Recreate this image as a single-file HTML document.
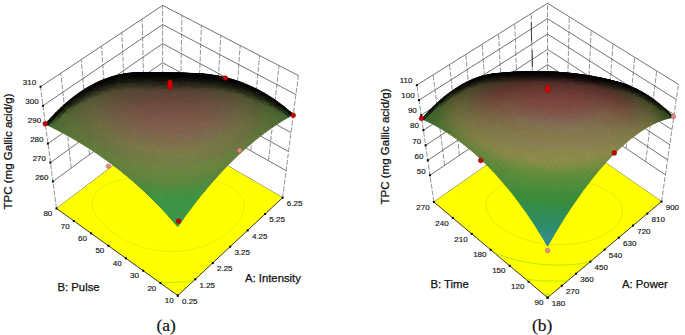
<!DOCTYPE html><html><head><meta charset="utf-8"><style>html,body{margin:0;padding:0;background:#fff;width:685px;height:335px;overflow:hidden}</style></head><body><svg width="685" height="335" viewBox="0 0 685 335" style="position:absolute;left:0;top:0">
<rect width="685" height="335" fill="#fff"/>
<line x1="52.9" y1="181.5" x2="162.6" y2="100.9" stroke="#444" stroke-width="0.75"/>
<line x1="162.6" y1="100.9" x2="286.1" y2="170.7" stroke="#444" stroke-width="0.75"/>
<line x1="50.4" y1="162.6" x2="162.6" y2="81.8" stroke="#444" stroke-width="0.75"/>
<line x1="162.6" y1="81.8" x2="288.6" y2="151.6" stroke="#444" stroke-width="0.75"/>
<line x1="47.9" y1="143.6" x2="162.6" y2="62.7" stroke="#444" stroke-width="0.75"/>
<line x1="162.6" y1="62.7" x2="291" y2="132.6" stroke="#444" stroke-width="0.75"/>
<line x1="45.5" y1="124.6" x2="162.6" y2="43.6" stroke="#444" stroke-width="0.75"/>
<line x1="162.6" y1="43.6" x2="293.5" y2="113.6" stroke="#444" stroke-width="0.75"/>
<line x1="43" y1="105.7" x2="162.6" y2="24.5" stroke="#444" stroke-width="0.75"/>
<line x1="162.6" y1="24.5" x2="295.9" y2="94.6" stroke="#444" stroke-width="0.75"/>
<line x1="40.5" y1="86.7" x2="162.6" y2="5.4" stroke="#444" stroke-width="0.75"/>
<line x1="162.6" y1="5.4" x2="298.4" y2="75.6" stroke="#444" stroke-width="0.75"/>
<line x1="56.5" y1="208.5" x2="162.6" y2="128.1" stroke="#333" stroke-width="0.8"/>
<line x1="162.6" y1="128.1" x2="282.6" y2="197.7" stroke="#333" stroke-width="0.8"/>
<line x1="56.5" y1="208.5" x2="40.5" y2="86.7" stroke="#666" stroke-width="0.7" stroke-dasharray="5,1.6"/>
<line x1="71.2" y1="168.1" x2="60.8" y2="73.2" stroke="#666" stroke-width="0.7" stroke-dasharray="5,1.6"/>
<line x1="89.5" y1="154.7" x2="81.2" y2="59.6" stroke="#666" stroke-width="0.7" stroke-dasharray="5,1.6"/>
<line x1="107.8" y1="141.2" x2="101.5" y2="46.1" stroke="#666" stroke-width="0.7" stroke-dasharray="5,1.6"/>
<line x1="126" y1="127.8" x2="121.9" y2="32.5" stroke="#666" stroke-width="0.7" stroke-dasharray="5,1.6"/>
<line x1="144.3" y1="114.3" x2="142.2" y2="19" stroke="#666" stroke-width="0.7" stroke-dasharray="5,1.6"/>
<line x1="162.6" y1="128.1" x2="162.6" y2="5.4" stroke="#666" stroke-width="0.7" stroke-dasharray="5,1.6"/>
<line x1="282.6" y1="197.7" x2="298.4" y2="75.6" stroke="#666" stroke-width="0.7" stroke-dasharray="5,1.6"/>
<line x1="268.5" y1="160.7" x2="279" y2="65.6" stroke="#666" stroke-width="0.7" stroke-dasharray="5,1.6"/>
<line x1="250.8" y1="150.7" x2="259.6" y2="55.5" stroke="#666" stroke-width="0.7" stroke-dasharray="5,1.6"/>
<line x1="233.2" y1="140.8" x2="240.2" y2="45.5" stroke="#666" stroke-width="0.7" stroke-dasharray="5,1.6"/>
<line x1="215.5" y1="130.8" x2="220.8" y2="35.5" stroke="#666" stroke-width="0.7" stroke-dasharray="5,1.6"/>
<line x1="197.9" y1="120.8" x2="201.4" y2="25.5" stroke="#666" stroke-width="0.7" stroke-dasharray="5,1.6"/>
<line x1="180.2" y1="110.9" x2="182" y2="15.4" stroke="#666" stroke-width="0.7" stroke-dasharray="5,1.6"/>
<polygon points="177.8,295.6 282.6,197.7 162.6,128.1 56.5,208.5" fill="#ffff00"/>
<line x1="177.8" y1="295.6" x2="282.6" y2="197.7" stroke="#222" stroke-width="0.9"/>
<line x1="177.8" y1="295.6" x2="56.5" y2="208.5" stroke="#222" stroke-width="0.9"/>
<path d="M231.3 187.4L232.1 187.9L233.2 188.6L234.4 189.4L235.4 190.2L236.2 190.9L237.1 191.7L237.9 192.4L238.7 193.3L239.3 193.9L239.9 194.6L240.6 195.6L241.2 196.4L241.6 197.2L242.1 198L242.4 198.8L242.7 199.5L243 200.2L243.3 201.2L243.6 202.1L243.7 202.7L243.9 203.7L243.9 204.4L244 205.4L244 206.1L244 207.1L244 207.8L243.9 208.6L243.7 209.6L243.6 210.6L243.4 211.4L243.1 212.3L242.9 213.1L242.6 214L242.2 215L241.8 215.9L241.4 216.7L241 217.5L240.5 218.3L239.9 219.5L239.4 220.3L238.9 221.1L238.1 222.2L237.5 222.9L236.7 224L235.8 225.1L235.2 225.8L234.3 226.8L233.3 227.8L232.3 228.8L231.3 229.8L230.2 230.8L229.1 231.7L228 232.6L226.9 233.5L225.7 234.4L224.9 235L223.7 235.9L222.6 236.6L221.6 237.3L220.4 238.1L219.5 238.6L218.3 239.3L217.3 239.9L216.4 240.4L215 241.1L214 241.6L213.1 242.1L211.9 242.7L210.6 243.2L209.6 243.7L208.6 244.1L207.6 244.5L206.6 245L205.4 245.4L204.2 245.8L203.1 246.2L202 246.6L200.9 247L199.8 247.3L198.8 247.6L197.8 247.9L196.6 248.2L195.4 248.6L194.2 248.9L193 249.1L192 249.4L191 249.6L189.9 249.8L188.6 250L187.5 250.2L186.6 250.4L185.3 250.6L184.1 250.7L183.2 250.8L181.8 251L180.9 251.1L179.7 251.2L178.5 251.3L177.5 251.4L176.2 251.4L175.3 251.5L174 251.5L172.9 251.5L171.8 251.5L170.5 251.5L169.7 251.5L168.3 251.5L167.2 251.4L166.3 251.4L164.9 251.3L163.6 251.2L162.7 251.1L161.6 251L160.4 250.9L159.1 250.7L158 250.6L157 250.5L155.9 250.3L154.8 250.1L153.5 249.9L152.4 249.7L151.2 249.4L150 249.2L148.9 248.9L147.7 248.6L146.6 248.4L145.5 248.1L144.4 247.8L143.1 247.4L141.7 247L140.6 246.6L139.5 246.3L138.5 245.9L137.2 245.4L135.9 245L134.9 244.6L133.7 244.1L132.4 243.6L131.4 243.1L129.9 242.5L129 242.1L127.6 241.4L126.6 240.9L125.2 240.2L124.3 239.7L123 239L121.6 238.3L120.7 237.8L119.4 237L118.2 236.2L116.9 235.4L115.7 234.5L114.4 233.7L113.2 232.8L112 232L110.9 231.1L109.7 230.2L108.6 229.2L107.9 228.6L106.8 227.7L105.7 226.7L105 226L104 225L103.3 224.3L102.4 223.3L101.7 222.6L100.9 221.6L100.2 220.8L99.6 220.1L98.9 219.2L98.2 218.2L97.6 217.4L97.1 216.6L96.6 215.8L96.1 215L95.6 214.1L95.2 213.3L94.8 212.4L94.4 211.5L94 210.6L93.7 209.7L93.4 209.1L93.2 208.3L92.9 207.3L92.8 206.5L92.6 205.7L92.5 204.8L92.5 204.1L92.4 203.1L92.4 202.3L92.5 201.6L92.6 200.6L92.7 199.7L92.9 199L93.1 198.3L93.3 197.5L93.6 196.7L94.1 195.8L94.6 194.8L95 194.1L95.5 193.4L96.3 192.4L96.8 191.7L97.7 190.8L98.7 189.9L99.3 189.3L100.4 188.5L101.5 187.7L102.2 187.2L103.4 186.4L104.6 185.7L105.5 185.3L106.8 184.6L107.7 184.2L109 183.6L110 183.2L111 182.8L112 182.4L113.4 181.9L114.5 181.6L115.5 181.3L116.5 180.9L117.6 180.6L118.7 180.3L119.8 180L120.9 179.8L122 179.5L123.2 179.2L124.3 179L125.5 178.7L126.7 178.5L127.7 178.3L128.7 178.1L129.7 177.9L131 177.7L132.2 177.5L133.3 177.3L134.2 177.2L135.4 177L136.7 176.9L137.7 176.7L138.7 176.6L140.1 176.5L141.1 176.3L142.1 176.2L143.5 176.1L144.5 176L145.6 175.9L146.9 175.8L147.7 175.8L149.1 175.7L150 175.6L151.3 175.5L152.4 175.5L153.5 175.4L154.7 175.3L155.7 175.3L156.9 175.3L158 175.2L159.2 175.2L160.3 175.2L161.4 175.1L162.7 175.1L163.5 175.1L165 175.1L165.9 175.1L167.1 175.1L168.4 175.1L169.2 175.1L170.6 175.2L171.7 175.2L172.6 175.2L174 175.2L175.2 175.3L176 175.3L177.3 175.4L178.7 175.4L179.6 175.5L180.6 175.5L181.9 175.6L183.2 175.7L184.2 175.8L185.2 175.9L186.4 176L187.7 176.1L188.9 176.2L190 176.3L191 176.4L192 176.5L193.2 176.7L194.5 176.8L195.7 177L196.8 177.1L198 177.3L199.2 177.5L200.4 177.7L201.5 177.8L202.7 178L203.8 178.2L204.9 178.5L206 178.7L207.1 178.9L208.2 179.1L209.3 179.4L210.7 179.7L212 180L213.1 180.3L214.1 180.5L215.2 180.8L216.7 181.3L217.7 181.6L218.7 181.9L220.1 182.4L221.1 182.7L222.5 183.2L223.5 183.6L224.8 184.2L225.7 184.6L227.1 185.2L228.4 185.8L229.6 186.5L230.9 187.2" fill="none" stroke="#dcd600" stroke-width="0.5"/>
<path d="M194.1 280.4L193 280.6L191.7 280.8L190.7 280.9L189.7 281.1L188.3 281.3L187.4 281.4L186.3 281.5L184.9 281.7L184.2 281.7L182.7 281.9L181.8 281.9L180.6 282L179.5 282.1L178.3 282.2L177.2 282.2L176.1 282.3L175 282.3L173.7 282.3L172.8 282.4L171.4 282.4L170.6 282.4L169.2 282.4L168.1 282.3L167.1 282.3L165.7 282.2L164.7 282.2L163.7 282.1L162.3 282.1L161.3 282L160.3 281.9L159 281.8" fill="none" stroke="#90e010" stroke-width="0.7"/>
<rect x="176.8" y="294.6" width="2" height="2" fill="#000"/>
<rect x="194.3" y="278.3" width="2" height="2" fill="#000"/>
<rect x="211.8" y="262" width="2" height="2" fill="#000"/>
<rect x="229.2" y="245.7" width="2" height="2" fill="#000"/>
<rect x="246.7" y="229.4" width="2" height="2" fill="#000"/>
<rect x="264.1" y="213" width="2" height="2" fill="#000"/>
<rect x="281.6" y="196.7" width="2" height="2" fill="#000"/>
<rect x="176.8" y="294.6" width="2" height="2" fill="#000"/>
<rect x="159.5" y="282.1" width="2" height="2" fill="#000"/>
<rect x="142.2" y="269.7" width="2" height="2" fill="#000"/>
<rect x="124.8" y="257.3" width="2" height="2" fill="#000"/>
<rect x="107.5" y="244.8" width="2" height="2" fill="#000"/>
<rect x="90.1" y="232.4" width="2" height="2" fill="#000"/>
<rect x="72.8" y="220" width="2" height="2" fill="#000"/>
<rect x="55.5" y="207.5" width="2" height="2" fill="#000"/>
<rect x="51.9" y="180.5" width="2" height="2" fill="#000"/>
<rect x="49.4" y="161.6" width="2" height="2" fill="#000"/>
<rect x="46.9" y="142.6" width="2" height="2" fill="#000"/>
<rect x="44.5" y="123.6" width="2" height="2" fill="#000"/>
<rect x="42" y="104.7" width="2" height="2" fill="#000"/>
<rect x="39.5" y="85.7" width="2" height="2" fill="#000"/>
<path fill="#3c9448" stroke="#3c9448" stroke-width="0.9" d="M177.7 226.8L180.3 223.1L177.4 219.6L174.8 223.3ZM174.8 223.3L177.4 219.6L174.4 216.2L171.8 219.9ZM171.8 219.9L174.4 216.2L171.4 212.8L168.8 216.5ZM168.8 216.5L171.4 212.8L168.4 209.5L165.8 213.2ZM165.8 213.2L168.4 209.5L165.4 206.3L162.8 210ZM162.8 210L165.4 206.3L162.4 203.1L159.8 206.8ZM180.3 223.1L182.9 219.4L180 215.9L177.4 219.6ZM177.4 219.6L180 215.9L177 212.5L174.4 216.2ZM174.4 216.2L177 212.5L174 209.2L171.4 212.8ZM171.4 212.8L174 209.2L171 205.9L168.4 209.5ZM168.4 209.5L171 205.9L168 202.7L165.4 206.3ZM182.9 219.4L185.5 215.7L182.6 212.3L180 215.9ZM180 215.9L182.6 212.3L179.6 208.9L177 212.5ZM177 212.5L179.6 208.9L176.6 205.6L174 209.2ZM174 209.2L176.6 205.6L173.6 202.3L171 205.9ZM185.5 215.7L188.1 212.2L185.2 208.7L182.6 212.3ZM182.6 212.3L185.2 208.7L182.2 205.3L179.6 208.9ZM179.6 208.9L182.2 205.3L179.2 202L176.6 205.6ZM176.6 205.6L179.2 202L176.2 198.8L173.6 202.3ZM188.1 212.2L190.8 208.7L187.8 205.2L185.2 208.7ZM185.2 208.7L187.8 205.2L184.8 201.8L182.2 205.3ZM182.2 205.3L184.8 201.8L181.8 198.5L179.2 202ZM190.8 208.7L193.4 205.2L190.4 201.8L187.8 205.2Z"/>
<path fill="#3c9444" stroke="#3c9444" stroke-width="0.9" d="M159.8 206.8L162.4 203.1L159.4 200L156.8 203.7ZM156.8 203.7L159.4 200L156.4 197L153.8 200.7ZM153.8 200.7L156.4 197L153.3 194L150.8 197.7ZM165.4 206.3L168 202.7L165 199.5L162.4 203.1ZM162.4 203.1L165 199.5L162 196.4L159.4 200ZM171 205.9L173.6 202.3L170.6 199.1L168 202.7ZM168 202.7L170.6 199.1L167.6 195.9L165 199.5ZM173.6 202.3L176.2 198.8L173.2 195.6L170.6 199.1ZM179.2 202L181.8 198.5L178.9 195.3L176.2 198.8ZM187.8 205.2L190.4 201.8L187.5 198.4L184.8 201.8ZM184.8 201.8L187.5 198.4L184.5 195.1L181.8 198.5ZM193.4 205.2L196 201.8L193.1 198.4L190.4 201.8ZM190.4 201.8L193.1 198.4L190.1 195L187.5 198.4ZM196 201.8L198.7 198.4L195.7 195L193.1 198.4Z"/>
<path fill="#409044" stroke="#409044" stroke-width="0.9" d="M150.8 197.7L153.3 194L150.3 191.1L147.7 194.7ZM165 199.5L167.6 195.9L164.6 192.9L162 196.4ZM170.6 199.1L173.2 195.6L170.2 192.4L167.6 195.9ZM176.2 198.8L178.9 195.3L175.9 192.1L173.2 195.6ZM181.8 198.5L184.5 195.1L181.5 191.9L178.9 195.3ZM187.5 198.4L190.1 195L187.1 191.7L184.5 195.1ZM193.1 198.4L195.7 195L192.7 191.7L190.1 195Z"/>
<path fill="#448c40" stroke="#448c40" stroke-width="0.9" d="M147.7 194.7L150.3 191.1L147.3 188.2L144.7 191.9ZM167.6 195.9L170.2 192.4L167.2 189.4L164.6 192.9ZM190.1 195L192.7 191.7L189.8 188.4L187.1 191.7ZM204 191.9L206.6 188.7L203.7 185.3L201 188.5Z"/>
<path fill="#488c40" stroke="#488c40" stroke-width="0.9" d="M144.7 191.9L147.3 188.2L144.3 185.4L141.7 189ZM153.3 194L155.9 190.4L152.9 187.5L150.3 191.1ZM159 193.4L161.6 189.9L158.6 186.9L155.9 190.4ZM173.2 195.6L175.9 192.1L172.9 189L170.2 192.4ZM178.9 195.3L181.5 191.9L178.5 188.7L175.9 192.1ZM184.5 195.1L187.1 191.7L184.1 188.5L181.5 191.9ZM198.4 191.7L201 188.5L198 185.2L195.4 188.4Z"/>
<path fill="#4c8840" stroke="#4c8840" stroke-width="0.9" d="M141.7 189L144.3 185.4L141.2 182.7L138.6 186.3Z"/>
<path fill="#508840" stroke="#508840" stroke-width="0.9" d="M138.6 186.3L141.2 182.7L138.2 180L135.6 183.6ZM147.3 188.2L149.9 184.7L146.9 181.9L144.3 185.4ZM155.9 190.4L158.6 186.9L155.5 184L152.9 187.5ZM195.4 188.4L198 185.2L195.1 182L192.4 185.2ZM201 188.5L203.7 185.3L200.7 182L198 185.2ZM209.3 185.6L211.9 182.5L209 179.2L206.3 182.2Z"/>
<path fill="#548440" stroke="#548440" stroke-width="0.9" d="M135.6 183.6L138.2 180L135.1 177.3L132.6 180.9Z"/>
<path fill="#588440" stroke="#588440" stroke-width="0.9" d="M132.6 180.9L135.1 177.3L132.1 174.8L129.5 178.3ZM141.2 182.7L143.8 179.1L140.8 176.5L138.2 180ZM149.9 184.7L152.5 181.2L149.5 178.4L146.9 181.9ZM214.6 179.5L217.3 176.5L214.3 173.2L211.7 176.2Z"/>
<path fill="#5c843c" stroke="#5c843c" stroke-width="0.9" d="M129.5 178.3L132.1 174.8L129.1 172.2L126.5 175.8Z"/>
<path fill="#60803c" stroke="#60803c" stroke-width="0.9" d="M126.5 175.8L129.1 172.2L126 169.7L123.4 173.3ZM123.4 173.3L126 169.7L123 167.3L120.4 170.8ZM120.4 170.8L123 167.3L119.9 164.9L117.4 168.4ZM117.4 168.4L119.9 164.9L116.9 162.6L114.3 166.1ZM114.3 166.1L116.9 162.6L113.9 160.3L111.3 163.8ZM135.1 177.3L137.7 173.8L134.7 171.3L132.1 174.8ZM132.1 174.8L134.7 171.3L131.7 168.7L129.1 172.2ZM219.9 173.6L222.6 170.7L219.7 167.5L217 170.3ZM222.6 170.7L225.3 167.9L222.3 164.7L219.7 167.5Z"/>
<path fill="#607c3c" stroke="#607c3c" stroke-width="0.9" d="M111.3 163.8L113.9 160.3L110.8 158.1L108.2 161.5ZM108.2 161.5L110.8 158.1L107.8 155.9L105.2 159.3ZM105.2 159.3L107.8 155.9L104.7 153.8L102.2 157.2ZM102.2 157.2L104.7 153.8L101.7 151.7L99.1 155.1ZM99.1 155.1L101.7 151.7L98.7 149.7L96.1 153ZM96.1 153L98.7 149.7L95.6 147.7L93.1 151Z"/>
<path fill="#60783c" stroke="#60783c" stroke-width="0.9" d="M93.1 151L95.6 147.7L92.6 145.7L90.1 149ZM90.1 149L92.6 145.7L89.6 143.8L87.1 147.1ZM92.6 145.7L95.2 142.5L92.2 140.6L89.6 143.8ZM251.9 143L254.6 140.8L251.7 137.8L249 139.9ZM254.6 140.8L257.2 138.6L254.3 135.6L251.7 137.8Z"/>
<path fill="#5c7838" stroke="#5c7838" stroke-width="0.9" d="M87.1 147.1L89.6 143.8L86.6 141.9L84 145.2ZM84 145.2L86.6 141.9L83.6 140.1L81 143.3Z"/>
<path fill="#5c7438" stroke="#5c7438" stroke-width="0.9" d="M81 143.3L83.6 140.1L80.6 138.3L78 141.5ZM78 141.5L80.6 138.3L77.6 136.6L75 139.8ZM80.6 138.3L83.1 135.2L80.1 133.4L77.6 136.6ZM77.6 136.6L80.1 133.4L77.1 131.8L74.6 134.9ZM259.8 136.5L262.5 134.5L259.6 131.6L256.9 133.6ZM262.5 134.5L265.1 132.5L262.2 129.6L259.6 131.6Z"/>
<path fill="#587438" stroke="#587438" stroke-width="0.9" d="M75 139.8L77.6 136.6L74.6 134.9L72 138ZM72 138L74.6 134.9L71.6 133.2L69.1 136.3ZM74.6 134.9L77.1 131.8L74.1 130.1L71.6 133.2Z"/>
<path fill="#587038" stroke="#587038" stroke-width="0.9" d="M69.1 136.3L71.6 133.2L68.6 131.5L66.1 134.7ZM71.6 133.2L74.1 130.1L71.2 128.5L68.6 131.5ZM265.1 132.5L267.7 130.6L264.8 127.7L262.2 129.6ZM267.7 130.6L270.3 128.7L267.4 125.9L264.8 127.7ZM264.8 127.7L267.4 125.9L264.5 123.2L261.9 125Z"/>
<path fill="#547034" stroke="#547034" stroke-width="0.9" d="M66.1 134.7L68.6 131.5L65.6 129.9L63.1 133ZM63.1 133L65.6 129.9L62.7 128.4L60.1 131.5ZM65.6 129.9L68.2 126.9L65.2 125.4L62.7 128.4ZM270.3 128.7L272.9 126.9L270 124.1L267.4 125.9Z"/>
<path fill="#506c34" stroke="#506c34" stroke-width="0.9" d="M60.1 131.5L62.7 128.4L59.7 126.9L57.2 129.9ZM59.7 126.9L62.2 123.9L59.3 122.4L56.7 125.4ZM56.7 125.4L59.3 122.4L56.3 121L53.8 123.9ZM275.5 125.2L278.1 123.5L275.2 120.7L272.6 122.4Z"/>
<path fill="#4c6c34" stroke="#4c6c34" stroke-width="0.9" d="M57.2 129.9L59.7 126.9L56.7 125.4L54.2 128.4ZM54.2 128.4L56.7 125.4L53.8 123.9L51.3 126.9Z"/>
<path fill="#486c34" stroke="#486c34" stroke-width="0.9" d="M51.3 126.9L53.8 123.9L50.8 122.5L48.3 125.4Z"/>
<path fill="#141c10" stroke="#141c10" stroke-width="0.9" d="M48.3 125.4L50.8 122.5L47.9 121.1L45.4 124Z"/>
<path fill="#409444" stroke="#409444" stroke-width="0.9" d="M159.4 200L162 196.4L159 193.4L156.4 197ZM198.7 198.4L201.3 195.1L198.4 191.7L195.7 195Z"/>
<path fill="#449044" stroke="#449044" stroke-width="0.9" d="M156.4 197L159 193.4L155.9 190.4L153.3 194ZM162 196.4L164.6 192.9L161.6 189.9L159 193.4ZM195.7 195L198.4 191.7L195.4 188.4L192.7 191.7ZM201.3 195.1L204 191.9L201 188.5L198.4 191.7Z"/>
<path fill="#4c8c40" stroke="#4c8c40" stroke-width="0.9" d="M150.3 191.1L152.9 187.5L149.9 184.7L147.3 188.2ZM164.6 192.9L167.2 189.4L164.2 186.4L161.6 189.9ZM170.2 192.4L172.9 189L169.8 185.9L167.2 189.4ZM175.9 192.1L178.5 188.7L175.5 185.6L172.9 189ZM181.5 191.9L184.1 188.5L181.1 185.4L178.5 188.7ZM187.1 191.7L189.8 188.4L186.8 185.2L184.1 188.5ZM192.7 191.7L195.4 188.4L192.4 185.2L189.8 188.4ZM206.6 188.7L209.3 185.6L206.3 182.2L203.7 185.3Z"/>
<path fill="#548840" stroke="#548840" stroke-width="0.9" d="M144.3 185.4L146.9 181.9L143.8 179.1L141.2 182.7ZM152.9 187.5L155.5 184L152.5 181.2L149.9 184.7ZM161.6 189.9L164.2 186.4L161.2 183.4L158.6 186.9ZM167.2 189.4L169.8 185.9L166.8 182.9L164.2 186.4ZM172.9 189L175.5 185.6L172.5 182.6L169.8 185.9ZM178.5 188.7L181.1 185.4L178.1 182.3L175.5 185.6ZM184.1 188.5L186.8 185.2L183.8 182.1L181.1 185.4ZM189.8 188.4L192.4 185.2L189.4 182L186.8 185.2ZM203.7 185.3L206.3 182.2L203.4 178.9L200.7 182ZM211.9 182.5L214.6 179.5L211.7 176.2L209 179.2Z"/>
<path fill="#5c8440" stroke="#5c8440" stroke-width="0.9" d="M138.2 180L140.8 176.5L137.7 173.8L135.1 177.3ZM155.5 184L158.1 180.5L155.1 177.7L152.5 181.2ZM200.7 182L203.4 178.9L200.4 175.7L197.7 178.8ZM209 179.2L211.7 176.2L208.7 172.9L206 175.9ZM217.3 176.5L219.9 173.6L217 170.3L214.3 173.2Z"/>
<path fill="#648040" stroke="#648040" stroke-width="0.9" d="M129.1 172.2L131.7 168.7L128.6 166.3L126 169.7ZM126 169.7L128.6 166.3L125.6 163.9L123 167.3Z"/>
<path fill="#64803c" stroke="#64803c" stroke-width="0.9" d="M123 167.3L125.6 163.9L122.5 161.5L119.9 164.9ZM119.9 164.9L122.5 161.5L119.5 159.2L116.9 162.6ZM116.9 162.6L119.5 159.2L116.4 156.9L113.9 160.3ZM225.3 167.9L227.9 165.2L225 162L222.3 164.7ZM227.9 165.2L230.6 162.5L227.7 159.3L225 162ZM230.6 162.5L233.3 159.9L230.4 156.7L227.7 159.3ZM233.3 159.9L236 157.3L233 154.1L230.4 156.7ZM236 157.3L238.6 154.8L235.7 151.6L233 154.1ZM238.6 154.8L241.3 152.3L238.4 149.2L235.7 151.6Z"/>
<path fill="#647c3c" stroke="#647c3c" stroke-width="0.9" d="M113.9 160.3L116.4 156.9L113.4 154.7L110.8 158.1ZM110.8 158.1L113.4 154.7L110.4 152.6L107.8 155.9ZM107.8 155.9L110.4 152.6L107.3 150.5L104.7 153.8ZM241.3 152.3L243.9 149.9L241 146.8L238.4 149.2ZM243.9 149.9L246.6 147.5L243.7 144.4L241 146.8Z"/>
<path fill="#64783c" stroke="#64783c" stroke-width="0.9" d="M104.7 153.8L107.3 150.5L104.3 148.4L101.7 151.7ZM101.7 151.7L104.3 148.4L101.3 146.4L98.7 149.7ZM98.7 149.7L101.3 146.4L98.2 144.4L95.6 147.7ZM95.6 147.7L98.2 144.4L95.2 142.5L92.6 145.7ZM246.6 147.5L249.3 145.2L246.4 142.1L243.7 144.4ZM249.3 145.2L251.9 143L249 139.9L246.4 142.1Z"/>
<path fill="#60743c" stroke="#60743c" stroke-width="0.9" d="M89.6 143.8L92.2 140.6L89.2 138.7L86.6 141.9ZM86.6 141.9L89.2 138.7L86.1 136.9L83.6 140.1Z"/>
<path fill="#607438" stroke="#607438" stroke-width="0.9" d="M83.6 140.1L86.1 136.9L83.1 135.2L80.6 138.3ZM257.2 138.6L259.8 136.5L256.9 133.6L254.3 135.6Z"/>
<path fill="#587034" stroke="#587034" stroke-width="0.9" d="M68.6 131.5L71.2 128.5L68.2 126.9L65.6 129.9ZM71.2 128.5L73.7 125.5L70.7 124L68.2 126.9Z"/>
<path fill="#546c34" stroke="#546c34" stroke-width="0.9" d="M62.7 128.4L65.2 125.4L62.2 123.9L59.7 126.9ZM65.2 125.4L67.8 122.5L64.8 121L62.2 123.9ZM62.2 123.9L64.8 121L61.8 119.6L59.3 122.4ZM67.8 122.5L70.4 119.7L67.4 118.2L64.8 121ZM64.8 121L67.4 118.2L64.4 116.8L61.8 119.6ZM272.9 126.9L275.5 125.2L272.6 122.4L270 124.1ZM270 124.1L272.6 122.4L269.7 119.7L267.1 121.4ZM267.1 121.4L269.7 119.7L266.8 117.1L264.2 118.8Z"/>
<path fill="#3c5428" stroke="#3c5428" stroke-width="0.9" d="M53.8 123.9L56.3 121L53.4 119.6L50.8 122.5Z"/>
<path fill="#0c1008" stroke="#0c1008" stroke-width="0.9" d="M50.8 122.5L53.4 119.6L50.4 118.2L47.9 121.1ZM87.9 92.8L90.6 91L87.7 90L85 91.8ZM115.5 82.2L118.2 80.9L115.3 80.3L112.5 81.4ZM123.9 80.5L126.6 79.4L123.7 78.8L120.9 79.8ZM129.6 80.1L132.3 79L129.3 78.4L126.6 79.4ZM135.3 79.7L138 78.7L135 78.1L132.3 79ZM149.7 79.9L152.4 78.9L149.4 78.2L146.7 79.2ZM169.8 80.2L172.5 79.3L169.5 78.5L166.8 79.4ZM206.9 81.5L209.6 80.7L206.5 79.8L203.9 80.5ZM221.3 83.2L223.9 82.4L220.8 81.3L218.2 82.1ZM229.9 84.8L232.5 84L229.5 82.8L226.9 83.6ZM244.6 89.5L247.1 88.5L244.1 87.1L241.6 88ZM241.6 88L244.1 87.1L241.1 85.7L238.5 86.6ZM262.1 96.9L264.6 95.9L261.7 94.1L259.1 95.1ZM259.1 95.1L261.7 94.1L258.7 92.4L256.1 93.4Z"/>
<path fill="#608440" stroke="#608440" stroke-width="0.9" d="M146.9 181.9L149.5 178.4L146.4 175.7L143.8 179.1ZM143.8 179.1L146.4 175.7L143.4 173L140.8 176.5ZM152.5 181.2L155.1 177.7L152.1 175L149.5 178.4ZM161.2 183.4L163.8 180L160.8 177.1L158.1 180.5ZM166.8 182.9L169.5 179.6L166.4 176.7L163.8 180ZM183.8 182.1L186.4 178.8L183.4 175.8L180.8 179ZM189.4 182L192.1 178.8L189.1 175.7L186.4 178.8ZM195.1 182L197.7 178.8L194.7 175.6L192.1 178.8ZM203.4 178.9L206 175.9L203.1 172.7L200.4 175.7ZM211.7 176.2L214.3 173.2L211.4 170L208.7 172.9Z"/>
<path fill="#648440" stroke="#648440" stroke-width="0.9" d="M140.8 176.5L143.4 173L140.3 170.4L137.7 173.8ZM137.7 173.8L140.3 170.4L137.3 167.8L134.7 171.3ZM134.7 171.3L137.3 167.8L134.3 165.3L131.7 168.7ZM149.5 178.4L152.1 175L149 172.3L146.4 175.7ZM146.4 175.7L149 172.3L146 169.6L143.4 173ZM158.1 180.5L160.8 177.1L157.7 174.3L155.1 177.7ZM155.1 177.7L157.7 174.3L154.7 171.6L152.1 175ZM163.8 180L166.4 176.7L163.4 173.8L160.8 177.1ZM172.5 182.6L175.1 179.2L172.1 176.3L169.5 179.6ZM169.5 179.6L172.1 176.3L169.1 173.4L166.4 176.7ZM178.1 182.3L180.8 179L177.8 176L175.1 179.2ZM175.1 179.2L177.8 176L174.8 173L172.1 176.3ZM180.8 179L183.4 175.8L180.4 172.8L177.8 176ZM186.4 178.8L189.1 175.7L186.1 172.6L183.4 175.8ZM192.1 178.8L194.7 175.6L191.8 172.6L189.1 175.7ZM197.7 178.8L200.4 175.7L197.4 172.6L194.7 175.6ZM200.4 175.7L203.1 172.7L200.1 169.6L197.4 172.6ZM206 175.9L208.7 172.9L205.7 169.7L203.1 172.7ZM208.7 172.9L211.4 170L208.4 166.8L205.7 169.7ZM214.3 173.2L217 170.3L214 167.1L211.4 170ZM217 170.3L219.7 167.5L216.7 164.3L214 167.1ZM219.7 167.5L222.3 164.7L219.4 161.5L216.7 164.3Z"/>
<path fill="#688040" stroke="#688040" stroke-width="0.9" d="M131.7 168.7L134.3 165.3L131.2 162.9L128.6 166.3ZM128.6 166.3L131.2 162.9L128.2 160.5L125.6 163.9ZM125.6 163.9L128.2 160.5L125.1 158.2L122.5 161.5ZM137.3 167.8L139.9 164.5L136.9 162L134.3 165.3ZM216.7 164.3L219.4 161.5L216.4 158.4L213.8 161.1ZM222.3 164.7L225 162L222.1 158.8L219.4 161.5ZM225 162L227.7 159.3L224.7 156.1L222.1 158.8ZM227.7 159.3L230.4 156.7L227.4 153.6L224.7 156.1Z"/>
<path fill="#687c40" stroke="#687c40" stroke-width="0.9" d="M122.5 161.5L125.1 158.2L122.1 155.9L119.5 159.2ZM119.5 159.2L122.1 155.9L119 153.6L116.4 156.9ZM230.4 156.7L233 154.1L230.1 151L227.4 153.6ZM233 154.1L235.7 151.6L232.8 148.5L230.1 151Z"/>
<path fill="#687840" stroke="#687840" stroke-width="0.9" d="M116.4 156.9L119 153.6L116 151.4L113.4 154.7ZM113.4 154.7L116 151.4L112.9 149.3L110.4 152.6ZM110.4 152.6L112.9 149.3L109.9 147.2L107.3 150.5ZM235.7 151.6L238.4 149.2L235.4 146.1L232.8 148.5ZM238.4 149.2L241 146.8L238.1 143.7L235.4 146.1ZM241 146.8L243.7 144.4L240.8 141.4L238.1 143.7Z"/>
<path fill="#687440" stroke="#687440" stroke-width="0.9" d="M107.3 150.5L109.9 147.2L106.9 145.2L104.3 148.4ZM104.3 148.4L106.9 145.2L103.8 143.2L101.3 146.4ZM101.3 146.4L103.8 143.2L100.8 141.2L98.2 144.4ZM98.2 144.4L100.8 141.2L97.8 139.3L95.2 142.5ZM243.7 144.4L246.4 142.1L243.4 139.2L240.8 141.4Z"/>
<path fill="#64743c" stroke="#64743c" stroke-width="0.9" d="M95.2 142.5L97.8 139.3L94.8 137.4L92.2 140.6ZM249 139.9L251.7 137.8L248.7 134.8L246.1 137ZM251.7 137.8L254.3 135.6L251.4 132.7L248.7 134.8Z"/>
<path fill="#64703c" stroke="#64703c" stroke-width="0.9" d="M92.2 140.6L94.8 137.4L91.7 135.6L89.2 138.7ZM89.2 138.7L91.7 135.6L88.7 133.8L86.1 136.9Z"/>
<path fill="#60703c" stroke="#60703c" stroke-width="0.9" d="M86.1 136.9L88.7 133.8L85.7 132.1L83.1 135.2ZM83.1 135.2L85.7 132.1L82.7 130.4L80.1 133.4ZM254.3 135.6L256.9 133.6L254 130.7L251.4 132.7ZM256.9 133.6L259.6 131.6L256.7 128.7L254 130.7Z"/>
<path fill="#5c7038" stroke="#5c7038" stroke-width="0.9" d="M80.1 133.4L82.7 130.4L79.7 128.7L77.1 131.8ZM77.1 131.8L79.7 128.7L76.7 127.1L74.1 130.1ZM74.1 130.1L76.7 127.1L73.7 125.5L71.2 128.5ZM259.6 131.6L262.2 129.6L259.3 126.8L256.7 128.7ZM262.2 129.6L264.8 127.7L261.9 125L259.3 126.8Z"/>
<path fill="#586c34" stroke="#586c34" stroke-width="0.9" d="M68.2 126.9L70.7 124L67.8 122.5L65.2 125.4ZM70.7 124L73.3 121.1L70.4 119.7L67.8 122.5ZM267.4 125.9L270 124.1L267.1 121.4L264.5 123.2Z"/>
<path fill="#506834" stroke="#506834" stroke-width="0.9" d="M59.3 122.4L61.8 119.6L58.9 118.2L56.3 121ZM61.8 119.6L64.4 116.8L61.5 115.5L58.9 118.2ZM278.1 123.5L280.7 121.8L277.8 119.1L275.2 120.7Z"/>
<path fill="#3c5028" stroke="#3c5028" stroke-width="0.9" d="M56.3 121L58.9 118.2L55.9 116.8L53.4 119.6Z"/>
<path fill="#0c1408" stroke="#0c1408" stroke-width="0.9" d="M53.4 119.6L55.9 116.8L53 115.5L50.4 118.2Z"/>
<path fill="#588840" stroke="#588840" stroke-width="0.9" d="M158.6 186.9L161.2 183.4L158.1 180.5L155.5 184ZM164.2 186.4L166.8 182.9L163.8 180L161.2 183.4ZM192.4 185.2L195.1 182L192.1 178.8L189.4 182ZM198 185.2L200.7 182L197.7 178.8L195.1 182ZM206.3 182.2L209 179.2L206 175.9L203.4 178.9Z"/>
<path fill="#688440" stroke="#688440" stroke-width="0.9" d="M143.4 173L146 169.6L143 167L140.3 170.4ZM140.3 170.4L143 167L139.9 164.5L137.3 167.8ZM152.1 175L154.7 171.6L151.7 168.9L149 172.3ZM149 172.3L151.7 168.9L148.6 166.3L146 169.6ZM160.8 177.1L163.4 173.8L160.4 171L157.7 174.3ZM157.7 174.3L160.4 171L157.3 168.3L154.7 171.6ZM166.4 176.7L169.1 173.4L166.1 170.5L163.4 173.8ZM163.4 173.8L166.1 170.5L163 167.8L160.4 171ZM172.1 176.3L174.8 173L171.7 170.2L169.1 173.4ZM177.8 176L180.4 172.8L177.4 169.9L174.8 173ZM183.4 175.8L186.1 172.6L183.1 169.6L180.4 172.8ZM189.1 175.7L191.8 172.6L188.8 169.5L186.1 172.6ZM194.7 175.6L197.4 172.6L194.4 169.5L191.8 172.6ZM191.8 172.6L194.4 169.5L191.4 166.5L188.8 169.5ZM197.4 172.6L200.1 169.6L197.1 166.5L194.4 169.5ZM203.1 172.7L205.7 169.7L202.8 166.6L200.1 169.6ZM205.7 169.7L208.4 166.8L205.4 163.7L202.8 166.6ZM211.4 170L214 167.1L211.1 163.9L208.4 166.8ZM214 167.1L216.7 164.3L213.8 161.1L211.1 163.9Z"/>
<path fill="#6c8040" stroke="#6c8040" stroke-width="0.9" d="M134.3 165.3L136.9 162L133.8 159.6L131.2 162.9ZM146 169.6L148.6 166.3L145.6 163.7L143 167ZM143 167L145.6 163.7L142.5 161.2L139.9 164.5ZM211.1 163.9L213.8 161.1L210.8 158.1L208.1 160.9ZM219.4 161.5L222.1 158.8L219.1 155.7L216.4 158.4Z"/>
<path fill="#6c7c40" stroke="#6c7c40" stroke-width="0.9" d="M131.2 162.9L133.8 159.6L130.8 157.2L128.2 160.5ZM128.2 160.5L130.8 157.2L127.7 154.9L125.1 158.2ZM222.1 158.8L224.7 156.1L221.8 153.1L219.1 155.7ZM224.7 156.1L227.4 153.6L224.5 150.5L221.8 153.1Z"/>
<path fill="#6c7844" stroke="#6c7844" stroke-width="0.9" d="M125.1 158.2L127.7 154.9L124.7 152.6L122.1 155.9ZM122.1 155.9L124.7 152.6L121.6 150.4L119 153.6Z"/>
<path fill="#6c7444" stroke="#6c7444" stroke-width="0.9" d="M119 153.6L121.6 150.4L118.6 148.2L116 151.4ZM116 151.4L118.6 148.2L115.5 146.1L112.9 149.3Z"/>
<path fill="#6c7440" stroke="#6c7440" stroke-width="0.9" d="M112.9 149.3L115.5 146.1L112.5 144L109.9 147.2ZM109.9 147.2L112.5 144L109.5 142L106.9 145.2ZM232.8 148.5L235.4 146.1L232.5 143.1L229.8 145.5ZM235.4 146.1L238.1 143.7L235.2 140.8L232.5 143.1ZM238.1 143.7L240.8 141.4L237.8 138.5L235.2 140.8Z"/>
<path fill="#6c7040" stroke="#6c7040" stroke-width="0.9" d="M106.9 145.2L109.5 142L106.4 140L103.8 143.2ZM103.8 143.2L106.4 140L103.4 138.1L100.8 141.2ZM106.4 140L109 137L106 135L103.4 138.1ZM103.4 138.1L106 135L103 133.2L100.4 136.2ZM100.4 136.2L103 133.2L100 131.4L97.3 134.4ZM240.8 141.4L243.4 139.2L240.5 136.3L237.8 138.5ZM237.8 138.5L240.5 136.3L237.6 133.5L234.9 135.7ZM240.5 136.3L243.2 134.1L240.2 131.3L237.6 133.5ZM243.2 134.1L245.8 132L242.9 129.2L240.2 131.3Z"/>
<path fill="#687040" stroke="#687040" stroke-width="0.9" d="M100.8 141.2L103.4 138.1L100.4 136.2L97.8 139.3ZM97.8 139.3L100.4 136.2L97.3 134.4L94.8 137.4ZM94.8 137.4L97.3 134.4L94.3 132.6L91.7 135.6ZM243.4 139.2L246.1 137L243.2 134.1L240.5 136.3ZM246.1 137L248.7 134.8L245.8 132L243.2 134.1ZM248.7 134.8L251.4 132.7L248.5 129.9L245.8 132Z"/>
<path fill="#646c3c" stroke="#646c3c" stroke-width="0.9" d="M91.7 135.6L94.3 132.6L91.3 130.8L88.7 133.8ZM88.7 133.8L91.3 130.8L88.3 129.1L85.7 132.1ZM85.7 132.1L88.3 129.1L85.3 127.4L82.7 130.4ZM91.3 130.8L93.9 127.9L90.9 126.2L88.3 129.1ZM88.3 129.1L90.9 126.2L87.9 124.5L85.3 127.4ZM251.4 132.7L254 130.7L251.1 127.9L248.5 129.9ZM254 130.7L256.7 128.7L253.8 126L251.1 127.9ZM251.1 127.9L253.8 126L250.8 123.3L248.2 125.2Z"/>
<path fill="#606c3c" stroke="#606c3c" stroke-width="0.9" d="M82.7 130.4L85.3 127.4L82.3 125.8L79.7 128.7ZM256.7 128.7L259.3 126.8L256.4 124.1L253.8 126Z"/>
<path fill="#606c38" stroke="#606c38" stroke-width="0.9" d="M79.7 128.7L82.3 125.8L79.3 124.2L76.7 127.1ZM259.3 126.8L261.9 125L259 122.3L256.4 124.1Z"/>
<path fill="#5c6c38" stroke="#5c6c38" stroke-width="0.9" d="M76.7 127.1L79.3 124.2L76.3 122.7L73.7 125.5ZM73.7 125.5L76.3 122.7L73.3 121.1L70.7 124ZM261.9 125L264.5 123.2L261.6 120.5L259 122.3Z"/>
<path fill="#303c1c" stroke="#303c1c" stroke-width="0.9" d="M58.9 118.2L61.5 115.5L58.5 114.1L55.9 116.8Z"/>
<path fill="#080804" stroke="#080804" stroke-width="0.9" d="M55.9 116.8L58.5 114.1L55.6 112.8L53 115.5ZM63.7 109L66.3 106.5L63.4 105.3L60.8 107.8ZM66.3 106.5L69 104.2L66 103L63.4 105.3ZM96 87.6L98.7 86.1L95.8 85.3L93.1 86.8ZM98.7 86.1L101.4 84.6L98.5 83.8L95.8 85.3ZM101.4 84.6L104.2 83.2L101.2 82.5L98.5 83.8ZM104.2 83.2L106.9 81.9L103.9 81.3L101.2 82.5ZM115.3 80.3L118 79.2L115 78.6L112.3 79.6ZM123.7 78.8L126.4 77.8L123.4 77.2L120.7 78.2ZM129.3 78.4L132.1 77.5L129.1 76.9L126.4 77.8ZM135 78.1L137.7 77.2L134.8 76.6L132.1 77.5ZM143.7 78.4L146.4 77.5L143.4 76.9L140.7 77.8ZM140.7 77.8L143.4 76.9L140.4 76.4L137.7 77.2ZM149.4 78.2L152.1 77.3L149.1 76.7L146.4 77.5ZM155.1 78L157.8 77.2L154.8 76.6L152.1 77.3ZM163.8 78.6L166.4 77.8L163.4 77.1L160.8 77.9ZM160.8 77.9L163.4 77.1L160.4 76.4L157.8 77.2ZM169.5 78.5L172.1 77.7L169.1 77L166.4 77.8ZM166.4 77.8L169.1 77L166.1 76.3L163.4 77.1ZM175.1 78.4L177.8 77.7L174.8 76.9L172.1 77.7ZM180.8 78.4L183.5 77.7L180.5 77L177.8 77.7ZM189.5 79.3L192.2 78.6L189.2 77.8L186.5 78.5ZM186.5 78.5L189.2 77.8L186.1 77L183.5 77.7ZM195.2 79.4L197.8 78.7L194.8 77.9L192.2 78.6ZM192.2 78.6L194.8 77.9L191.8 77.1L189.2 77.8ZM200.9 79.6L203.5 78.9L200.5 78L197.8 78.7ZM197.8 78.7L200.5 78L197.4 77.2L194.8 77.9ZM206.5 79.8L209.1 79.1L206.1 78.2L203.5 78.9ZM212.2 80L214.8 79.3L211.7 78.5L209.1 79.1ZM220.8 81.3L223.4 80.6L220.4 79.6L217.8 80.3ZM232.5 84L235.1 83.2L232 82.1L229.5 82.8ZM229.5 82.8L232 82.1L229 81L226.4 81.7ZM247.1 88.5L249.7 87.7L246.7 86.3L244.1 87.1ZM244.1 87.1L246.7 86.3L243.7 85L241.1 85.7ZM285.1 110.8L287.6 109.5L284.8 107.1L282.2 108.4Z"/>
<path fill="#6c7c44" stroke="#6c7c44" stroke-width="0.9" d="M139.9 164.5L142.5 161.2L139.5 158.7L136.9 162ZM213.8 161.1L216.4 158.4L213.5 155.4L210.8 158.1Z"/>
<path fill="#707c44" stroke="#707c44" stroke-width="0.9" d="M136.9 162L139.5 158.7L136.4 156.3L133.8 159.6ZM145.6 163.7L148.2 160.4L145.2 157.9L142.5 161.2ZM154.3 165.6L156.9 162.4L153.9 159.8L151.3 163ZM151.3 163L153.9 159.8L150.9 157.3L148.2 160.4ZM160 165.1L162.6 161.9L159.6 159.2L156.9 162.4ZM194.1 163.5L196.8 160.6L193.8 157.7L191.1 160.6ZM199.8 163.6L202.4 160.7L199.5 157.7L196.8 160.6ZM202.4 160.7L205.1 157.9L202.1 154.9L199.5 157.7ZM208.1 160.9L210.8 158.1L207.8 155.1L205.1 157.9ZM216.4 158.4L219.1 155.7L216.1 152.7L213.5 155.4Z"/>
<path fill="#707844" stroke="#707844" stroke-width="0.9" d="M133.8 159.6L136.4 156.3L133.4 153.9L130.8 157.2ZM130.8 157.2L133.4 153.9L130.3 151.6L127.7 154.9ZM127.7 154.9L130.3 151.6L127.3 149.4L124.7 152.6ZM142.5 161.2L145.2 157.9L142.1 155.5L139.5 158.7ZM139.5 158.7L142.1 155.5L139.1 153.1L136.4 156.3ZM210.8 158.1L213.5 155.4L210.5 152.4L207.8 155.1ZM213.5 155.4L216.1 152.7L213.2 149.8L210.5 152.4ZM219.1 155.7L221.8 153.1L218.8 150.1L216.1 152.7ZM221.8 153.1L224.5 150.5L221.5 147.5L218.8 150.1ZM224.5 150.5L227.1 148L224.2 145L221.5 147.5Z"/>
<path fill="#707444" stroke="#707444" stroke-width="0.9" d="M124.7 152.6L127.3 149.4L124.3 147.2L121.6 150.4ZM121.6 150.4L124.3 147.2L121.2 145.1L118.6 148.2ZM118.6 148.2L121.2 145.1L118.2 143L115.5 146.1ZM115.5 146.1L118.2 143L115.1 140.9L112.5 144ZM112.5 144L115.1 140.9L112.1 138.9L109.5 142ZM227.1 148L229.8 145.5L226.9 142.6L224.2 145ZM229.8 145.5L232.5 143.1L229.5 140.2L226.9 142.6ZM232.5 143.1L235.2 140.8L232.2 137.9L229.5 140.2ZM229.5 140.2L232.2 137.9L229.3 135.1L226.6 137.4ZM235.2 140.8L237.8 138.5L234.9 135.7L232.2 137.9Z"/>
<path fill="#707044" stroke="#707044" stroke-width="0.9" d="M109.5 142L112.1 138.9L109 137L106.4 140ZM115.1 140.9L117.7 137.9L114.7 135.9L112.1 138.9ZM112.1 138.9L114.7 135.9L111.7 134L109 137ZM109 137L111.7 134L108.6 132.1L106 135ZM232.2 137.9L234.9 135.7L231.9 132.9L229.3 135.1ZM234.9 135.7L237.6 133.5L234.6 130.7L231.9 132.9ZM231.9 132.9L234.6 130.7L231.6 128L229 130.2Z"/>
<path fill="#686c40" stroke="#686c40" stroke-width="0.9" d="M97.3 134.4L100 131.4L96.9 129.6L94.3 132.6ZM94.3 132.6L96.9 129.6L93.9 127.9L91.3 130.8ZM96.9 129.6L99.6 126.7L96.5 125L93.9 127.9ZM93.9 127.9L96.5 125L93.5 123.4L90.9 126.2ZM245.8 132L248.5 129.9L245.5 127.2L242.9 129.2ZM248.5 129.9L251.1 127.9L248.2 125.2L245.5 127.2ZM245.5 127.2L248.2 125.2L245.2 122.6L242.6 124.5Z"/>
<path fill="#64683c" stroke="#64683c" stroke-width="0.9" d="M85.3 127.4L87.9 124.5L84.9 122.9L82.3 125.8ZM90.9 126.2L93.5 123.4L90.5 121.7L87.9 124.5ZM87.9 124.5L90.5 121.7L87.5 120.2L84.9 122.9ZM90.5 121.7L93.1 119L90.1 117.5L87.5 120.2ZM253.8 126L256.4 124.1L253.5 121.5L250.8 123.3ZM250.8 123.3L253.5 121.5L250.5 118.9L247.9 120.7ZM247.9 120.7L250.5 118.9L247.6 116.4L244.9 118.2Z"/>
<path fill="#60683c" stroke="#60683c" stroke-width="0.9" d="M82.3 125.8L84.9 122.9L81.9 121.4L79.3 124.2ZM84.9 122.9L87.5 120.2L84.5 118.6L81.9 121.4ZM256.4 124.1L259 122.3L256.1 119.7L253.5 121.5ZM253.5 121.5L256.1 119.7L253.2 117.1L250.5 118.9Z"/>
<path fill="#5c6838" stroke="#5c6838" stroke-width="0.9" d="M79.3 124.2L81.9 121.4L78.9 119.9L76.3 122.7ZM76.3 122.7L78.9 119.9L75.9 118.4L73.3 121.1ZM259 122.3L261.6 120.5L258.7 117.9L256.1 119.7ZM261.6 120.5L264.2 118.8L261.3 116.2L258.7 117.9Z"/>
<path fill="#586838" stroke="#586838" stroke-width="0.9" d="M73.3 121.1L75.9 118.4L72.9 116.9L70.4 119.7Z"/>
<path fill="#586834" stroke="#586834" stroke-width="0.9" d="M70.4 119.7L72.9 116.9L70 115.5L67.4 118.2ZM264.2 118.8L266.8 117.1L263.9 114.6L261.3 116.2Z"/>
<path fill="#546834" stroke="#546834" stroke-width="0.9" d="M67.4 118.2L70 115.5L67 114.2L64.4 116.8ZM64.4 116.8L67 114.2L64.1 112.8L61.5 115.5ZM272.6 122.4L275.2 120.7L272.3 118.1L269.7 119.7ZM269.7 119.7L272.3 118.1L269.4 115.5L266.8 117.1ZM266.8 117.1L269.4 115.5L266.5 113.1L263.9 114.6Z"/>
<path fill="#2c3c1c" stroke="#2c3c1c" stroke-width="0.9" d="M61.5 115.5L64.1 112.8L61.1 111.5L58.5 114.1ZM274.2 108.7L276.8 107.4L273.9 105.1L271.3 106.4Z"/>
<path fill="#080c04" stroke="#080c04" stroke-width="0.9" d="M58.5 114.1L61.1 111.5L58.2 110.2L55.6 112.8ZM112.5 81.4L115.3 80.3L112.3 79.6L109.6 80.7ZM120.9 79.8L123.7 78.8L120.7 78.2L118 79.2ZM126.6 79.4L129.3 78.4L126.4 77.8L123.7 78.8ZM132.3 79L135 78.1L132.1 77.5L129.3 78.4ZM138 78.7L140.7 77.8L137.7 77.2L135 78.1ZM152.4 78.9L155.1 78L152.1 77.3L149.4 78.2ZM158.1 78.7L160.8 77.9L157.8 77.2L155.1 78ZM178.2 79.3L180.8 78.4L177.8 77.7L175.1 78.4ZM183.8 79.3L186.5 78.5L183.5 77.7L180.8 78.4ZM209.6 80.7L212.2 80L209.1 79.1L206.5 79.8ZM215.2 81L217.8 80.3L214.8 79.3L212.2 80ZM223.9 82.4L226.4 81.7L223.4 80.6L220.8 81.3ZM235.5 85.2L238.1 84.4L235.1 83.2L232.5 84ZM253.1 91.7L255.7 90.7L252.7 89.2L250.1 90.1ZM250.1 90.1L252.7 89.2L249.7 87.7L247.1 88.5ZM288 113.3L290.5 111.9L287.6 109.5L285.1 110.8Z"/>
<path fill="#5c8840" stroke="#5c8840" stroke-width="0.9" d="M169.8 185.9L172.5 182.6L169.5 179.6L166.8 182.9ZM175.5 185.6L178.1 182.3L175.1 179.2L172.5 182.6ZM181.1 185.4L183.8 182.1L180.8 179L178.1 182.3ZM186.8 185.2L189.4 182L186.4 178.8L183.8 182.1Z"/>
<path fill="#6c8440" stroke="#6c8440" stroke-width="0.9" d="M154.7 171.6L157.3 168.3L154.3 165.6L151.7 168.9ZM160.4 171L163 167.8L160 165.1L157.3 168.3ZM169.1 173.4L171.7 170.2L168.7 167.3L166.1 170.5ZM174.8 173L177.4 169.9L174.4 167L171.7 170.2ZM180.4 172.8L183.1 169.6L180.1 166.7L177.4 169.9ZM186.1 172.6L188.8 169.5L185.7 166.6L183.1 169.6ZM194.4 169.5L197.1 166.5L194.1 163.5L191.4 166.5ZM200.1 169.6L202.8 166.6L199.8 163.6L197.1 166.5ZM208.4 166.8L211.1 163.9L208.1 160.9L205.4 163.7Z"/>
<path fill="#6c8044" stroke="#6c8044" stroke-width="0.9" d="M151.7 168.9L154.3 165.6L151.3 163L148.6 166.3ZM166.1 170.5L168.7 167.3L165.7 164.6L163 167.8ZM171.7 170.2L174.4 167L171.4 164.2L168.7 167.3ZM177.4 169.9L180.1 166.7L177.1 163.9L174.4 167ZM183.1 169.6L185.7 166.6L182.7 163.7L180.1 166.7ZM197.1 166.5L199.8 163.6L196.8 160.6L194.1 163.5ZM202.8 166.6L205.4 163.7L202.4 160.7L199.8 163.6Z"/>
<path fill="#708044" stroke="#708044" stroke-width="0.9" d="M148.6 166.3L151.3 163L148.2 160.4L145.6 163.7ZM157.3 168.3L160 165.1L156.9 162.4L154.3 165.6ZM163 167.8L165.7 164.6L162.6 161.9L160 165.1ZM168.7 167.3L171.4 164.2L168.3 161.4L165.7 164.6ZM174.4 167L177.1 163.9L174 161.1L171.4 164.2ZM180.1 166.7L182.7 163.7L179.7 160.8L177.1 163.9ZM185.7 166.6L188.4 163.5L185.4 160.7L182.7 163.7ZM191.4 166.5L194.1 163.5L191.1 160.6L188.4 163.5ZM205.4 163.7L208.1 160.9L205.1 157.9L202.4 160.7Z"/>
<path fill="#747844" stroke="#747844" stroke-width="0.9" d="M136.4 156.3L139.1 153.1L136 150.8L133.4 153.9ZM133.4 153.9L136 150.8L133 148.5L130.3 151.6ZM130.3 151.6L133 148.5L129.9 146.3L127.3 149.4ZM148.2 160.4L150.9 157.3L147.8 154.8L145.2 157.9ZM205.1 157.9L207.8 155.1L204.8 152.2L202.1 154.9ZM216.1 152.7L218.8 150.1L215.9 147.2L213.2 149.8ZM218.8 150.1L221.5 147.5L218.5 144.6L215.9 147.2ZM221.5 147.5L224.2 145L221.2 142.2L218.5 144.6Z"/>
<path fill="#747444" stroke="#747444" stroke-width="0.9" d="M127.3 149.4L129.9 146.3L126.9 144.1L124.3 147.2ZM124.3 147.2L126.9 144.1L123.8 142L121.2 145.1ZM121.2 145.1L123.8 142L120.8 139.9L118.2 143ZM118.2 143L120.8 139.9L117.7 137.9L115.1 140.9ZM224.2 145L226.9 142.6L223.9 139.8L221.2 142.2ZM221.2 142.2L223.9 139.8L220.9 137L218.2 139.4ZM226.9 142.6L229.5 140.2L226.6 137.4L223.9 139.8ZM223.9 139.8L226.6 137.4L223.6 134.7L220.9 137Z"/>
<path fill="#707040" stroke="#707040" stroke-width="0.9" d="M106 135L108.6 132.1L105.6 130.2L103 133.2ZM237.6 133.5L240.2 131.3L237.3 128.6L234.6 130.7Z"/>
<path fill="#6c6c40" stroke="#6c6c40" stroke-width="0.9" d="M103 133.2L105.6 130.2L102.6 128.5L100 131.4ZM100 131.4L102.6 128.5L99.6 126.7L96.9 129.6ZM102.6 128.5L105.2 125.6L102.2 123.9L99.6 126.7ZM99.6 126.7L102.2 123.9L99.2 122.2L96.5 125ZM240.2 131.3L242.9 129.2L239.9 126.5L237.3 128.6ZM242.9 129.2L245.5 127.2L242.6 124.5L239.9 126.5ZM239.9 126.5L242.6 124.5L239.6 122L237 123.9Z"/>
<path fill="#606438" stroke="#606438" stroke-width="0.9" d="M81.9 121.4L84.5 118.6L81.5 117.1L78.9 119.9ZM87.1 116L89.8 113.4L86.8 111.9L84.1 114.5ZM256.1 119.7L258.7 117.9L255.8 115.4L253.2 117.1ZM253.2 117.1L255.8 115.4L252.8 113L250.2 114.7Z"/>
<path fill="#5c6438" stroke="#5c6438" stroke-width="0.9" d="M78.9 119.9L81.5 117.1L78.5 115.7L75.9 118.4ZM75.9 118.4L78.5 115.7L75.6 114.3L72.9 116.9ZM81.5 117.1L84.1 114.5L81.2 113.1L78.5 115.7ZM258.7 117.9L261.3 116.2L258.4 113.8L255.8 115.4Z"/>
<path fill="#586434" stroke="#586434" stroke-width="0.9" d="M72.9 116.9L75.6 114.3L72.6 112.9L70 115.5ZM261.3 116.2L263.9 114.6L261 112.2L258.4 113.8Z"/>
<path fill="#546434" stroke="#546434" stroke-width="0.9" d="M70 115.5L72.6 112.9L69.6 111.6L67 114.2ZM263.9 114.6L266.5 113.1L263.6 110.7L261 112.2Z"/>
<path fill="#4c5c2c" stroke="#4c5c2c" stroke-width="0.9" d="M67 114.2L69.6 111.6L66.7 110.3L64.1 112.8Z"/>
<path fill="#242c14" stroke="#242c14" stroke-width="0.9" d="M64.1 112.8L66.7 110.3L63.7 109L61.1 111.5ZM66.7 110.3L69.3 107.8L66.3 106.5L63.7 109ZM268.4 104.2L270.9 103L268 100.9L265.4 102.1Z"/>
<path fill="#040804" stroke="#040804" stroke-width="0.9" d="M61.1 111.5L63.7 109L60.8 107.8L58.2 110.2ZM74.3 99.7L76.9 97.6L74 96.6L71.3 98.6ZM106.9 81.9L109.6 80.7L106.7 80.1L103.9 81.3ZM109.6 80.7L112.3 79.6L109.4 79L106.7 80.1ZM118 79.2L120.7 78.2L117.8 77.6L115 78.6ZM126.4 77.8L129.1 76.9L126.1 76.4L123.4 77.2ZM132.1 77.5L134.8 76.6L131.8 76.1L129.1 76.9ZM137.7 77.2L140.4 76.4L137.5 75.9L134.8 76.6ZM146.4 77.5L149.1 76.7L146.1 76.2L143.4 76.9ZM143.4 76.9L146.1 76.2L143.1 75.6L140.4 76.4ZM152.1 77.3L154.8 76.6L151.8 76L149.1 76.7ZM157.8 77.2L160.4 76.4L157.5 75.8L154.8 76.6ZM163.4 77.1L166.1 76.3L163.1 75.8L160.4 76.4ZM172.1 77.7L174.8 76.9L171.8 76.3L169.1 77ZM177.8 77.7L180.5 77L177.5 76.3L174.8 76.9ZM183.5 77.7L186.1 77L183.1 76.3L180.5 77ZM189.2 77.8L191.8 77.1L188.8 76.4L186.1 77ZM194.8 77.9L197.4 77.2L194.4 76.5L191.8 77.1ZM203.5 78.9L206.1 78.2L203.1 77.4L200.5 78ZM209.1 79.1L211.7 78.5L208.7 77.6L206.1 78.2ZM217.8 80.3L220.4 79.6L217.4 78.7L214.8 79.3ZM214.8 79.3L217.4 78.7L214.3 77.9L211.7 78.5ZM226.4 81.7L229 81L226 80L223.4 80.6ZM241.1 85.7L243.7 85L240.6 83.7L238.1 84.4ZM238.1 84.4L240.6 83.7L237.6 82.5L235.1 83.2Z"/>
<path fill="#747848" stroke="#747848" stroke-width="0.9" d="M145.2 157.9L147.8 154.8L144.8 152.4L142.1 155.5ZM142.1 155.5L144.8 152.4L141.7 150L139.1 153.1ZM139.1 153.1L141.7 150L138.7 147.7L136 150.8ZM153.9 159.8L156.6 156.7L153.5 154.1L150.9 157.3ZM199.5 157.7L202.1 154.9L199.1 152.1L196.5 154.8ZM207.8 155.1L210.5 152.4L207.5 149.5L204.8 152.2ZM210.5 152.4L213.2 149.8L210.2 146.9L207.5 149.5ZM213.2 149.8L215.9 147.2L212.9 144.3L210.2 146.9ZM215.9 147.2L218.5 144.6L215.6 141.8L212.9 144.3Z"/>
<path fill="#787848" stroke="#787848" stroke-width="0.9" d="M136 150.8L138.7 147.7L135.6 145.4L133 148.5ZM150.9 157.3L153.5 154.1L150.5 151.7L147.8 154.8ZM147.8 154.8L150.5 151.7L147.4 149.3L144.8 152.4ZM144.8 152.4L147.4 149.3L144.4 146.9L141.7 150ZM141.7 150L144.4 146.9L141.3 144.6L138.7 147.7ZM156.6 156.7L159.2 153.6L156.2 151.1L153.5 154.1ZM153.5 154.1L156.2 151.1L153.1 148.6L150.5 151.7ZM150.5 151.7L153.1 148.6L150.1 146.3L147.4 149.3ZM162.3 156.1L164.9 153.1L161.9 150.6L159.2 153.6ZM168 155.7L170.6 152.7L167.6 150.2L164.9 153.1ZM185.1 154.9L187.7 152.1L184.7 149.4L182 152.2ZM190.8 154.8L193.4 152L190.4 149.3L187.7 152.1ZM196.5 154.8L199.1 152.1L196.1 149.3L193.4 152ZM202.1 154.9L204.8 152.2L201.8 149.3L199.1 152.1ZM199.1 152.1L201.8 149.3L198.8 146.6L196.1 149.3ZM204.8 152.2L207.5 149.5L204.5 146.7L201.8 149.3ZM201.8 149.3L204.5 146.7L201.5 143.9L198.8 146.6ZM207.5 149.5L210.2 146.9L207.2 144.1L204.5 146.7ZM210.2 146.9L212.9 144.3L209.9 141.5L207.2 144.1Z"/>
<path fill="#787448" stroke="#787448" stroke-width="0.9" d="M133 148.5L135.6 145.4L132.6 143.2L129.9 146.3ZM129.9 146.3L132.6 143.2L129.5 141.1L126.9 144.1ZM138.7 147.7L141.3 144.6L138.3 142.4L135.6 145.4ZM135.6 145.4L138.3 142.4L135.2 140.2L132.6 143.2ZM147.4 149.3L150.1 146.3L147 143.9L144.4 146.9ZM204.5 146.7L207.2 144.1L204.2 141.4L201.5 143.9ZM207.2 144.1L209.9 141.5L206.9 138.8L204.2 141.4ZM212.9 144.3L215.6 141.8L212.6 139.1L209.9 141.5Z"/>
<path fill="#747448" stroke="#747448" stroke-width="0.9" d="M126.9 144.1L129.5 141.1L126.5 138.9L123.8 142ZM218.5 144.6L221.2 142.2L218.2 139.4L215.6 141.8Z"/>
<path fill="#747044" stroke="#747044" stroke-width="0.9" d="M123.8 142L126.5 138.9L123.4 136.9L120.8 139.9ZM120.8 139.9L123.4 136.9L120.4 134.9L117.7 137.9ZM117.7 137.9L120.4 134.9L117.3 132.9L114.7 135.9ZM226.6 137.4L229.3 135.1L226.3 132.4L223.6 134.7ZM229.3 135.1L231.9 132.9L229 130.2L226.3 132.4Z"/>
<path fill="#746c44" stroke="#746c44" stroke-width="0.9" d="M114.7 135.9L117.3 132.9L114.3 131L111.7 134ZM226.3 132.4L229 130.2L226 127.6L223.3 129.7ZM229 130.2L231.6 128L228.7 125.4L226 127.6Z"/>
<path fill="#706c44" stroke="#706c44" stroke-width="0.9" d="M111.7 134L114.3 131L111.3 129.2L108.6 132.1ZM108.6 132.1L111.3 129.2L108.2 127.4L105.6 130.2ZM234.6 130.7L237.3 128.6L234.3 126L231.6 128Z"/>
<path fill="#706c40" stroke="#706c40" stroke-width="0.9" d="M105.6 130.2L108.2 127.4L105.2 125.6L102.6 128.5ZM237.3 128.6L239.9 126.5L237 123.9L234.3 126Z"/>
<path fill="#686840" stroke="#686840" stroke-width="0.9" d="M96.5 125L99.2 122.2L96.1 120.6L93.5 123.4ZM99.2 122.2L101.8 119.5L98.8 117.9L96.1 120.6Z"/>
<path fill="#68683c" stroke="#68683c" stroke-width="0.9" d="M93.5 123.4L96.1 120.6L93.1 119L90.5 121.7ZM248.2 125.2L250.8 123.3L247.9 120.7L245.2 122.6ZM245.2 122.6L247.9 120.7L244.9 118.2L242.3 120Z"/>
<path fill="#64643c" stroke="#64643c" stroke-width="0.9" d="M87.5 120.2L90.1 117.5L87.1 116L84.5 118.6ZM93.1 119L95.8 116.4L92.8 114.8L90.1 117.5ZM90.1 117.5L92.8 114.8L89.8 113.4L87.1 116ZM95.8 116.4L98.4 113.8L95.4 112.3L92.8 114.8ZM92.8 114.8L95.4 112.3L92.4 110.9L89.8 113.4ZM244.9 118.2L247.6 116.4L244.6 114L242 115.8ZM250.5 118.9L253.2 117.1L250.2 114.7L247.6 116.4ZM247.6 116.4L250.2 114.7L247.2 112.3L244.6 114Z"/>
<path fill="#60643c" stroke="#60643c" stroke-width="0.9" d="M84.5 118.6L87.1 116L84.1 114.5L81.5 117.1Z"/>
<path fill="#5c6038" stroke="#5c6038" stroke-width="0.9" d="M78.5 115.7L81.2 113.1L78.2 111.7L75.6 114.3ZM81.2 113.1L83.8 110.6L80.8 109.2L78.2 111.7ZM83.8 110.6L86.4 108.1L83.4 106.8L80.8 109.2ZM255.8 115.4L258.4 113.8L255.4 111.4L252.8 113ZM252.8 113L255.4 111.4L252.5 109.1L249.9 110.7ZM249.9 110.7L252.5 109.1L249.5 106.8L246.9 108.4Z"/>
<path fill="#586034" stroke="#586034" stroke-width="0.9" d="M75.6 114.3L78.2 111.7L75.2 110.4L72.6 112.9ZM78.2 111.7L80.8 109.2L77.8 107.9L75.2 110.4Z"/>
<path fill="#546034" stroke="#546034" stroke-width="0.9" d="M72.6 112.9L75.2 110.4L72.2 109L69.6 111.6ZM75.2 110.4L77.8 107.9L74.9 106.6L72.2 109ZM261 112.2L263.6 110.7L260.7 108.3L258.1 109.8Z"/>
<path fill="#48542c" stroke="#48542c" stroke-width="0.9" d="M69.6 111.6L72.2 109L69.3 107.8L66.7 110.3Z"/>
<path fill="#747c48" stroke="#747c48" stroke-width="0.9" d="M156.9 162.4L159.6 159.2L156.6 156.7L153.9 159.8ZM162.6 161.9L165.3 158.8L162.3 156.1L159.6 159.2ZM171.4 164.2L174 161.1L171 158.4L168.3 161.4ZM168.3 161.4L171 158.4L168 155.7L165.3 158.8ZM177.1 163.9L179.7 160.8L176.7 158.1L174 161.1ZM174 161.1L176.7 158.1L173.7 155.4L171 158.4ZM182.7 163.7L185.4 160.7L182.4 157.9L179.7 160.8ZM179.7 160.8L182.4 157.9L179.4 155.1L176.7 158.1ZM185.4 160.7L188.1 157.7L185.1 154.9L182.4 157.9ZM191.1 160.6L193.8 157.7L190.8 154.8L188.1 157.7ZM196.8 160.6L199.5 157.7L196.5 154.8L193.8 157.7Z"/>
<path fill="#787048" stroke="#787048" stroke-width="0.9" d="M132.6 143.2L135.2 140.2L132.2 138.1L129.5 141.1ZM129.5 141.1L132.2 138.1L129.1 136L126.5 138.9ZM141.3 144.6L144 141.7L140.9 139.5L138.3 142.4ZM138.3 142.4L140.9 139.5L137.9 137.3L135.2 140.2ZM209.9 141.5L212.6 139.1L209.6 136.4L206.9 138.8ZM215.6 141.8L218.2 139.4L215.3 136.6L212.6 139.1ZM218.2 139.4L220.9 137L217.9 134.3L215.3 136.6ZM220.9 137L223.6 134.7L220.6 132L217.9 134.3Z"/>
<path fill="#786c48" stroke="#786c48" stroke-width="0.9" d="M126.5 138.9L129.1 136L126.1 134L123.4 136.9ZM135.2 140.2L137.9 137.3L134.8 135.2L132.2 138.1ZM132.2 138.1L134.8 135.2L131.8 133.1L129.1 136ZM212.6 139.1L215.3 136.6L212.3 134L209.6 136.4ZM215.3 136.6L217.9 134.3L215 131.7L212.3 134ZM217.9 134.3L220.6 132L217.6 129.4L215 131.7Z"/>
<path fill="#746c48" stroke="#746c48" stroke-width="0.9" d="M123.4 136.9L126.1 134L123 132L120.4 134.9ZM120.4 134.9L123 132L120 130.1L117.3 132.9ZM223.6 134.7L226.3 132.4L223.3 129.7L220.6 132Z"/>
<path fill="#746844" stroke="#746844" stroke-width="0.9" d="M117.3 132.9L120 130.1L116.9 128.2L114.3 131ZM114.3 131L116.9 128.2L113.9 126.4L111.3 129.2ZM226 127.6L228.7 125.4L225.7 122.9L223 125Z"/>
<path fill="#706844" stroke="#706844" stroke-width="0.9" d="M111.3 129.2L113.9 126.4L110.9 124.6L108.2 127.4ZM108.2 127.4L110.9 124.6L107.8 122.8L105.2 125.6ZM231.6 128L234.3 126L231.3 123.4L228.7 125.4ZM234.3 126L237 123.9L234 121.4L231.3 123.4Z"/>
<path fill="#6c6840" stroke="#6c6840" stroke-width="0.9" d="M105.2 125.6L107.8 122.8L104.8 121.2L102.2 123.9ZM102.2 123.9L104.8 121.2L101.8 119.5L99.2 122.2ZM237 123.9L239.6 122L236.7 119.5L234 121.4ZM242.6 124.5L245.2 122.6L242.3 120L239.6 122ZM239.6 122L242.3 120L239.3 117.6L236.7 119.5Z"/>
<path fill="#68643c" stroke="#68643c" stroke-width="0.9" d="M96.1 120.6L98.8 117.9L95.8 116.4L93.1 119Z"/>
<path fill="#606038" stroke="#606038" stroke-width="0.9" d="M84.1 114.5L86.8 111.9L83.8 110.6L81.2 113.1ZM89.8 113.4L92.4 110.9L89.4 109.5L86.8 111.9ZM86.8 111.9L89.4 109.5L86.4 108.1L83.8 110.6ZM92.4 110.9L95.1 108.4L92.1 107.1L89.4 109.5ZM250.2 114.7L252.8 113L249.9 110.7L247.2 112.3ZM247.2 112.3L249.9 110.7L246.9 108.4L244.3 110Z"/>
<path fill="#444c28" stroke="#444c28" stroke-width="0.9" d="M72.2 109L74.9 106.6L71.9 105.4L69.3 107.8Z"/>
<path fill="#202814" stroke="#202814" stroke-width="0.9" d="M69.3 107.8L71.9 105.4L69 104.2L66.3 106.5ZM265.4 102.1L268 100.9L265 98.9L262.5 100Z"/>
<path fill="#747c44" stroke="#747c44" stroke-width="0.9" d="M165.7 164.6L168.3 161.4L165.3 158.8L162.6 161.9ZM188.4 163.5L191.1 160.6L188.1 157.7L185.4 160.7Z"/>
<path fill="#787c48" stroke="#787c48" stroke-width="0.9" d="M159.6 159.2L162.3 156.1L159.2 153.6L156.6 156.7ZM165.3 158.8L168 155.7L164.9 153.1L162.3 156.1ZM171 158.4L173.7 155.4L170.6 152.7L168 155.7ZM176.7 158.1L179.4 155.1L176.3 152.4L173.7 155.4ZM182.4 157.9L185.1 154.9L182 152.2L179.4 155.1ZM188.1 157.7L190.8 154.8L187.7 152.1L185.1 154.9ZM193.8 157.7L196.5 154.8L193.4 152L190.8 154.8Z"/>
<path fill="#7c7448" stroke="#7c7448" stroke-width="0.9" d="M144.4 146.9L147 143.9L144 141.7L141.3 144.6ZM156.2 151.1L158.8 148.1L155.8 145.7L153.1 148.6ZM196.1 149.3L198.8 146.6L195.8 143.9L193.1 146.5ZM198.8 146.6L201.5 143.9L198.5 141.3L195.8 143.9Z"/>
<path fill="#786848" stroke="#786848" stroke-width="0.9" d="M129.1 136L131.8 133.1L128.7 131.1L126.1 134ZM126.1 134L128.7 131.1L125.7 129.2L123 132ZM215 131.7L217.6 129.4L214.6 126.9L211.9 129.1ZM220.6 132L223.3 129.7L220.3 127.2L217.6 129.4Z"/>
<path fill="#746848" stroke="#746848" stroke-width="0.9" d="M123 132L125.7 129.2L122.6 127.3L120 130.1ZM223.3 129.7L226 127.6L223 125L220.3 127.2Z"/>
<path fill="#746448" stroke="#746448" stroke-width="0.9" d="M120 130.1L122.6 127.3L119.6 125.4L116.9 128.2ZM122.6 127.3L125.3 124.6L122.3 122.7L119.6 125.4ZM220.3 127.2L223 125L220 122.5L217.3 124.7ZM223 125L225.7 122.9L222.7 120.5L220 122.5Z"/>
<path fill="#746444" stroke="#746444" stroke-width="0.9" d="M116.9 128.2L119.6 125.4L116.6 123.6L113.9 126.4Z"/>
<path fill="#706444" stroke="#706444" stroke-width="0.9" d="M113.9 126.4L116.6 123.6L113.5 121.9L110.9 124.6ZM110.9 124.6L113.5 121.9L110.5 120.2L107.8 122.8ZM228.7 125.4L231.3 123.4L228.3 120.9L225.7 122.9ZM231.3 123.4L234 121.4L231 118.9L228.3 120.9Z"/>
<path fill="#6c6444" stroke="#6c6444" stroke-width="0.9" d="M107.8 122.8L110.5 120.2L107.5 118.5L104.8 121.2ZM234 121.4L236.7 119.5L233.7 117L231 118.9Z"/>
<path fill="#6c6440" stroke="#6c6440" stroke-width="0.9" d="M104.8 121.2L107.5 118.5L104.4 116.9L101.8 119.5ZM236.7 119.5L239.3 117.6L236.3 115.2L233.7 117Z"/>
<path fill="#686440" stroke="#686440" stroke-width="0.9" d="M101.8 119.5L104.4 116.9L101.4 115.3L98.8 117.9ZM98.8 117.9L101.4 115.3L98.4 113.8L95.8 116.4ZM242.3 120L244.9 118.2L242 115.8L239.3 117.6ZM239.3 117.6L242 115.8L239 113.4L236.3 115.2Z"/>
<path fill="#585c34" stroke="#585c34" stroke-width="0.9" d="M80.8 109.2L83.4 106.8L80.5 105.5L77.8 107.9ZM83.4 106.8L86.1 104.5L83.1 103.2L80.5 105.5ZM89.1 105.7L91.7 103.5L88.8 102.2L86.1 104.5ZM255.4 111.4L258.1 109.8L255.1 107.6L252.5 109.1ZM252.5 109.1L255.1 107.6L252.1 105.4L249.5 106.8ZM249.5 106.8L252.1 105.4L249.2 103.3L246.5 104.7Z"/>
<path fill="#545c34" stroke="#545c34" stroke-width="0.9" d="M77.8 107.9L80.5 105.5L77.5 104.3L74.9 106.6ZM258.1 109.8L260.7 108.3L257.7 106.1L255.1 107.6Z"/>
<path fill="#384024" stroke="#384024" stroke-width="0.9" d="M74.9 106.6L77.5 104.3L74.6 103.1L71.9 105.4Z"/>
<path fill="#1c2010" stroke="#1c2010" stroke-width="0.9" d="M71.9 105.4L74.6 103.1L71.6 101.9L69 104.2ZM204.7 84.6L207.3 83.6L204.3 82.4L201.7 83.4ZM236.4 90L239 88.9L236 87.5L233.4 88.5ZM245 92.1L247.6 91L244.6 89.5L242 90.5Z"/>
<path fill="#040404" stroke="#040404" stroke-width="0.9" d="M69 104.2L71.6 101.9L68.7 100.8L66 103ZM71.6 101.9L74.3 99.7L71.3 98.6L68.7 100.8ZM76.9 97.6L79.6 95.6L76.6 94.6L74 96.6ZM79.6 95.6L82.3 93.7L79.3 92.7L76.6 94.6ZM82.3 93.7L85 91.8L82 90.9L79.3 92.7ZM85 91.8L87.7 90L84.7 89.1L82 90.9ZM87.7 90L90.4 88.4L87.4 87.5L84.7 89.1ZM90.4 88.4L93.1 86.8L90.1 86L87.4 87.5ZM93.1 86.8L95.8 85.3L92.8 84.5L90.1 86ZM95.8 85.3L98.5 83.8L95.6 83.1L92.8 84.5ZM112.3 79.6L115 78.6L112.1 78L109.4 79ZM115 78.6L117.8 77.6L114.8 77.1L112.1 78ZM120.7 78.2L123.4 77.2L120.5 76.7L117.8 77.6ZM117.8 77.6L120.5 76.7L117.6 76.3L114.8 77.1ZM123.4 77.2L126.1 76.4L123.2 76L120.5 76.7ZM129.1 76.9L131.8 76.1L128.9 75.7L126.1 76.4ZM126.1 76.4L128.9 75.7L125.9 75.2L123.2 76ZM134.8 76.6L137.5 75.9L134.5 75.4L131.8 76.1ZM131.8 76.1L134.5 75.4L131.6 75L128.9 75.7ZM128.9 75.7L131.6 75L128.6 74.6L125.9 75.2ZM140.4 76.4L143.1 75.6L140.2 75.2L137.5 75.9ZM137.5 75.9L140.2 75.2L137.2 74.8L134.5 75.4ZM134.5 75.4L137.2 74.8L134.3 74.4L131.6 75ZM149.1 76.7L151.8 76L148.8 75.5L146.1 76.2ZM146.1 76.2L148.8 75.5L145.8 75L143.1 75.6ZM143.1 75.6L145.8 75L142.9 74.6L140.2 75.2ZM154.8 76.6L157.5 75.8L154.5 75.3L151.8 76ZM151.8 76L154.5 75.3L151.5 74.9L148.8 75.5ZM148.8 75.5L151.5 74.9L148.5 74.4L145.8 75ZM160.4 76.4L163.1 75.8L160.1 75.2L157.5 75.8ZM157.5 75.8L160.1 75.2L157.1 74.7L154.5 75.3ZM154.5 75.3L157.1 74.7L154.2 74.3L151.5 74.9ZM169.1 77L171.8 76.3L168.8 75.7L166.1 76.3ZM166.1 76.3L168.8 75.7L165.8 75.2L163.1 75.8ZM163.1 75.8L165.8 75.2L162.8 74.7L160.1 75.2ZM174.8 76.9L177.5 76.3L174.4 75.7L171.8 76.3ZM171.8 76.3L174.4 75.7L171.4 75.1L168.8 75.7ZM168.8 75.7L171.4 75.1L168.5 74.6L165.8 75.2ZM156.8 73.9L159.5 73.5L156.6 73.2L153.9 73.6ZM180.5 77L183.1 76.3L180.1 75.7L177.5 76.3ZM177.5 76.3L180.1 75.7L177.1 75.1L174.4 75.7ZM174.4 75.7L177.1 75.1L174.1 74.6L171.4 75.1ZM162.5 73.8L165.1 73.5L162.2 73.2L159.5 73.5ZM186.1 77L188.8 76.4L185.8 75.8L183.1 76.3ZM183.1 76.3L185.8 75.8L182.7 75.2L180.1 75.7ZM180.1 75.7L182.7 75.2L179.7 74.7L177.1 75.1ZM168.1 73.8L170.8 73.5L167.8 73.2L165.1 73.5ZM191.8 77.1L194.4 76.5L191.4 75.9L188.8 76.4ZM188.8 76.4L191.4 75.9L188.4 75.3L185.8 75.8ZM200.5 78L203.1 77.4L200.1 76.7L197.4 77.2ZM197.4 77.2L200.1 76.7L197 76L194.4 76.5ZM194.4 76.5L197 76L194 75.4L191.4 75.9ZM206.1 78.2L208.7 77.6L205.7 76.9L203.1 77.4ZM203.1 77.4L205.7 76.9L202.7 76.2L200.1 76.7ZM200.1 76.7L202.7 76.2L199.6 75.6L197 76ZM188 74.4L190.6 74.1L187.6 73.8L185 74ZM211.7 78.5L214.3 77.9L211.3 77.1L208.7 77.6ZM208.7 77.6L211.3 77.1L208.3 76.4L205.7 76.9ZM205.7 76.9L208.3 76.4L205.2 75.8L202.7 76.2ZM223.4 80.6L226 80L223 79.1L220.4 79.6ZM220.4 79.6L223 79.1L219.9 78.2L217.4 78.7ZM217.4 78.7L219.9 78.2L216.9 77.4L214.3 77.9ZM214.3 77.9L216.9 77.4L213.9 76.7L211.3 77.1ZM202.2 75.2L204.8 75L201.8 74.5L199.2 74.8ZM235.1 83.2L237.6 82.5L234.6 81.4L232 82.1ZM232 82.1L234.6 81.4L231.6 80.4L229 81ZM229 81L231.6 80.4L228.5 79.5L226 80ZM226 80L228.5 79.5L225.5 78.6L223 79.1ZM216.4 76.4L219 76.1L216 75.5L213.4 75.8Z"/>
<path fill="#7c7848" stroke="#7c7848" stroke-width="0.9" d="M159.2 153.6L161.9 150.6L158.8 148.1L156.2 151.1ZM164.9 153.1L167.6 150.2L164.5 147.6L161.9 150.6ZM173.7 155.4L176.3 152.4L173.3 149.8L170.6 152.7ZM170.6 152.7L173.3 149.8L170.3 147.3L167.6 150.2ZM179.4 155.1L182 152.2L179 149.5L176.3 152.4ZM176.3 152.4L179 149.5L176 146.9L173.3 149.8ZM182 152.2L184.7 149.4L181.7 146.7L179 149.5ZM187.7 152.1L190.4 149.3L187.4 146.6L184.7 149.4ZM193.4 152L196.1 149.3L193.1 146.5L190.4 149.3Z"/>
<path fill="#7c744c" stroke="#7c744c" stroke-width="0.9" d="M153.1 148.6L155.8 145.7L152.7 143.3L150.1 146.3ZM161.9 150.6L164.5 147.6L161.5 145.2L158.8 148.1ZM167.6 150.2L170.3 147.3L167.2 144.8L164.5 147.6ZM173.3 149.8L176 146.9L172.9 144.4L170.3 147.3ZM179 149.5L181.7 146.7L178.7 144.2L176 146.9ZM184.7 149.4L187.4 146.6L184.4 144L181.7 146.7ZM190.4 149.3L193.1 146.5L190.1 143.9L187.4 146.6Z"/>
<path fill="#7c704c" stroke="#7c704c" stroke-width="0.9" d="M150.1 146.3L152.7 143.3L149.7 141L147 143.9ZM147 143.9L149.7 141L146.6 138.8L144 141.7ZM158.8 148.1L161.5 145.2L158.5 142.8L155.8 145.7ZM155.8 145.7L158.5 142.8L155.4 140.4L152.7 143.3ZM164.5 147.6L167.2 144.8L164.2 142.3L161.5 145.2ZM161.5 145.2L164.2 142.3L161.1 139.9L158.5 142.8ZM170.3 147.3L172.9 144.4L169.9 141.9L167.2 144.8ZM176 146.9L178.7 144.2L175.6 141.6L172.9 144.4ZM181.7 146.7L184.4 144L181.4 141.4L178.7 144.2ZM187.4 146.6L190.1 143.9L187.1 141.3L184.4 144ZM193.1 146.5L195.8 143.9L192.8 141.2L190.1 143.9ZM190.1 143.9L192.8 141.2L189.8 138.7L187.1 141.3ZM195.8 143.9L198.5 141.3L195.5 138.6L192.8 141.2ZM201.5 143.9L204.2 141.4L201.2 138.7L198.5 141.3ZM204.2 141.4L206.9 138.8L203.9 136.2L201.2 138.7Z"/>
<path fill="#7c6c4c" stroke="#7c6c4c" stroke-width="0.9" d="M144 141.7L146.6 138.8L143.6 136.6L140.9 139.5ZM140.9 139.5L143.6 136.6L140.5 134.4L137.9 137.3ZM152.7 143.3L155.4 140.4L152.4 138.2L149.7 141ZM149.7 141L152.4 138.2L149.3 135.9L146.6 138.8ZM158.5 142.8L161.1 139.9L158.1 137.6L155.4 140.4ZM192.8 141.2L195.5 138.6L192.5 136.1L189.8 138.7ZM198.5 141.3L201.2 138.7L198.2 136.1L195.5 138.6ZM201.2 138.7L203.9 136.2L200.9 133.6L198.2 136.1ZM206.9 138.8L209.6 136.4L206.6 133.8L203.9 136.2ZM209.6 136.4L212.3 134L209.3 131.4L206.6 133.8Z"/>
<path fill="#7c684c" stroke="#7c684c" stroke-width="0.9" d="M137.9 137.3L140.5 134.4L137.5 132.4L134.8 135.2ZM146.6 138.8L149.3 135.9L146.3 133.8L143.6 136.6ZM143.6 136.6L146.3 133.8L143.2 131.7L140.5 134.4ZM155.4 140.4L158.1 137.6L155 135.4L152.4 138.2ZM152.4 138.2L155 135.4L152 133.2L149.3 135.9ZM195.5 138.6L198.2 136.1L195.2 133.6L192.5 136.1ZM198.2 136.1L200.9 133.6L197.8 131.1L195.2 133.6ZM203.9 136.2L206.6 133.8L203.6 131.2L200.9 133.6ZM206.6 133.8L209.3 131.4L206.3 128.9L203.6 131.2Z"/>
<path fill="#78684c" stroke="#78684c" stroke-width="0.9" d="M134.8 135.2L137.5 132.4L134.4 130.3L131.8 133.1ZM212.3 134L215 131.7L211.9 129.1L209.3 131.4Z"/>
<path fill="#786448" stroke="#786448" stroke-width="0.9" d="M131.8 133.1L134.4 130.3L131.4 128.4L128.7 131.1ZM128.7 131.1L131.4 128.4L128.3 126.4L125.7 129.2ZM125.7 129.2L128.3 126.4L125.3 124.6L122.6 127.3ZM217.6 129.4L220.3 127.2L217.3 124.7L214.6 126.9Z"/>
<path fill="#746048" stroke="#746048" stroke-width="0.9" d="M119.6 125.4L122.3 122.7L119.2 121L116.6 123.6ZM125.3 124.6L128 121.9L124.9 120.1L122.3 122.7ZM122.3 122.7L124.9 120.1L121.9 118.4L119.2 121ZM217.3 124.7L220 122.5L217 120.1L214.3 122.2ZM220 122.5L222.7 120.5L219.7 118.1L217 120.1Z"/>
<path fill="#706044" stroke="#706044" stroke-width="0.9" d="M116.6 123.6L119.2 121L116.2 119.2L113.5 121.9ZM113.5 121.9L116.2 119.2L113.1 117.5L110.5 120.2ZM225.7 122.9L228.3 120.9L225.4 118.5L222.7 120.5ZM222.7 120.5L225.4 118.5L222.4 116.1L219.7 118.1ZM228.3 120.9L231 118.9L228 116.5L225.4 118.5Z"/>
<path fill="#6c6044" stroke="#6c6044" stroke-width="0.9" d="M110.5 120.2L113.1 117.5L110.1 115.9L107.5 118.5ZM231 118.9L233.7 117L230.7 114.7L228 116.5Z"/>
<path fill="#6c6040" stroke="#6c6040" stroke-width="0.9" d="M107.5 118.5L110.1 115.9L107.1 114.3L104.4 116.9ZM233.7 117L236.3 115.2L233.4 112.9L230.7 114.7Z"/>
<path fill="#686040" stroke="#686040" stroke-width="0.9" d="M104.4 116.9L107.1 114.3L104.1 112.8L101.4 115.3ZM101.4 115.3L104.1 112.8L101.1 111.3L98.4 113.8ZM236.3 115.2L239 113.4L236 111.1L233.4 112.9Z"/>
<path fill="#64603c" stroke="#64603c" stroke-width="0.9" d="M98.4 113.8L101.1 111.3L98.1 109.8L95.4 112.3ZM95.4 112.3L98.1 109.8L95.1 108.4L92.4 110.9ZM242 115.8L244.6 114L241.6 111.7L239 113.4ZM239 113.4L241.6 111.7L238.7 109.4L236 111.1ZM244.6 114L247.2 112.3L244.3 110L241.6 111.7Z"/>
<path fill="#5c5c38" stroke="#5c5c38" stroke-width="0.9" d="M89.4 109.5L92.1 107.1L89.1 105.7L86.4 108.1ZM86.4 108.1L89.1 105.7L86.1 104.5L83.4 106.8ZM92.1 107.1L94.7 104.8L91.7 103.5L89.1 105.7ZM246.9 108.4L249.5 106.8L246.5 104.7L243.9 106.2ZM243.9 106.2L246.5 104.7L243.6 102.6L240.9 104.1Z"/>
<path fill="#545830" stroke="#545830" stroke-width="0.9" d="M80.5 105.5L83.1 103.2L80.2 102L77.5 104.3Z"/>
<path fill="#343820" stroke="#343820" stroke-width="0.9" d="M77.5 104.3L80.2 102L77.2 100.8L74.6 103.1ZM239.8 94.3L242.4 93.2L239.4 91.5L236.8 92.7Z"/>
<path fill="#1c1c10" stroke="#1c1c10" stroke-width="0.9" d="M74.6 103.1L77.2 100.8L74.3 99.7L71.6 101.9ZM90.9 93.8L93.6 92L90.6 91L87.9 92.8ZM104.6 87.8L107.3 86.3L104.4 85.4L101.7 86.9ZM113 85.7L115.7 84.3L112.8 83.5L110.1 84.8ZM127.1 83.3L129.9 82L126.9 81.2L124.2 82.5ZM132.8 82.9L135.6 81.6L132.6 80.8L129.9 82ZM147.3 83L150 81.9L147 81L144.3 82.1ZM153 82.8L155.7 81.6L152.7 80.7L150 81.9ZM167.4 83.3L170.1 82.2L167.1 81.3L164.4 82.4ZM173.2 83.2L175.8 82.1L172.8 81.2L170.1 82.2ZM178.9 83.2L181.5 82.1L178.5 81.1L175.8 82.1ZM184.6 83.1L187.2 82.1L184.2 81.1L181.5 82.1ZM210.4 84.8L213 83.8L210 82.6L207.3 83.6ZM224.7 86.6L227.3 85.7L224.3 84.4L221.7 85.3Z"/>
<path fill="#7c644c" stroke="#7c644c" stroke-width="0.9" d="M140.5 134.4L143.2 131.7L140.2 129.6L137.5 132.4ZM137.5 132.4L140.2 129.6L137.1 127.6L134.4 130.3ZM149.3 135.9L152 133.2L148.9 131L146.3 133.8ZM146.3 133.8L148.9 131L145.9 128.9L143.2 131.7ZM195.2 133.6L197.8 131.1L194.8 128.7L192.1 131.1ZM200.9 133.6L203.6 131.2L200.5 128.8L197.8 131.1ZM203.6 131.2L206.3 128.9L203.2 126.5L200.5 128.8ZM209.3 131.4L211.9 129.1L208.9 126.6L206.3 128.9Z"/>
<path fill="#78644c" stroke="#78644c" stroke-width="0.9" d="M134.4 130.3L137.1 127.6L134.1 125.6L131.4 128.4ZM211.9 129.1L214.6 126.9L211.6 124.4L208.9 126.6Z"/>
<path fill="#786048" stroke="#786048" stroke-width="0.9" d="M131.4 128.4L134.1 125.6L131 123.7L128.3 126.4ZM128.3 126.4L131 123.7L128 121.9L125.3 124.6ZM137.1 127.6L139.8 124.9L136.7 123L134.1 125.6ZM208.9 126.6L211.6 124.4L208.6 122L205.9 124.2ZM214.6 126.9L217.3 124.7L214.3 122.2L211.6 124.4ZM211.6 124.4L214.3 122.2L211.3 119.9L208.6 122Z"/>
<path fill="#705c44" stroke="#705c44" stroke-width="0.9" d="M119.2 121L121.9 118.4L118.8 116.7L116.2 119.2ZM116.2 119.2L118.8 116.7L115.8 115L113.1 117.5ZM121.9 118.4L124.6 115.8L121.5 114.2L118.8 116.7ZM219.7 118.1L222.4 116.1L219.4 113.9L216.7 115.8ZM225.4 118.5L228 116.5L225 114.2L222.4 116.1ZM222.4 116.1L225 114.2L222 112L219.4 113.9Z"/>
<path fill="#6c5c44" stroke="#6c5c44" stroke-width="0.9" d="M113.1 117.5L115.8 115L112.8 113.4L110.1 115.9ZM228 116.5L230.7 114.7L227.7 112.4L225 114.2Z"/>
<path fill="#6c5c40" stroke="#6c5c40" stroke-width="0.9" d="M110.1 115.9L112.8 113.4L109.8 111.9L107.1 114.3ZM230.7 114.7L233.4 112.9L230.4 110.6L227.7 112.4Z"/>
<path fill="#685c40" stroke="#685c40" stroke-width="0.9" d="M107.1 114.3L109.8 111.9L106.7 110.3L104.1 112.8ZM104.1 112.8L106.7 110.3L103.7 108.9L101.1 111.3ZM233.4 112.9L236 111.1L233 108.9L230.4 110.6Z"/>
<path fill="#645c3c" stroke="#645c3c" stroke-width="0.9" d="M101.1 111.3L103.7 108.9L100.7 107.5L98.1 109.8ZM236 111.1L238.7 109.4L235.7 107.2L233 108.9ZM241.6 111.7L244.3 110L241.3 107.8L238.7 109.4Z"/>
<path fill="#605c3c" stroke="#605c3c" stroke-width="0.9" d="M98.1 109.8L100.7 107.5L97.7 106.1L95.1 108.4ZM238.7 109.4L241.3 107.8L238.3 105.6L235.7 107.2Z"/>
<path fill="#605c38" stroke="#605c38" stroke-width="0.9" d="M95.1 108.4L97.7 106.1L94.7 104.8L92.1 107.1ZM244.3 110L246.9 108.4L243.9 106.2L241.3 107.8ZM241.3 107.8L243.9 106.2L240.9 104.1L238.3 105.6Z"/>
<path fill="#585834" stroke="#585834" stroke-width="0.9" d="M86.1 104.5L88.8 102.2L85.8 101L83.1 103.2ZM91.7 103.5L94.4 101.3L91.4 100.1L88.8 102.2ZM97.4 102.5L100.1 100.4L97.1 99.1L94.4 101.3ZM94.4 101.3L97.1 99.1L94.1 98L91.4 100.1ZM240.9 104.1L243.6 102.6L240.6 100.6L237.9 102.1ZM246.5 104.7L249.2 103.3L246.2 101.2L243.6 102.6ZM243.6 102.6L246.2 101.2L243.2 99.3L240.6 100.6Z"/>
<path fill="#48482c" stroke="#48482c" stroke-width="0.9" d="M83.1 103.2L85.8 101L82.8 99.8L80.2 102ZM94.1 98L96.8 96L93.8 94.9L91.1 96.8ZM110.9 92.6L113.6 90.8L110.6 89.8L107.9 91.5ZM237.2 95.6L239.8 94.3L236.8 92.7L234.2 93.9Z"/>
<path fill="#30341c" stroke="#30341c" stroke-width="0.9" d="M80.2 102L82.8 99.8L79.9 98.7L77.2 100.8Z"/>
<path fill="#181c10" stroke="#181c10" stroke-width="0.9" d="M77.2 100.8L79.9 98.7L76.9 97.6L74.3 99.7ZM93.6 92L96.3 90.2L93.3 89.3L90.6 91ZM121.4 83.8L124.2 82.5L121.2 81.7L118.5 82.9ZM216 85L218.6 84.1L215.6 82.9L213 83.8ZM233.4 88.5L236 87.5L232.9 86.1L230.3 87ZM242 90.5L244.6 89.5L241.6 88L239 88.9ZM276.8 107.4L279.3 106.1L276.4 103.9L273.9 105.1Z"/>
<path fill="#6c8444" stroke="#6c8444" stroke-width="0.9" d="M188.8 169.5L191.4 166.5L188.4 163.5L185.7 166.6Z"/>
<path fill="#7c604c" stroke="#7c604c" stroke-width="0.9" d="M143.2 131.7L145.9 128.9L142.8 126.9L140.2 129.6ZM140.2 129.6L142.8 126.9L139.8 124.9L137.1 127.6ZM152 133.2L154.7 130.5L151.6 128.4L148.9 131ZM148.9 131L151.6 128.4L148.6 126.3L145.9 128.9ZM145.9 128.9L148.6 126.3L145.5 124.3L142.8 126.9ZM154.7 130.5L157.3 127.9L154.3 125.8L151.6 128.4ZM192.1 131.1L194.8 128.7L191.8 126.3L189.1 128.7ZM197.8 131.1L200.5 128.8L197.5 126.4L194.8 128.7ZM194.8 128.7L197.5 126.4L194.5 124L191.8 126.3ZM200.5 128.8L203.2 126.5L200.2 124.1L197.5 126.4ZM206.3 128.9L208.9 126.6L205.9 124.2L203.2 126.5Z"/>
<path fill="#785c48" stroke="#785c48" stroke-width="0.9" d="M134.1 125.6L136.7 123L133.7 121.1L131 123.7ZM131 123.7L133.7 121.1L130.6 119.3L128 121.9ZM139.8 124.9L142.5 122.3L139.4 120.4L136.7 123ZM136.7 123L139.4 120.4L136.4 118.6L133.7 121.1ZM205.9 124.2L208.6 122L205.6 119.7L202.9 121.8ZM208.6 122L211.3 119.9L208.3 117.6L205.6 119.7Z"/>
<path fill="#745c48" stroke="#745c48" stroke-width="0.9" d="M128 121.9L130.6 119.3L127.6 117.6L124.9 120.1ZM124.9 120.1L127.6 117.6L124.6 115.8L121.9 118.4ZM214.3 122.2L217 120.1L214 117.8L211.3 119.9ZM211.3 119.9L214 117.8L211 115.6L208.3 117.6ZM217 120.1L219.7 118.1L216.7 115.8L214 117.8Z"/>
<path fill="#705844" stroke="#705844" stroke-width="0.9" d="M118.8 116.7L121.5 114.2L118.5 112.6L115.8 115ZM124.6 115.8L127.2 113.4L124.2 111.8L121.5 114.2ZM121.5 114.2L124.2 111.8L121.2 110.2L118.5 112.6ZM216.7 115.8L219.4 113.9L216.3 111.7L213.7 113.6ZM219.4 113.9L222 112L219 109.8L216.3 111.7Z"/>
<path fill="#6c5844" stroke="#6c5844" stroke-width="0.9" d="M115.8 115L118.5 112.6L115.5 111L112.8 113.4ZM118.5 112.6L121.2 110.2L118.1 108.6L115.5 111ZM225 114.2L227.7 112.4L224.7 110.2L222 112ZM222 112L224.7 110.2L221.7 108.1L219 109.8Z"/>
<path fill="#6c5840" stroke="#6c5840" stroke-width="0.9" d="M112.8 113.4L115.5 111L112.4 109.5L109.8 111.9Z"/>
<path fill="#685840" stroke="#685840" stroke-width="0.9" d="M109.8 111.9L112.4 109.5L109.4 108L106.7 110.3ZM115.5 111L118.1 108.6L115.1 107.1L112.4 109.5ZM112.4 109.5L115.1 107.1L112.1 105.7L109.4 108ZM227.7 112.4L230.4 110.6L227.4 108.4L224.7 110.2ZM224.7 110.2L227.4 108.4L224.4 106.3L221.7 108.1ZM230.4 110.6L233 108.9L230 106.8L227.4 108.4Z"/>
<path fill="#645840" stroke="#645840" stroke-width="0.9" d="M106.7 110.3L109.4 108L106.4 106.5L103.7 108.9Z"/>
<path fill="#64583c" stroke="#64583c" stroke-width="0.9" d="M103.7 108.9L106.4 106.5L103.4 105.2L100.7 107.5ZM109.4 108L112.1 105.7L109.1 104.3L106.4 106.5ZM233 108.9L235.7 107.2L232.7 105.1L230 106.8Z"/>
<path fill="#60583c" stroke="#60583c" stroke-width="0.9" d="M100.7 107.5L103.4 105.2L100.4 103.8L97.7 106.1ZM235.7 107.2L238.3 105.6L235.3 103.6L232.7 105.1Z"/>
<path fill="#605838" stroke="#605838" stroke-width="0.9" d="M97.7 106.1L100.4 103.8L97.4 102.5L94.7 104.8Z"/>
<path fill="#5c5838" stroke="#5c5838" stroke-width="0.9" d="M94.7 104.8L97.4 102.5L94.4 101.3L91.7 103.5ZM100.4 103.8L103.1 101.6L100.1 100.4L97.4 102.5ZM238.3 105.6L240.9 104.1L237.9 102.1L235.3 103.6Z"/>
<path fill="#545834" stroke="#545834" stroke-width="0.9" d="M88.8 102.2L91.4 100.1L88.5 98.9L85.8 101ZM255.1 107.6L257.7 106.1L254.7 103.9L252.1 105.4ZM252.1 105.4L254.7 103.9L251.8 101.9L249.2 103.3ZM249.2 103.3L251.8 101.9L248.8 99.9L246.2 101.2Z"/>
<path fill="#404428" stroke="#404428" stroke-width="0.9" d="M85.8 101L88.5 98.9L85.5 97.7L82.8 99.8Z"/>
<path fill="#282c18" stroke="#282c18" stroke-width="0.9" d="M82.8 99.8L85.5 97.7L82.5 96.7L79.9 98.7ZM96.5 93L99.2 91.2L96.3 90.2L93.6 92ZM225.1 89.1L227.7 88L224.7 86.6L222.1 87.7ZM233.8 91L236.4 90L233.4 88.5L230.8 89.5ZM254 97.4L256.5 96.2L253.6 94.4L251 95.5Z"/>
<path fill="#14140c" stroke="#14140c" stroke-width="0.9" d="M79.9 98.7L82.5 96.7L79.6 95.6L76.9 97.6ZM99 88.5L101.7 86.9L98.7 86.1L96 87.6ZM110.1 84.8L112.8 83.5L109.8 82.7L107.1 84ZM118.5 82.9L121.2 81.7L118.2 80.9L115.5 82.2ZM141.3 81.3L144 80.2L141 79.4L138.3 80.5ZM147 81L149.7 79.9L146.7 79.2L144 80.2ZM155.7 81.6L158.4 80.5L155.4 79.7L152.7 80.7ZM161.4 81.4L164.1 80.4L161.1 79.5L158.4 80.5ZM167.1 81.3L169.8 80.2L166.8 79.4L164.1 80.4ZM172.8 81.2L175.5 80.2L172.5 79.3L169.8 80.2ZM187.2 82.1L189.9 81.1L186.9 80.2L184.2 81.1ZM192.9 82.2L195.6 81.2L192.6 80.2L189.9 81.1ZM198.6 82.3L201.3 81.4L198.2 80.4L195.6 81.2ZM204.3 82.4L206.9 81.5L203.9 80.5L201.3 81.4ZM218.6 84.1L221.3 83.2L218.2 82.1L215.6 82.9ZM227.3 85.7L229.9 84.8L226.9 83.6L224.3 84.4Z"/>
<path fill="#806c4c" stroke="#806c4c" stroke-width="0.9" d="M167.2 144.8L169.9 141.9L166.9 139.5L164.2 142.3ZM164.2 142.3L166.9 139.5L163.8 137.2L161.1 139.9ZM172.9 144.4L175.6 141.6L172.6 139.2L169.9 141.9ZM169.9 141.9L172.6 139.2L169.5 136.8L166.9 139.5ZM178.7 144.2L181.4 141.4L178.3 138.9L175.6 141.6ZM175.6 141.6L178.3 138.9L175.3 136.5L172.6 139.2ZM184.4 144L187.1 141.3L184 138.8L181.4 141.4ZM181.4 141.4L184 138.8L181 136.3L178.3 138.9ZM187.1 141.3L189.8 138.7L186.7 136.1L184 138.8Z"/>
<path fill="#80684c" stroke="#80684c" stroke-width="0.9" d="M161.1 139.9L163.8 137.2L160.8 134.9L158.1 137.6ZM158.1 137.6L160.8 134.9L157.7 132.7L155 135.4ZM189.8 138.7L192.5 136.1L189.4 133.6L186.7 136.1ZM192.5 136.1L195.2 133.6L192.1 131.1L189.4 133.6Z"/>
<path fill="#80644c" stroke="#80644c" stroke-width="0.9" d="M155 135.4L157.7 132.7L154.7 130.5L152 133.2ZM163.8 137.2L166.5 134.5L163.5 132.2L160.8 134.9ZM160.8 134.9L163.5 132.2L160.4 130L157.7 132.7ZM169.5 136.8L172.2 134.1L169.2 131.8L166.5 134.5ZM166.5 134.5L169.2 131.8L166.1 129.6L163.5 132.2ZM175.3 136.5L178 133.9L174.9 131.5L172.2 134.1ZM181 136.3L183.7 133.7L180.7 131.3L178 133.9ZM186.7 136.1L189.4 133.6L186.4 131.2L183.7 133.7ZM183.7 133.7L186.4 131.2L183.4 128.8L180.7 131.3ZM189.4 133.6L192.1 131.1L189.1 128.7L186.4 131.2Z"/>
<path fill="#7c5c48" stroke="#7c5c48" stroke-width="0.9" d="M142.8 126.9L145.5 124.3L142.5 122.3L139.8 124.9ZM148.6 126.3L151.2 123.7L148.2 121.7L145.5 124.3ZM145.5 124.3L148.2 121.7L145.1 119.8L142.5 122.3ZM154.3 125.8L157 123.2L153.9 121.2L151.2 123.7ZM186.1 126.4L188.8 124.1L185.7 121.8L183 124.2ZM191.8 126.3L194.5 124L191.5 121.8L188.8 124.1ZM197.5 126.4L200.2 124.1L197.2 121.8L194.5 124ZM194.5 124L197.2 121.8L194.2 119.5L191.5 121.8ZM200.2 124.1L202.9 121.8L199.9 119.6L197.2 121.8Z"/>
<path fill="#785848" stroke="#785848" stroke-width="0.9" d="M133.7 121.1L136.4 118.6L133.3 116.8L130.6 119.3ZM142.5 122.3L145.1 119.8L142.1 118L139.4 120.4ZM139.4 120.4L142.1 118L139 116.1L136.4 118.6ZM148.2 121.7L150.9 119.3L147.8 117.4L145.1 119.8ZM197.2 121.8L199.9 119.6L196.8 117.4L194.2 119.5ZM202.9 121.8L205.6 119.7L202.6 117.4L199.9 119.6ZM199.9 119.6L202.6 117.4L199.5 115.3L196.8 117.4ZM205.6 119.7L208.3 117.6L205.3 115.4L202.6 117.4Z"/>
<path fill="#745844" stroke="#745844" stroke-width="0.9" d="M130.6 119.3L133.3 116.8L130.3 115.1L127.6 117.6ZM127.6 117.6L130.3 115.1L127.2 113.4L124.6 115.8ZM136.4 118.6L139 116.1L136 114.4L133.3 116.8ZM208.3 117.6L211 115.6L208 113.4L205.3 115.4ZM214 117.8L216.7 115.8L213.7 113.6L211 115.6ZM211 115.6L213.7 113.6L210.6 111.4L208 113.4Z"/>
<path fill="#64543c" stroke="#64543c" stroke-width="0.9" d="M106.4 106.5L109.1 104.3L106.1 102.9L103.4 105.2ZM112.1 105.7L114.8 103.5L111.8 102.1L109.1 104.3ZM224.4 106.3L227 104.7L224 102.7L221.3 104.3ZM230 106.8L232.7 105.1L229.7 103.1L227 104.7Z"/>
<path fill="#605438" stroke="#605438" stroke-width="0.9" d="M103.4 105.2L106.1 102.9L103.1 101.6L100.4 103.8ZM232.7 105.1L235.3 103.6L232.3 101.6L229.7 103.1Z"/>
<path fill="#545434" stroke="#545434" stroke-width="0.9" d="M91.4 100.1L94.1 98L91.1 96.8L88.5 98.9ZM97.1 99.1L99.8 97.1L96.8 96L94.1 98ZM240.6 100.6L243.2 99.3L240.2 97.4L237.6 98.7Z"/>
<path fill="#3c4024" stroke="#3c4024" stroke-width="0.9" d="M88.5 98.9L91.1 96.8L88.2 95.7L85.5 97.7ZM242.8 96.1L245.4 94.9L242.4 93.2L239.8 94.3Z"/>
<path fill="#242818" stroke="#242818" stroke-width="0.9" d="M85.5 97.7L88.2 95.7L85.2 94.7L82.5 96.7Z"/>
<path fill="#10140c" stroke="#10140c" stroke-width="0.9" d="M82.5 96.7L85.2 94.7L82.3 93.7L79.6 95.6ZM85.2 94.7L87.9 92.8L85 91.8L82.3 93.7ZM126.9 81.2L129.6 80.1L126.6 79.4L123.9 80.5ZM132.6 80.8L135.3 79.7L132.3 79L129.6 80.1ZM210 82.6L212.6 81.8L209.6 80.7L206.9 81.5ZM236 87.5L238.5 86.6L235.5 85.2L232.9 86.1ZM250.6 92.7L253.1 91.7L250.1 90.1L247.6 91ZM268 100.9L270.5 99.7L267.6 97.8L265 98.9Z"/>
<path fill="#806850" stroke="#806850" stroke-width="0.9" d="M166.9 139.5L169.5 136.8L166.5 134.5L163.8 137.2ZM172.6 139.2L175.3 136.5L172.2 134.1L169.5 136.8ZM178.3 138.9L181 136.3L178 133.9L175.3 136.5ZM184 138.8L186.7 136.1L183.7 133.7L181 136.3Z"/>
<path fill="#80604c" stroke="#80604c" stroke-width="0.9" d="M157.7 132.7L160.4 130L157.3 127.9L154.7 130.5ZM163.5 132.2L166.1 129.6L163.1 127.4L160.4 130ZM172.2 134.1L174.9 131.5L171.9 129.3L169.2 131.8ZM169.2 131.8L171.9 129.3L168.8 127.1L166.1 129.6ZM178 133.9L180.7 131.3L177.6 129L174.9 131.5ZM174.9 131.5L177.6 129L174.6 126.8L171.9 129.3ZM180.7 131.3L183.4 128.8L180.3 126.6L177.6 129ZM186.4 131.2L189.1 128.7L186.1 126.4L183.4 128.8Z"/>
<path fill="#7c5c4c" stroke="#7c5c4c" stroke-width="0.9" d="M151.6 128.4L154.3 125.8L151.2 123.7L148.6 126.3ZM157.3 127.9L160 125.3L157 123.2L154.3 125.8ZM163.1 127.4L165.8 124.9L162.7 122.8L160 125.3ZM180.3 126.6L183 124.2L180 122L177.3 124.3ZM189.1 128.7L191.8 126.3L188.8 124.1L186.1 126.4Z"/>
<path fill="#745444" stroke="#745444" stroke-width="0.9" d="M133.3 116.8L136 114.4L133 112.7L130.3 115.1ZM139 116.1L141.7 113.8L138.7 112L136 114.4ZM136 114.4L138.7 112L135.7 110.3L133 112.7ZM144.8 115.5L147.5 113.2L144.4 111.4L141.7 113.8ZM199.5 115.3L202.2 113.2L199.2 111.1L196.5 113.1ZM205.3 115.4L208 113.4L204.9 111.2L202.2 113.2ZM202.2 113.2L204.9 111.2L201.9 109.2L199.2 111.1Z"/>
<path fill="#705444" stroke="#705444" stroke-width="0.9" d="M130.3 115.1L133 112.7L129.9 111L127.2 113.4ZM127.2 113.4L129.9 111L126.9 109.4L124.2 111.8ZM133 112.7L135.7 110.3L132.6 108.7L129.9 111ZM208 113.4L210.6 111.4L207.6 109.3L204.9 111.2ZM213.7 113.6L216.3 111.7L213.3 109.6L210.6 111.4ZM210.6 111.4L213.3 109.6L210.3 107.5L207.6 109.3Z"/>
<path fill="#6c5440" stroke="#6c5440" stroke-width="0.9" d="M124.2 111.8L126.9 109.4L123.9 107.9L121.2 110.2ZM121.2 110.2L123.9 107.9L120.8 106.3L118.1 108.6ZM213.3 109.6L216 107.7L213 105.7L210.3 107.5ZM219 109.8L221.7 108.1L218.7 106L216 107.7Z"/>
<path fill="#685440" stroke="#685440" stroke-width="0.9" d="M118.1 108.6L120.8 106.3L117.8 104.9L115.1 107.1ZM221.7 108.1L224.4 106.3L221.3 104.3L218.7 106Z"/>
<path fill="#645440" stroke="#645440" stroke-width="0.9" d="M115.1 107.1L117.8 104.9L114.8 103.5L112.1 105.7ZM227.4 108.4L230 106.8L227 104.7L224.4 106.3Z"/>
<path fill="#60543c" stroke="#60543c" stroke-width="0.9" d="M109.1 104.3L111.8 102.1L108.8 100.8L106.1 102.9ZM227 104.7L229.7 103.1L226.7 101.1L224 102.7Z"/>
<path fill="#5c5438" stroke="#5c5438" stroke-width="0.9" d="M106.1 102.9L108.8 100.8L105.8 99.5L103.1 101.6ZM103.1 101.6L105.8 99.5L102.8 98.3L100.1 100.4ZM229.7 103.1L232.3 101.6L229.3 99.7L226.7 101.1ZM235.3 103.6L237.9 102.1L234.9 100.1L232.3 101.6Z"/>
<path fill="#585434" stroke="#585434" stroke-width="0.9" d="M100.1 100.4L102.8 98.3L99.8 97.1L97.1 99.1ZM237.9 102.1L240.6 100.6L237.6 98.7L234.9 100.1Z"/>
<path fill="#343420" stroke="#343420" stroke-width="0.9" d="M91.1 96.8L93.8 94.9L90.9 93.8L88.2 95.7ZM102.2 92.2L104.9 90.5L101.9 89.5L99.2 91.2ZM110.6 89.8L113.3 88.2L110.3 87.2L107.6 88.8ZM222.5 90.2L225.1 89.1L222.1 87.7L219.5 88.8Z"/>
<path fill="#242414" stroke="#242414" stroke-width="0.9" d="M88.2 95.7L90.9 93.8L87.9 92.8L85.2 94.7ZM116 86.6L118.7 85.1L115.7 84.3L113 85.7ZM144.6 84.3L147.3 83L144.3 82.1L141.5 83.4ZM207.7 85.8L210.4 84.8L207.3 83.6L204.7 84.6ZM222.1 87.7L224.7 86.6L221.7 85.3L219.1 86.3ZM230.8 89.5L233.4 88.5L230.3 87L227.7 88Z"/>
<path fill="#805c4c" stroke="#805c4c" stroke-width="0.9" d="M160.4 130L163.1 127.4L160 125.3L157.3 127.9ZM166.1 129.6L168.8 127.1L165.8 124.9L163.1 127.4ZM171.9 129.3L174.6 126.8L171.5 124.6L168.8 127.1ZM168.8 127.1L171.5 124.6L168.5 122.4L165.8 124.9ZM177.6 129L180.3 126.6L177.3 124.3L174.6 126.8ZM174.6 126.8L177.3 124.3L174.2 122.2L171.5 124.6ZM183.4 128.8L186.1 126.4L183 124.2L180.3 126.6Z"/>
<path fill="#7c5848" stroke="#7c5848" stroke-width="0.9" d="M151.2 123.7L153.9 121.2L150.9 119.3L148.2 121.7ZM160 125.3L162.7 122.8L159.7 120.8L157 123.2ZM157 123.2L159.7 120.8L156.6 118.8L153.9 121.2ZM153.9 121.2L156.6 118.8L153.6 116.9L150.9 119.3ZM165.8 124.9L168.5 122.4L165.4 120.4L162.7 122.8ZM162.7 122.8L165.4 120.4L162.4 118.4L159.7 120.8ZM171.5 124.6L174.2 122.2L171.2 120.1L168.5 122.4ZM168.5 122.4L171.2 120.1L168.1 118L165.4 120.4ZM177.3 124.3L180 122L176.9 119.8L174.2 122.2ZM174.2 122.2L176.9 119.8L173.9 117.7L171.2 120.1ZM183 124.2L185.7 121.8L182.7 119.6L180 122ZM180 122L182.7 119.6L179.6 117.5L176.9 119.8ZM188.8 124.1L191.5 121.8L188.4 119.6L185.7 121.8ZM185.7 121.8L188.4 119.6L185.4 117.4L182.7 119.6ZM191.5 121.8L194.2 119.5L191.1 117.3L188.4 119.6Z"/>
<path fill="#785448" stroke="#785448" stroke-width="0.9" d="M145.1 119.8L147.8 117.4L144.8 115.5L142.1 118ZM150.9 119.3L153.6 116.9L150.5 115L147.8 117.4ZM156.6 118.8L159.3 116.4L156.3 114.5L153.6 116.9ZM162.4 118.4L165.1 116L162 114.1L159.3 116.4ZM168.1 118L170.8 115.7L167.8 113.8L165.1 116ZM173.9 117.7L176.6 115.5L173.5 113.5L170.8 115.7ZM188.4 119.6L191.1 117.3L188.1 115.2L185.4 117.4ZM194.2 119.5L196.8 117.4L193.8 115.2L191.1 117.3Z"/>
<path fill="#785444" stroke="#785444" stroke-width="0.9" d="M142.1 118L144.8 115.5L141.7 113.8L139 116.1ZM147.8 117.4L150.5 115L147.5 113.2L144.8 115.5ZM153.6 116.9L156.3 114.5L153.2 112.7L150.5 115ZM159.3 116.4L162 114.1L159 112.3L156.3 114.5ZM165.1 116L167.8 113.8L164.7 111.9L162 114.1ZM170.8 115.7L173.5 113.5L170.5 111.6L167.8 113.8ZM179.6 117.5L182.3 115.3L179.3 113.3L176.6 115.5ZM176.6 115.5L179.3 113.3L176.2 111.4L173.5 113.5ZM185.4 117.4L188.1 115.2L185 113.2L182.3 115.3ZM191.1 117.3L193.8 115.2L190.8 113.1L188.1 115.2ZM196.8 117.4L199.5 115.3L196.5 113.1L193.8 115.2ZM193.8 115.2L196.5 113.1L193.5 111.1L190.8 113.1ZM202.6 117.4L205.3 115.4L202.2 113.2L199.5 115.3Z"/>
<path fill="#705440" stroke="#705440" stroke-width="0.9" d="M129.9 111L132.6 108.7L129.6 107.1L126.9 109.4Z"/>
<path fill="#6c5040" stroke="#6c5040" stroke-width="0.9" d="M126.9 109.4L129.6 107.1L126.5 105.6L123.9 107.9ZM132.6 108.7L135.3 106.5L132.3 105L129.6 107.1ZM129.6 107.1L132.3 105L129.2 103.5L126.5 105.6ZM207.6 109.3L210.3 107.5L207.3 105.5L204.6 107.3ZM204.6 107.3L207.3 105.5L204.2 103.6L201.6 105.4ZM210.3 107.5L213 105.7L209.9 103.8L207.3 105.5Z"/>
<path fill="#685040" stroke="#685040" stroke-width="0.9" d="M123.9 107.9L126.5 105.6L123.5 104.1L120.8 106.3ZM120.8 106.3L123.5 104.1L120.5 102.7L117.8 104.9ZM126.5 105.6L129.2 103.5L126.2 102L123.5 104.1ZM216 107.7L218.7 106L215.6 104L213 105.7ZM213 105.7L215.6 104L212.6 102.1L209.9 103.8ZM218.7 106L221.3 104.3L218.3 102.4L215.6 104Z"/>
<path fill="#64503c" stroke="#64503c" stroke-width="0.9" d="M117.8 104.9L120.5 102.7L117.5 101.3L114.8 103.5ZM123.5 104.1L126.2 102L123.2 100.6L120.5 102.7ZM120.5 102.7L123.2 100.6L120.2 99.3L117.5 101.3ZM215.6 104L218.3 102.4L215.3 100.5L212.6 102.1ZM221.3 104.3L224 102.7L221 100.8L218.3 102.4Z"/>
<path fill="#60503c" stroke="#60503c" stroke-width="0.9" d="M114.8 103.5L117.5 101.3L114.5 100L111.8 102.1ZM117.5 101.3L120.2 99.3L117.2 98L114.5 100ZM218.3 102.4L221 100.8L218 98.9L215.3 100.5ZM224 102.7L226.7 101.1L223.6 99.3L221 100.8Z"/>
<path fill="#605038" stroke="#605038" stroke-width="0.9" d="M111.8 102.1L114.5 100L111.5 98.7L108.8 100.8Z"/>
<path fill="#5c5038" stroke="#5c5038" stroke-width="0.9" d="M108.8 100.8L111.5 98.7L108.5 97.5L105.8 99.5ZM114.5 100L117.2 98L114.2 96.8L111.5 98.7ZM226.7 101.1L229.3 99.7L226.3 97.8L223.6 99.3ZM232.3 101.6L234.9 100.1L231.9 98.2L229.3 99.7Z"/>
<path fill="#585034" stroke="#585034" stroke-width="0.9" d="M105.8 99.5L108.5 97.5L105.5 96.3L102.8 98.3ZM108.5 97.5L111.2 95.5L108.2 94.4L105.5 96.3ZM229.3 99.7L231.9 98.2L228.9 96.4L226.3 97.8ZM234.9 100.1L237.6 98.7L234.6 96.9L231.9 98.2Z"/>
<path fill="#545034" stroke="#545034" stroke-width="0.9" d="M102.8 98.3L105.5 96.3L102.5 95.2L99.8 97.1ZM231.9 98.2L234.6 96.9L231.6 95.1L228.9 96.4Z"/>
<path fill="#545030" stroke="#545030" stroke-width="0.9" d="M99.8 97.1L102.5 95.2L99.5 94.1L96.8 96ZM105.5 96.3L108.2 94.4L105.2 93.3L102.5 95.2ZM237.6 98.7L240.2 97.4L237.2 95.6L234.6 96.9Z"/>
<path fill="#404028" stroke="#404028" stroke-width="0.9" d="M96.8 96L99.5 94.1L96.5 93L93.8 94.9ZM113.6 90.8L116.3 89.1L113.3 88.2L110.6 89.8Z"/>
<path fill="#2c301c" stroke="#2c301c" stroke-width="0.9" d="M93.8 94.9L96.5 93L93.6 92L90.9 93.8ZM245.4 94.9L248 93.8L245 92.1L242.4 93.2Z"/>
<path fill="#745044" stroke="#745044" stroke-width="0.9" d="M141.7 113.8L144.4 111.4L141.4 109.7L138.7 112ZM150.5 115L153.2 112.7L150.2 110.9L147.5 113.2ZM147.5 113.2L150.2 110.9L147.1 109.2L144.4 111.4ZM156.3 114.5L159 112.3L155.9 110.5L153.2 112.7ZM153.2 112.7L155.9 110.5L152.9 108.7L150.2 110.9ZM162 114.1L164.7 111.9L161.7 110.1L159 112.3ZM159 112.3L161.7 110.1L158.6 108.3L155.9 110.5ZM167.8 113.8L170.5 111.6L167.4 109.7L164.7 111.9ZM164.7 111.9L167.4 109.7L164.4 107.9L161.7 110.1ZM173.5 113.5L176.2 111.4L173.2 109.5L170.5 111.6ZM170.5 111.6L173.2 109.5L170.1 107.7L167.4 109.7ZM179.3 113.3L182 111.2L178.9 109.3L176.2 111.4ZM176.2 111.4L178.9 109.3L175.9 107.4L173.2 109.5ZM185 113.2L187.7 111.1L184.7 109.2L182 111.2ZM182 111.2L184.7 109.2L181.6 107.3L178.9 109.3ZM190.8 113.1L193.5 111.1L190.4 109.1L187.7 111.1ZM187.7 111.1L190.4 109.1L187.4 107.2L184.7 109.2ZM196.5 113.1L199.2 111.1L196.2 109.1L193.5 111.1ZM193.5 111.1L196.2 109.1L193.1 107.2L190.4 109.1Z"/>
<path fill="#705044" stroke="#705044" stroke-width="0.9" d="M138.7 112L141.4 109.7L138.3 108.1L135.7 110.3ZM144.4 111.4L147.1 109.2L144.1 107.5L141.4 109.7ZM199.2 111.1L201.9 109.2L198.9 107.2L196.2 109.1ZM204.9 111.2L207.6 109.3L204.6 107.3L201.9 109.2Z"/>
<path fill="#705040" stroke="#705040" stroke-width="0.9" d="M135.7 110.3L138.3 108.1L135.3 106.5L132.6 108.7ZM141.4 109.7L144.1 107.5L141 105.9L138.3 108.1ZM150.2 110.9L152.9 108.7L149.8 107L147.1 109.2ZM155.9 110.5L158.6 108.3L155.6 106.6L152.9 108.7ZM161.7 110.1L164.4 107.9L161.3 106.2L158.6 108.3ZM167.4 109.7L170.1 107.7L167.1 105.9L164.4 107.9ZM201.9 109.2L204.6 107.3L201.6 105.4L198.9 107.2Z"/>
<path fill="#585038" stroke="#585038" stroke-width="0.9" d="M111.5 98.7L114.2 96.8L111.2 95.5L108.5 97.5Z"/>
<path fill="#4c4c2c" stroke="#4c4c2c" stroke-width="0.9" d="M102.5 95.2L105.2 93.3L102.2 92.2L99.5 94.1Z"/>
<path fill="#3c3c24" stroke="#3c3c24" stroke-width="0.9" d="M99.5 94.1L102.2 92.2L99.2 91.2L96.5 93ZM225.5 91.8L228.1 90.6L225.1 89.1L222.5 90.2Z"/>
<path fill="#0c0c08" stroke="#0c0c08" stroke-width="0.9" d="M90.6 91L93.3 89.3L90.4 88.4L87.7 90ZM93.3 89.3L96 87.6L93.1 86.8L90.4 88.4ZM107.1 84L109.8 82.7L106.9 81.9L104.2 83.2ZM109.8 82.7L112.5 81.4L109.6 80.7L106.9 81.9ZM118.2 80.9L120.9 79.8L118 79.2L115.3 80.3ZM141 79.4L143.7 78.4L140.7 77.8L138 78.7ZM146.7 79.2L149.4 78.2L146.4 77.5L143.7 78.4ZM155.4 79.7L158.1 78.7L155.1 78L152.4 78.9ZM161.1 79.5L163.8 78.6L160.8 77.9L158.1 78.7ZM166.8 79.4L169.5 78.5L166.4 77.8L163.8 78.6ZM175.5 80.2L178.2 79.3L175.1 78.4L172.5 79.3ZM172.5 79.3L175.1 78.4L172.1 77.7L169.5 78.5ZM181.2 80.2L183.8 79.3L180.8 78.4L178.2 79.3ZM186.9 80.2L189.5 79.3L186.5 78.5L183.8 79.3ZM192.6 80.2L195.2 79.4L192.2 78.6L189.5 79.3ZM198.2 80.4L200.9 79.6L197.8 78.7L195.2 79.4ZM203.9 80.5L206.5 79.8L203.5 78.9L200.9 79.6ZM212.6 81.8L215.2 81L212.2 80L209.6 80.7ZM218.2 82.1L220.8 81.3L217.8 80.3L215.2 81ZM226.9 83.6L229.5 82.8L226.4 81.7L223.9 82.4ZM238.5 86.6L241.1 85.7L238.1 84.4L235.5 85.2ZM256.1 93.4L258.7 92.4L255.7 90.7L253.1 91.7Z"/>
<path fill="#7c5448" stroke="#7c5448" stroke-width="0.9" d="M159.7 120.8L162.4 118.4L159.3 116.4L156.6 118.8ZM165.4 120.4L168.1 118L165.1 116L162.4 118.4ZM171.2 120.1L173.9 117.7L170.8 115.7L168.1 118ZM176.9 119.8L179.6 117.5L176.6 115.5L173.9 117.7ZM182.7 119.6L185.4 117.4L182.3 115.3L179.6 117.5Z"/>
<path fill="#6c4c40" stroke="#6c4c40" stroke-width="0.9" d="M138.3 108.1L141 105.9L138 104.3L135.3 106.5ZM135.3 106.5L138 104.3L135 102.8L132.3 105ZM144.1 107.5L146.8 105.4L143.7 103.8L141 105.9ZM141 105.9L143.7 103.8L140.7 102.3L138 104.3ZM149.8 107L152.5 104.9L149.5 103.3L146.8 105.4ZM146.8 105.4L149.5 103.3L146.5 101.8L143.7 103.8ZM155.6 106.6L158.3 104.5L155.2 102.9L152.5 104.9ZM161.3 106.2L164 104.2L161 102.5L158.3 104.5ZM167.1 105.9L169.8 103.9L166.8 102.2L164 104.2ZM172.8 105.6L175.5 103.7L172.5 102L169.8 103.9ZM178.6 105.5L181.3 103.5L178.3 101.8L175.5 103.7ZM184.3 105.3L187 103.5L184 101.7L181.3 103.5ZM193.1 107.2L195.8 105.3L192.8 103.4L190.1 105.3ZM190.1 105.3L192.8 103.4L189.7 101.7L187 103.5ZM198.9 107.2L201.6 105.4L198.5 103.5L195.8 105.3ZM195.8 105.3L198.5 103.5L195.5 101.7L192.8 103.4Z"/>
<path fill="#684c3c" stroke="#684c3c" stroke-width="0.9" d="M132.3 105L135 102.8L131.9 101.4L129.2 103.5ZM138 104.3L140.7 102.3L137.7 100.8L135 102.8ZM198.5 103.5L201.2 101.7L198.2 100L195.5 101.7ZM204.2 103.6L206.9 101.9L203.9 100.1L201.2 101.7Z"/>
<path fill="#644c3c" stroke="#644c3c" stroke-width="0.9" d="M129.2 103.5L131.9 101.4L128.9 100L126.2 102ZM126.2 102L128.9 100L125.9 98.6L123.2 100.6ZM135 102.8L137.7 100.8L134.6 99.4L131.9 101.4ZM131.9 101.4L134.6 99.4L131.6 98L128.9 100ZM209.9 103.8L212.6 102.1L209.6 100.2L206.9 101.9ZM206.9 101.9L209.6 100.2L206.6 98.5L203.9 100.1ZM212.6 102.1L215.3 100.5L212.3 98.7L209.6 100.2Z"/>
<path fill="#604c3c" stroke="#604c3c" stroke-width="0.9" d="M123.2 100.6L125.9 98.6L122.9 97.3L120.2 99.3ZM128.9 100L131.6 98L128.6 96.7L125.9 98.6ZM209.6 100.2L212.3 98.7L209.2 96.9L206.6 98.5ZM215.3 100.5L218 98.9L214.9 97.2L212.3 98.7Z"/>
<path fill="#5c4c38" stroke="#5c4c38" stroke-width="0.9" d="M120.2 99.3L122.9 97.3L119.9 96.1L117.2 98ZM125.9 98.6L128.6 96.7L125.6 95.4L122.9 97.3ZM122.9 97.3L125.6 95.4L122.6 94.2L119.9 96.1ZM221 100.8L223.6 99.3L220.6 97.5L218 98.9ZM218 98.9L220.6 97.5L217.6 95.7L214.9 97.2Z"/>
<path fill="#584c38" stroke="#584c38" stroke-width="0.9" d="M117.2 98L119.9 96.1L116.9 94.8L114.2 96.8ZM223.6 99.3L226.3 97.8L223.3 96L220.6 97.5Z"/>
<path fill="#584c34" stroke="#584c34" stroke-width="0.9" d="M114.2 96.8L116.9 94.8L113.9 93.7L111.2 95.5ZM119.9 96.1L122.6 94.2L119.6 93L116.9 94.8ZM220.6 97.5L223.3 96L220.2 94.3L217.6 95.7ZM226.3 97.8L228.9 96.4L225.9 94.7L223.3 96Z"/>
<path fill="#544c34" stroke="#544c34" stroke-width="0.9" d="M111.2 95.5L113.9 93.7L110.9 92.6L108.2 94.4ZM116.9 94.8L119.6 93L116.6 91.9L113.9 93.7ZM223.3 96L225.9 94.7L222.9 93L220.2 94.3Z"/>
<path fill="#504c30" stroke="#504c30" stroke-width="0.9" d="M108.2 94.4L110.9 92.6L107.9 91.5L105.2 93.3ZM113.9 93.7L116.6 91.9L113.6 90.8L110.9 92.6ZM225.9 94.7L228.5 93.4L225.5 91.8L222.9 93ZM231.6 95.1L234.2 93.9L231.2 92.2L228.5 93.4Z"/>
<path fill="#444428" stroke="#444428" stroke-width="0.9" d="M105.2 93.3L107.9 91.5L104.9 90.5L102.2 92.2ZM228.5 93.4L231.2 92.2L228.1 90.6L225.5 91.8Z"/>
<path fill="#242418" stroke="#242418" stroke-width="0.9" d="M99.2 91.2L101.9 89.5L99 88.5L96.3 90.2ZM138.8 84.7L141.5 83.4L138.5 82.5L135.8 83.7ZM196.3 85.5L199 84.4L196 83.2L193.3 84.3ZM202 85.6L204.7 84.6L201.7 83.4L199 84.4Z"/>
<path fill="#181810" stroke="#181810" stroke-width="0.9" d="M96.3 90.2L99 88.5L96 87.6L93.3 89.3ZM107.3 86.3L110.1 84.8L107.1 84L104.4 85.4ZM115.7 84.3L118.5 82.9L115.5 82.2L112.8 83.5ZM138.5 82.5L141.3 81.3L138.3 80.5L135.6 81.6ZM144.3 82.1L147 81L144 80.2L141.3 81.3ZM158.7 82.5L161.4 81.4L158.4 80.5L155.7 81.6ZM164.4 82.4L167.1 81.3L164.1 80.4L161.4 81.4ZM170.1 82.2L172.8 81.2L169.8 80.2L167.1 81.3ZM190.3 83.2L192.9 82.2L189.9 81.1L187.2 82.1ZM196 83.2L198.6 82.3L195.6 81.2L192.9 82.2ZM201.7 83.4L204.3 82.4L201.3 81.4L198.6 82.3ZM207.3 83.6L210 82.6L206.9 81.5L204.3 82.4Z"/>
<path fill="#704c40" stroke="#704c40" stroke-width="0.9" d="M147.1 109.2L149.8 107L146.8 105.4L144.1 107.5ZM152.9 108.7L155.6 106.6L152.5 104.9L149.8 107ZM158.6 108.3L161.3 106.2L158.3 104.5L155.6 106.6ZM164.4 107.9L167.1 105.9L164 104.2L161.3 106.2ZM173.2 109.5L175.9 107.4L172.8 105.6L170.1 107.7ZM170.1 107.7L172.8 105.6L169.8 103.9L167.1 105.9ZM178.9 109.3L181.6 107.3L178.6 105.5L175.9 107.4ZM175.9 107.4L178.6 105.5L175.5 103.7L172.8 105.6ZM184.7 109.2L187.4 107.2L184.3 105.3L181.6 107.3ZM181.6 107.3L184.3 105.3L181.3 103.5L178.6 105.5ZM190.4 109.1L193.1 107.2L190.1 105.3L187.4 107.2ZM187.4 107.2L190.1 105.3L187 103.5L184.3 105.3ZM196.2 109.1L198.9 107.2L195.8 105.3L193.1 107.2Z"/>
<path fill="#3c3824" stroke="#3c3824" stroke-width="0.9" d="M107.9 91.5L110.6 89.8L107.6 88.8L104.9 90.5ZM127.7 88L130.4 86.5L127.4 85.6L124.7 87ZM211.1 89.7L213.8 88.5L210.8 87.1L208.1 88.3Z"/>
<path fill="#2c2c1c" stroke="#2c2c1c" stroke-width="0.9" d="M104.9 90.5L107.6 88.8L104.6 87.8L101.9 89.5ZM113.3 88.2L116 86.6L113 85.7L110.3 87.2ZM205.1 86.9L207.7 85.8L204.7 84.6L202 85.6ZM219.5 88.8L222.1 87.7L219.1 86.3L216.4 87.4Z"/>
<path fill="#202014" stroke="#202014" stroke-width="0.9" d="M101.9 89.5L104.6 87.8L101.7 86.9L99 88.5ZM118.7 85.1L121.4 83.8L118.5 82.9L115.7 84.3ZM124.4 84.6L127.1 83.3L124.2 82.5L121.4 83.8ZM130.1 84.2L132.8 82.9L129.9 82L127.1 83.3ZM135.8 83.7L138.5 82.5L135.6 81.6L132.8 82.9ZM150.3 84L153 82.8L150 81.9L147.3 83ZM156 83.7L158.7 82.5L155.7 81.6L153 82.8ZM176.2 84.3L178.9 83.2L175.8 82.1L173.2 83.2ZM181.9 84.2L184.6 83.1L181.5 82.1L178.9 83.2ZM187.6 84.2L190.3 83.2L187.2 82.1L184.6 83.1ZM193.3 84.3L196 83.2L192.9 82.2L190.3 83.2ZM199 84.4L201.7 83.4L198.6 82.3L196 83.2ZM213.4 86L216 85L213 83.8L210.4 84.8ZM219.1 86.3L221.7 85.3L218.6 84.1L216 85ZM227.7 88L230.3 87L227.3 85.7L224.7 86.6Z"/>
<path fill="#68483c" stroke="#68483c" stroke-width="0.9" d="M143.7 103.8L146.5 101.8L143.4 100.3L140.7 102.3ZM140.7 102.3L143.4 100.3L140.4 98.8L137.7 100.8ZM149.5 103.3L152.2 101.3L149.2 99.8L146.5 101.8ZM146.5 101.8L149.2 99.8L146.1 98.4L143.4 100.3ZM155.2 102.9L158 100.9L154.9 99.4L152.2 101.3ZM152.2 101.3L154.9 99.4L151.9 97.9L149.2 99.8ZM161 102.5L163.7 100.6L160.7 99.1L158 100.9ZM158 100.9L160.7 99.1L157.6 97.6L154.9 99.4ZM166.8 102.2L169.5 100.4L166.4 98.8L163.7 100.6ZM172.5 102L175.2 100.2L172.2 98.5L169.5 100.4ZM181.3 103.5L184 101.7L181 100L178.3 101.8ZM178.3 101.8L181 100L177.9 98.4L175.2 100.2ZM187 103.5L189.7 101.7L186.7 99.9L184 101.7ZM184 101.7L186.7 99.9L183.7 98.3L181 100ZM192.8 103.4L195.5 101.7L192.4 99.9L189.7 101.7ZM189.7 101.7L192.4 99.9L189.4 98.2L186.7 99.9Z"/>
<path fill="#64483c" stroke="#64483c" stroke-width="0.9" d="M137.7 100.8L140.4 98.8L137.3 97.5L134.6 99.4ZM143.4 100.3L146.1 98.4L143.1 96.9L140.4 98.8ZM149.2 99.8L151.9 97.9L148.8 96.5L146.1 98.4ZM163.7 100.6L166.4 98.8L163.4 97.3L160.7 99.1ZM169.5 100.4L172.2 98.5L169.1 97L166.4 98.8ZM186.7 99.9L189.4 98.2L186.3 96.6L183.7 98.3ZM195.5 101.7L198.2 100L195.1 98.2L192.4 99.9ZM192.4 99.9L195.1 98.2L192.1 96.6L189.4 98.2ZM201.2 101.7L203.9 100.1L200.8 98.3L198.2 100ZM198.2 100L200.8 98.3L197.8 96.6L195.1 98.2Z"/>
<path fill="#604838" stroke="#604838" stroke-width="0.9" d="M134.6 99.4L137.3 97.5L134.3 96.1L131.6 98ZM140.4 98.8L143.1 96.9L140.1 95.6L137.3 97.5ZM146.1 98.4L148.8 96.5L145.8 95.1L143.1 96.9ZM195.1 98.2L197.8 96.6L194.8 95L192.1 96.6ZM200.8 98.3L203.5 96.8L200.5 95.1L197.8 96.6Z"/>
<path fill="#5c4838" stroke="#5c4838" stroke-width="0.9" d="M131.6 98L134.3 96.1L131.3 94.8L128.6 96.7ZM128.6 96.7L131.3 94.8L128.3 93.6L125.6 95.4ZM137.3 97.5L140.1 95.6L137 94.3L134.3 96.1ZM134.3 96.1L137 94.3L134 93.1L131.3 94.8ZM206.6 98.5L209.2 96.9L206.2 95.3L203.5 96.8ZM203.5 96.8L206.2 95.3L203.2 93.7L200.5 95.1ZM212.3 98.7L214.9 97.2L211.9 95.5L209.2 96.9ZM209.2 96.9L211.9 95.5L208.9 93.8L206.2 95.3Z"/>
<path fill="#584834" stroke="#584834" stroke-width="0.9" d="M125.6 95.4L128.3 93.6L125.3 92.4L122.6 94.2ZM131.3 94.8L134 93.1L131 91.9L128.3 93.6ZM206.2 95.3L208.9 93.8L205.8 92.3L203.2 93.7ZM211.9 95.5L214.6 94.1L211.5 92.5L208.9 93.8Z"/>
<path fill="#544834" stroke="#544834" stroke-width="0.9" d="M122.6 94.2L125.3 92.4L122.3 91.3L119.6 93ZM128.3 93.6L131 91.9L128 90.7L125.3 92.4ZM217.6 95.7L220.2 94.3L217.2 92.7L214.6 94.1ZM214.6 94.1L217.2 92.7L214.2 91.2L211.5 92.5Z"/>
<path fill="#504830" stroke="#504830" stroke-width="0.9" d="M119.6 93L122.3 91.3L119.3 90.2L116.6 91.9ZM116.6 91.9L119.3 90.2L116.3 89.1L113.6 90.8ZM125.3 92.4L128 90.7L125 89.6L122.3 91.3ZM122.3 91.3L125 89.6L122 88.6L119.3 90.2ZM220.2 94.3L222.9 93L219.9 91.4L217.2 92.7ZM217.2 92.7L219.9 91.4L216.8 89.9L214.2 91.2Z"/>
<path fill="#282818" stroke="#282818" stroke-width="0.9" d="M107.6 88.8L110.3 87.2L107.3 86.3L104.6 87.8ZM121.7 86.1L124.4 84.6L121.4 83.8L118.7 85.1ZM127.4 85.6L130.1 84.2L127.1 83.3L124.4 84.6ZM133.1 85.1L135.8 83.7L132.8 82.9L130.1 84.2ZM147.6 85.3L150.3 84L147.3 83L144.6 84.3ZM216.4 87.4L219.1 86.3L216 85L213.4 86ZM242.4 93.2L245 92.1L242 90.5L239.4 91.5Z"/>
<path fill="#10100c" stroke="#10100c" stroke-width="0.9" d="M101.7 86.9L104.4 85.4L101.4 84.6L98.7 86.1ZM152.7 80.7L155.4 79.7L152.4 78.9L149.7 79.9ZM178.5 81.1L181.2 80.2L178.2 79.3L175.5 80.2Z"/>
<path fill="#6c4840" stroke="#6c4840" stroke-width="0.9" d="M152.5 104.9L155.2 102.9L152.2 101.3L149.5 103.3Z"/>
<path fill="#444028" stroke="#444028" stroke-width="0.9" d="M119.3 90.2L122 88.6L119 87.6L116.3 89.1ZM125 89.6L127.7 88L124.7 87L122 88.6ZM219.9 91.4L222.5 90.2L219.5 88.8L216.8 89.9Z"/>
<path fill="#383820" stroke="#383820" stroke-width="0.9" d="M116.3 89.1L119 87.6L116 86.6L113.3 88.2ZM231.2 92.2L233.8 91L230.8 89.5L228.1 90.6Z"/>
<path fill="#202414" stroke="#202414" stroke-width="0.9" d="M110.3 87.2L113 85.7L110.1 84.8L107.3 86.3ZM239.4 91.5L242 90.5L239 88.9L236.4 90ZM248 93.8L250.6 92.7L247.6 91L245 92.1Z"/>
<path fill="#101008" stroke="#101008" stroke-width="0.9" d="M104.4 85.4L107.1 84L104.2 83.2L101.4 84.6ZM112.8 83.5L115.5 82.2L112.5 81.4L109.8 82.7ZM138.3 80.5L141 79.4L138 78.7L135.3 79.7ZM144 80.2L146.7 79.2L143.7 78.4L141 79.4ZM158.4 80.5L161.1 79.5L158.1 78.7L155.4 79.7ZM164.1 80.4L166.8 79.4L163.8 78.6L161.1 79.5ZM184.2 81.1L186.9 80.2L183.8 79.3L181.2 80.2ZM189.9 81.1L192.6 80.2L189.5 79.3L186.9 80.2ZM195.6 81.2L198.2 80.4L195.2 79.4L192.6 80.2ZM201.3 81.4L203.9 80.5L200.9 79.6L198.2 80.4ZM215.6 82.9L218.2 82.1L215.2 81L212.6 81.8ZM232.9 86.1L235.5 85.2L232.5 84L229.9 84.8Z"/>
<path fill="#040400" stroke="#040400" stroke-width="0.9" d="M98.5 83.8L101.2 82.5L98.3 81.8L95.6 83.1ZM101.2 82.5L103.9 81.3L101 80.6L98.3 81.8ZM103.9 81.3L106.7 80.1L103.7 79.5L101 80.6ZM106.7 80.1L109.4 79L106.5 78.5L103.7 79.5ZM109.4 79L112.1 78L109.2 77.5L106.5 78.5ZM112.1 78L114.8 77.1L111.9 76.6L109.2 77.5ZM114.8 77.1L117.6 76.3L114.6 75.9L111.9 76.6ZM120.5 76.7L123.2 76L120.3 75.5L117.6 76.3ZM117.6 76.3L120.3 75.5L117.4 75.2L114.6 75.9ZM123.2 76L125.9 75.2L123 74.9L120.3 75.5ZM120.3 75.5L123 74.9L120.1 74.6L117.4 75.2ZM125.9 75.2L128.6 74.6L125.7 74.3L123 74.9ZM123 74.9L125.7 74.3L122.8 74.1L120.1 74.6ZM131.6 75L134.3 74.4L131.3 74.1L128.6 74.6ZM128.6 74.6L131.3 74.1L128.4 73.8L125.7 74.3ZM140.2 75.2L142.9 74.6L139.9 74.2L137.2 74.8ZM137.2 74.8L139.9 74.2L137 73.9L134.3 74.4ZM134.3 74.4L137 73.9L134 73.7L131.3 74.1ZM145.8 75L148.5 74.4L145.6 74.1L142.9 74.6ZM142.9 74.6L145.6 74.1L142.6 73.8L139.9 74.2ZM139.9 74.2L142.6 73.8L139.7 73.5L137 73.9ZM151.5 74.9L154.2 74.3L151.2 74L148.5 74.4ZM148.5 74.4L151.2 74L148.2 73.6L145.6 74.1ZM145.6 74.1L148.2 73.6L145.3 73.4L142.6 73.8ZM160.1 75.2L162.8 74.7L159.8 74.2L157.1 74.7ZM157.1 74.7L159.8 74.2L156.8 73.9L154.2 74.3ZM154.2 74.3L156.8 73.9L153.9 73.6L151.2 74ZM151.2 74L153.9 73.6L150.9 73.3L148.2 73.6ZM165.8 75.2L168.5 74.6L165.5 74.2L162.8 74.7ZM162.8 74.7L165.5 74.2L162.5 73.8L159.8 74.2ZM159.8 74.2L162.5 73.8L159.5 73.5L156.8 73.9ZM171.4 75.1L174.1 74.6L171.1 74.2L168.5 74.6ZM168.5 74.6L171.1 74.2L168.1 73.8L165.5 74.2ZM165.5 74.2L168.1 73.8L165.1 73.5L162.5 73.8ZM177.1 75.1L179.7 74.7L176.7 74.2L174.1 74.6ZM174.1 74.6L176.7 74.2L173.8 73.8L171.1 74.2ZM171.1 74.2L173.8 73.8L170.8 73.5L168.1 73.8ZM185.8 75.8L188.4 75.3L185.4 74.8L182.7 75.2ZM182.7 75.2L185.4 74.8L182.4 74.3L179.7 74.7ZM179.7 74.7L182.4 74.3L179.4 73.9L176.7 74.2ZM176.7 74.2L179.4 73.9L176.4 73.6L173.8 73.8ZM191.4 75.9L194 75.4L191 74.9L188.4 75.3ZM188.4 75.3L191 74.9L188 74.4L185.4 74.8ZM185.4 74.8L188 74.4L185 74L182.4 74.3ZM182.4 74.3L185 74L182 73.7L179.4 73.9ZM197 76L199.6 75.6L196.6 75L194 75.4ZM194 75.4L196.6 75L193.6 74.6L191 74.9ZM191 74.9L193.6 74.6L190.6 74.1L188 74.4ZM202.7 76.2L205.2 75.8L202.2 75.2L199.6 75.6ZM199.6 75.6L202.2 75.2L199.2 74.8L196.6 75ZM196.6 75L199.2 74.8L196.2 74.3L193.6 74.6ZM211.3 77.1L213.9 76.7L210.9 76.1L208.3 76.4ZM208.3 76.4L210.9 76.1L207.8 75.5L205.2 75.8ZM205.2 75.8L207.8 75.5L204.8 75L202.2 75.2ZM223 79.1L225.5 78.6L222.5 77.8L219.9 78.2ZM219.9 78.2L222.5 77.8L219.5 77L216.9 77.4ZM216.9 77.4L219.5 77L216.4 76.4L213.9 76.7ZM213.9 76.7L216.4 76.4L213.4 75.8L210.9 76.1ZM210.9 76.1L213.4 75.8L210.4 75.2L207.8 75.5ZM282.2 108.4L284.8 107.1L281.9 104.9L279.3 106.1ZM279.3 106.1L281.9 104.9L278.9 102.7L276.4 103.9ZM276.4 103.9L278.9 102.7L276 100.6L273.5 101.8ZM273.5 101.8L276 100.6L273.1 98.6L270.5 99.7ZM270.5 99.7L273.1 98.6L270.1 96.7L267.6 97.8ZM267.6 97.8L270.1 96.7L267.2 94.9L264.6 95.9ZM264.6 95.9L267.2 94.9L264.2 93.1L261.7 94.1ZM261.7 94.1L264.2 93.1L261.2 91.4L258.7 92.4ZM258.7 92.4L261.2 91.4L258.2 89.8L255.7 90.7ZM255.7 90.7L258.2 89.8L255.2 88.3L252.7 89.2ZM252.7 89.2L255.2 88.3L252.2 86.9L249.7 87.7ZM249.7 87.7L252.2 86.9L249.2 85.5L246.7 86.3ZM246.7 86.3L249.2 85.5L246.2 84.3L243.7 85ZM243.7 85L246.2 84.3L243.2 83L240.6 83.7ZM240.6 83.7L243.2 83L240.2 81.9L237.6 82.5ZM237.6 82.5L240.2 81.9L237.1 80.9L234.6 81.4ZM234.6 81.4L237.1 80.9L234.1 79.9L231.6 80.4ZM231.6 80.4L234.1 79.9L231.1 79L228.5 79.5ZM228.5 79.5L231.1 79L228.1 78.2L225.5 78.6ZM225.5 78.6L228.1 78.2L225 77.4L222.5 77.8ZM222.5 77.8L225 77.4L222 76.7L219.5 77ZM219.5 77L222 76.7L219 76.1L216.4 76.4Z"/>
<path fill="#6c483c" stroke="#6c483c" stroke-width="0.9" d="M158.3 104.5L161 102.5L158 100.9L155.2 102.9ZM164 104.2L166.8 102.2L163.7 100.6L161 102.5ZM169.8 103.9L172.5 102L169.5 100.4L166.8 102.2ZM175.5 103.7L178.3 101.8L175.2 100.2L172.5 102Z"/>
<path fill="#5c4438" stroke="#5c4438" stroke-width="0.9" d="M143.1 96.9L145.8 95.1L142.8 93.8L140.1 95.6ZM140.1 95.6L142.8 93.8L139.7 92.6L137 94.3ZM148.8 96.5L151.5 94.7L148.5 93.4L145.8 95.1ZM145.8 95.1L148.5 93.4L145.5 92.1L142.8 93.8ZM154.6 96.1L157.3 94.4L154.2 93L151.5 94.7ZM160.3 95.8L163 94.1L160 92.7L157.3 94.4ZM166.1 95.5L168.8 93.9L165.7 92.5L163 94.1ZM171.8 95.3L174.5 93.7L171.5 92.3L168.8 93.9ZM177.6 95.1L180.3 93.6L177.2 92.1L174.5 93.7ZM186.3 96.6L189 95L186 93.5L183.3 95ZM183.3 95L186 93.5L183 92L180.3 93.6ZM192.1 96.6L194.8 95L191.7 93.5L189 95ZM197.8 96.6L200.5 95.1L197.4 93.5L194.8 95Z"/>
<path fill="#584434" stroke="#584434" stroke-width="0.9" d="M137 94.3L139.7 92.6L136.7 91.3L134 93.1ZM142.8 93.8L145.5 92.1L142.5 90.9L139.7 92.6ZM148.5 93.4L151.2 91.7L148.2 90.5L145.5 92.1ZM154.2 93L157 91.4L153.9 90.1L151.2 91.7ZM163 94.1L165.7 92.5L162.7 91.1L160 92.7ZM180.3 93.6L183 92L179.9 90.6L177.2 92.1ZM186 93.5L188.7 92L185.6 90.6L183 92ZM194.8 95L197.4 93.5L194.4 92L191.7 93.5ZM191.7 93.5L194.4 92L191.4 90.6L188.7 92ZM200.5 95.1L203.2 93.7L200.1 92.1L197.4 93.5Z"/>
<path fill="#544434" stroke="#544434" stroke-width="0.9" d="M134 93.1L136.7 91.3L133.7 90.2L131 91.9ZM139.7 92.6L142.5 90.9L139.4 89.7L136.7 91.3ZM145.5 92.1L148.2 90.5L145.2 89.3L142.5 90.9ZM197.4 93.5L200.1 92.1L197.1 90.6L194.4 92ZM194.4 92L197.1 90.6L194 89.2L191.4 90.6ZM203.2 93.7L205.8 92.3L202.8 90.8L200.1 92.1ZM200.1 92.1L202.8 90.8L199.8 89.3L197.1 90.6ZM208.9 93.8L211.5 92.5L208.5 90.9L205.8 92.3Z"/>
<path fill="#504430" stroke="#504430" stroke-width="0.9" d="M131 91.9L133.7 90.2L130.7 89.1L128 90.7ZM128 90.7L130.7 89.1L127.7 88L125 89.6ZM136.7 91.3L139.4 89.7L136.4 88.6L133.7 90.2ZM133.7 90.2L136.4 88.6L133.4 87.5L130.7 89.1ZM142.5 90.9L145.2 89.3L142.1 88.2L139.4 89.7ZM205.8 92.3L208.5 90.9L205.5 89.5L202.8 90.8ZM211.5 92.5L214.2 91.2L211.1 89.7L208.5 90.9Z"/>
<path fill="#383824" stroke="#383824" stroke-width="0.9" d="M122 88.6L124.7 87L121.7 86.1L119 87.6ZM216.8 89.9L219.5 88.8L216.4 87.4L213.8 88.5Z"/>
<path fill="#30301c" stroke="#30301c" stroke-width="0.9" d="M119 87.6L121.7 86.1L118.7 85.1L116 86.6ZM124.7 87L127.4 85.6L124.4 84.6L121.7 86.1ZM130.4 86.5L133.1 85.1L130.1 84.2L127.4 85.6ZM213.8 88.5L216.4 87.4L213.4 86L210.8 87.1ZM228.1 90.6L230.8 89.5L227.7 88L225.1 89.1ZM236.8 92.7L239.4 91.5L236.4 90L233.8 91Z"/>
<path fill="#6c7840" stroke="#6c7840" stroke-width="0.9" d="M227.4 153.6L230.1 151L227.1 148L224.5 150.5ZM230.1 151L232.8 148.5L229.8 145.5L227.1 148Z"/>
<path fill="#785044" stroke="#785044" stroke-width="0.9" d="M182.3 115.3L185 113.2L182 111.2L179.3 113.3ZM188.1 115.2L190.8 113.1L187.7 111.1L185 113.2Z"/>
<path fill="#644438" stroke="#644438" stroke-width="0.9" d="M154.9 99.4L157.6 97.6L154.6 96.1L151.9 97.9ZM160.7 99.1L163.4 97.3L160.3 95.8L157.6 97.6ZM166.4 98.8L169.1 97L166.1 95.5L163.4 97.3ZM172.2 98.5L174.9 96.8L171.8 95.3L169.1 97ZM177.9 98.4L180.6 96.7L177.6 95.1L174.9 96.8Z"/>
<path fill="#604438" stroke="#604438" stroke-width="0.9" d="M151.9 97.9L154.6 96.1L151.5 94.7L148.8 96.5ZM157.6 97.6L160.3 95.8L157.3 94.4L154.6 96.1ZM163.4 97.3L166.1 95.5L163 94.1L160.3 95.8ZM169.1 97L171.8 95.3L168.8 93.9L166.1 95.5ZM174.9 96.8L177.6 95.1L174.5 93.7L171.8 95.3ZM183.7 98.3L186.3 96.6L183.3 95L180.6 96.7ZM180.6 96.7L183.3 95L180.3 93.6L177.6 95.1ZM189.4 98.2L192.1 96.6L189 95L186.3 96.6Z"/>
<path fill="#443c28" stroke="#443c28" stroke-width="0.9" d="M130.7 89.1L133.4 87.5L130.4 86.5L127.7 88Z"/>
<path fill="#7c6048" stroke="#7c6048" stroke-width="0.9" d="M203.2 126.5L205.9 124.2L202.9 121.8L200.2 124.1Z"/>
<path fill="#5c4434" stroke="#5c4434" stroke-width="0.9" d="M151.5 94.7L154.2 93L151.2 91.7L148.5 93.4ZM157.3 94.4L160 92.7L157 91.4L154.2 93ZM189 95L191.7 93.5L188.7 92L186 93.5Z"/>
<path fill="#4c4030" stroke="#4c4030" stroke-width="0.9" d="M139.4 89.7L142.1 88.2L139.1 87.1L136.4 88.6ZM191.4 90.6L194 89.2L191 87.9L188.3 89.2ZM197.1 90.6L199.8 89.3L196.7 88L194 89.2Z"/>
<path fill="#403c28" stroke="#403c28" stroke-width="0.9" d="M136.4 88.6L139.1 87.1L136.1 86.1L133.4 87.5Z"/>
<path fill="#383424" stroke="#383424" stroke-width="0.9" d="M133.4 87.5L136.1 86.1L133.1 85.1L130.4 86.5Z"/>
<path fill="#544034" stroke="#544034" stroke-width="0.9" d="M151.2 91.7L153.9 90.1L150.9 88.9L148.2 90.5ZM157 91.4L159.7 89.9L156.6 88.6L153.9 90.1ZM162.7 91.1L165.4 89.6L162.4 88.4L159.7 89.9ZM171.5 92.3L174.2 90.7L171.1 89.4L168.4 90.9ZM168.4 90.9L171.1 89.4L168.1 88.2L165.4 89.6ZM177.2 92.1L179.9 90.6L176.9 89.3L174.2 90.7ZM183 92L185.6 90.6L182.6 89.2L179.9 90.6ZM188.7 92L191.4 90.6L188.3 89.2L185.6 90.6Z"/>
<path fill="#504030" stroke="#504030" stroke-width="0.9" d="M148.2 90.5L150.9 88.9L147.9 87.8L145.2 89.3ZM153.9 90.1L156.6 88.6L153.6 87.5L150.9 88.9ZM174.2 90.7L176.9 89.3L173.8 88L171.1 89.4ZM179.9 90.6L182.6 89.2L179.6 87.9L176.9 89.3ZM185.6 90.6L188.3 89.2L185.3 87.9L182.6 89.2Z"/>
<path fill="#483c2c" stroke="#483c2c" stroke-width="0.9" d="M145.2 89.3L147.9 87.8L144.9 86.7L142.1 88.2ZM165.4 89.6L168.1 88.2L165.1 87L162.4 88.4Z"/>
<path fill="#403828" stroke="#403828" stroke-width="0.9" d="M142.1 88.2L144.9 86.7L141.8 85.7L139.1 87.1ZM156.6 88.6L159.3 87.2L156.3 86.1L153.6 87.5ZM194 89.2L196.7 88L193.7 86.7L191 87.9ZM199.8 89.3L202.4 88.1L199.4 86.8L196.7 88ZM205.5 89.5L208.1 88.3L205.1 86.9L202.4 88.1Z"/>
<path fill="#383020" stroke="#383020" stroke-width="0.9" d="M139.1 87.1L141.8 85.7L138.8 84.7L136.1 86.1ZM159.3 87.2L162 85.8L159 84.8L156.3 86.1ZM191 87.9L193.7 86.7L190.6 85.4L188 86.6ZM196.7 88L199.4 86.8L196.3 85.5L193.7 86.7Z"/>
<path fill="#302c1c" stroke="#302c1c" stroke-width="0.9" d="M136.1 86.1L138.8 84.7L135.8 83.7L133.1 85.1ZM150.6 86.4L153.3 85L150.3 84L147.6 85.3Z"/>
<path fill="#14180c" stroke="#14180c" stroke-width="0.9" d="M124.2 82.5L126.9 81.2L123.9 80.5L121.2 81.7ZM129.9 82L132.6 80.8L129.6 80.1L126.9 81.2ZM135.6 81.6L138.3 80.5L135.3 79.7L132.6 80.8ZM181.5 82.1L184.2 81.1L181.2 80.2L178.5 81.1ZM213 83.8L215.6 82.9L212.6 81.8L210 82.6ZM230.3 87L232.9 86.1L229.9 84.8L227.3 85.7ZM239 88.9L241.6 88L238.5 86.6L236 87.5ZM253.6 94.4L256.1 93.4L253.1 91.7L250.6 92.7ZM270.9 103L273.5 101.8L270.5 99.7L268 100.9Z"/>
<path fill="#101408" stroke="#101408" stroke-width="0.9" d="M121.2 81.7L123.9 80.5L120.9 79.8L118.2 80.9ZM224.3 84.4L226.9 83.6L223.9 82.4L221.3 83.2ZM247.6 91L250.1 90.1L247.1 88.5L244.6 89.5ZM265 98.9L267.6 97.8L264.6 95.9L262.1 96.9Z"/>
<path fill="#64443c" stroke="#64443c" stroke-width="0.9" d="M175.2 100.2L177.9 98.4L174.9 96.8L172.2 98.5ZM181 100L183.7 98.3L180.6 96.7L177.9 98.4Z"/>
<path fill="#584034" stroke="#584034" stroke-width="0.9" d="M160 92.7L162.7 91.1L159.7 89.9L157 91.4ZM168.8 93.9L171.5 92.3L168.4 90.9L165.7 92.5ZM165.7 92.5L168.4 90.9L165.4 89.6L162.7 91.1ZM174.5 93.7L177.2 92.1L174.2 90.7L171.5 92.3Z"/>
<path fill="#44382c" stroke="#44382c" stroke-width="0.9" d="M150.9 88.9L153.6 87.5L150.6 86.4L147.9 87.8ZM176.9 89.3L179.6 87.9L176.5 86.7L173.8 88Z"/>
<path fill="#3c3424" stroke="#3c3424" stroke-width="0.9" d="M147.9 87.8L150.6 86.4L147.6 85.3L144.9 86.7ZM168.1 88.2L170.8 86.8L167.8 85.7L165.1 87Z"/>
<path fill="#343020" stroke="#343020" stroke-width="0.9" d="M144.9 86.7L147.6 85.3L144.6 84.3L141.8 85.7ZM202.4 88.1L205.1 86.9L202 85.6L199.4 86.8ZM208.1 88.3L210.8 87.1L207.7 85.8L205.1 86.9Z"/>
<path fill="#2c281c" stroke="#2c281c" stroke-width="0.9" d="M141.8 85.7L144.6 84.3L141.5 83.4L138.8 84.7ZM162 85.8L164.7 84.6L161.7 83.5L159 84.8ZM167.8 85.7L170.5 84.4L167.4 83.3L164.7 84.6ZM193.7 86.7L196.3 85.5L193.3 84.3L190.6 85.4ZM199.4 86.8L202 85.6L199 84.4L196.3 85.5Z"/>
<path fill="#4c3c30" stroke="#4c3c30" stroke-width="0.9" d="M159.7 89.9L162.4 88.4L159.3 87.2L156.6 88.6Z"/>
<path fill="#383024" stroke="#383024" stroke-width="0.9" d="M153.6 87.5L156.3 86.1L153.3 85L150.6 86.4ZM179.6 87.9L182.3 86.6L179.2 85.4L176.5 86.7ZM185.3 87.9L188 86.6L184.9 85.4L182.3 86.6Z"/>
<path fill="#202010" stroke="#202010" stroke-width="0.9" d="M141.5 83.4L144.3 82.1L141.3 81.3L138.5 82.5Z"/>
<path fill="#403428" stroke="#403428" stroke-width="0.9" d="M162.4 88.4L165.1 87L162 85.8L159.3 87.2Z"/>
<path fill="#30281c" stroke="#30281c" stroke-width="0.9" d="M156.3 86.1L159 84.8L156 83.7L153.3 85ZM182.3 86.6L184.9 85.4L181.9 84.2L179.2 85.4ZM188 86.6L190.6 85.4L187.6 84.2L184.9 85.4Z"/>
<path fill="#282418" stroke="#282418" stroke-width="0.9" d="M153.3 85L156 83.7L153 82.8L150.3 84ZM159 84.8L161.7 83.5L158.7 82.5L156 83.7ZM173.5 85.5L176.2 84.3L173.2 83.2L170.5 84.4ZM179.2 85.4L181.9 84.2L178.9 83.2L176.2 84.3ZM184.9 85.4L187.6 84.2L184.6 83.1L181.9 84.2ZM190.6 85.4L193.3 84.3L190.3 83.2L187.6 84.2Z"/>
<path fill="#647440" stroke="#647440" stroke-width="0.9" d="M246.4 142.1L249 139.9L246.1 137L243.4 139.2Z"/>
<path fill="#684c40" stroke="#684c40" stroke-width="0.9" d="M201.6 105.4L204.2 103.6L201.2 101.7L198.5 103.5ZM207.3 105.5L209.9 103.8L206.9 101.9L204.2 103.6Z"/>
<path fill="#48382c" stroke="#48382c" stroke-width="0.9" d="M171.1 89.4L173.8 88L170.8 86.8L168.1 88.2Z"/>
<path fill="#342c20" stroke="#342c20" stroke-width="0.9" d="M165.1 87L167.8 85.7L164.7 84.6L162 85.8ZM170.8 86.8L173.5 85.5L170.5 84.4L167.8 85.7Z"/>
<path fill="#18180c" stroke="#18180c" stroke-width="0.9" d="M150 81.9L152.7 80.7L149.7 79.9L147 81ZM175.8 82.1L178.5 81.1L175.5 80.2L172.8 81.2ZM221.7 85.3L224.3 84.4L221.3 83.2L218.6 84.1Z"/>
<path fill="#6c5444" stroke="#6c5444" stroke-width="0.9" d="M216.3 111.7L219 109.8L216 107.7L213.3 109.6Z"/>
<path fill="#3c3024" stroke="#3c3024" stroke-width="0.9" d="M173.8 88L176.5 86.7L173.5 85.5L170.8 86.8Z"/>
<path fill="#242018" stroke="#242018" stroke-width="0.9" d="M164.7 84.6L167.4 83.3L164.4 82.4L161.7 83.5Z"/>
<path fill="#201c14" stroke="#201c14" stroke-width="0.9" d="M161.7 83.5L164.4 82.4L161.4 81.4L158.7 82.5Z"/>
<path fill="#60483c" stroke="#60483c" stroke-width="0.9" d="M203.9 100.1L206.6 98.5L203.5 96.8L200.8 98.3Z"/>
<path fill="#443828" stroke="#443828" stroke-width="0.9" d="M182.6 89.2L185.3 87.9L182.3 86.6L179.6 87.9ZM188.3 89.2L191 87.9L188 86.6L185.3 87.9Z"/>
<path fill="#302c20" stroke="#302c20" stroke-width="0.9" d="M176.5 86.7L179.2 85.4L176.2 84.3L173.5 85.5Z"/>
<path fill="#242014" stroke="#242014" stroke-width="0.9" d="M170.5 84.4L173.2 83.2L170.1 82.2L167.4 83.3Z"/>
<path fill="#000404" stroke="#000404" stroke-width="0.9" d="M125.7 74.3L128.4 73.8L125.5 73.6L122.8 74.1ZM131.3 74.1L134 73.7L131.1 73.4L128.4 73.8ZM128.4 73.8L131.1 73.4L128.2 73.3L125.5 73.6ZM137 73.9L139.7 73.5L136.7 73.3L134 73.7ZM134 73.7L136.7 73.3L133.8 73.1L131.1 73.4ZM131.1 73.4L133.8 73.1L130.9 73L128.2 73.3ZM142.6 73.8L145.3 73.4L142.4 73.2L139.7 73.5ZM139.7 73.5L142.4 73.2L139.4 73L136.7 73.3ZM136.7 73.3L139.4 73L136.5 72.9L133.8 73.1ZM133.8 73.1L136.5 72.9L133.6 72.8L130.9 73ZM148.2 73.6L150.9 73.3L148 73.1L145.3 73.4ZM145.3 73.4L148 73.1L145 72.9L142.4 73.2ZM142.4 73.2L145 72.9L142.1 72.8L139.4 73ZM139.4 73L142.1 72.8L139.2 72.8L136.5 72.9ZM136.5 72.9L139.2 72.8L136.3 72.8L133.6 72.8ZM153.9 73.6L156.6 73.2L153.6 73L150.9 73.3ZM150.9 73.3L153.6 73L150.7 72.9L148 73.1ZM148 73.1L150.7 72.9L147.7 72.8L145 72.9ZM145 72.9L147.7 72.8L144.8 72.7L142.1 72.8ZM142.1 72.8L144.8 72.7L141.9 72.7L139.2 72.8ZM139.2 72.8L141.9 72.7L139 72.8L136.3 72.8ZM159.5 73.5L162.2 73.2L159.2 73L156.6 73.2ZM156.6 73.2L159.2 73L156.3 72.8L153.6 73ZM153.6 73L156.3 72.8L153.3 72.7L150.7 72.9ZM150.7 72.9L153.3 72.7L150.4 72.7L147.7 72.8ZM147.7 72.8L150.4 72.7L147.5 72.7L144.8 72.7ZM165.1 73.5L167.8 73.2L164.8 73L162.2 73.2ZM162.2 73.2L164.8 73L161.9 72.9L159.2 73ZM159.2 73L161.9 72.9L158.9 72.7L156.3 72.8ZM156.3 72.8L158.9 72.7L156 72.7L153.3 72.7ZM153.3 72.7L156 72.7L153 72.7L150.4 72.7ZM173.8 73.8L176.4 73.6L173.4 73.3L170.8 73.5ZM170.8 73.5L173.4 73.3L170.4 73.1L167.8 73.2ZM167.8 73.2L170.4 73.1L167.5 72.9L164.8 73ZM164.8 73L167.5 72.9L164.5 72.8L161.9 72.9ZM161.9 72.9L164.5 72.8L161.6 72.7L158.9 72.7ZM158.9 72.7L161.6 72.7L158.6 72.7L156 72.7ZM179.4 73.9L182 73.7L179 73.4L176.4 73.6ZM176.4 73.6L179 73.4L176 73.1L173.4 73.3ZM173.4 73.3L176 73.1L173.1 73L170.4 73.1ZM170.4 73.1L173.1 73L170.1 72.9L167.5 72.9ZM167.5 72.9L170.1 72.9L167.1 72.8L164.5 72.8ZM185 74L187.6 73.8L184.6 73.5L182 73.7ZM182 73.7L184.6 73.5L181.6 73.2L179 73.4ZM179 73.4L181.6 73.2L178.6 73.1L176 73.1ZM176 73.1L178.6 73.1L175.7 73L173.1 73ZM173.1 73L175.7 73L172.7 72.9L170.1 72.9ZM193.6 74.6L196.2 74.3L193.2 73.9L190.6 74.1ZM190.6 74.1L193.2 73.9L190.2 73.6L187.6 73.8ZM187.6 73.8L190.2 73.6L187.2 73.4L184.6 73.5ZM184.6 73.5L187.2 73.4L184.2 73.2L181.6 73.2ZM181.6 73.2L184.2 73.2L181.2 73.1L178.6 73.1ZM178.6 73.1L181.2 73.1L178.3 73L175.7 73ZM199.2 74.8L201.8 74.5L198.8 74.1L196.2 74.3ZM196.2 74.3L198.8 74.1L195.8 73.8L193.2 73.9ZM193.2 73.9L195.8 73.8L192.8 73.6L190.2 73.6ZM190.2 73.6L192.8 73.6L189.8 73.4L187.2 73.4ZM187.2 73.4L189.8 73.4L186.8 73.2L184.2 73.2ZM184.2 73.2L186.8 73.2L183.8 73.2L181.2 73.1ZM207.8 75.5L210.4 75.2L207.4 74.8L204.8 75ZM204.8 75L207.4 74.8L204.4 74.4L201.8 74.5ZM201.8 74.5L204.4 74.4L201.4 74L198.8 74.1ZM198.8 74.1L201.4 74L198.4 73.8L195.8 73.8ZM195.8 73.8L198.4 73.8L195.4 73.6L192.8 73.6ZM192.8 73.6L195.4 73.6L192.4 73.4L189.8 73.4ZM213.4 75.8L216 75.5L212.9 75.1L210.4 75.2ZM210.4 75.2L212.9 75.1L209.9 74.7L207.4 74.8ZM207.4 74.8L209.9 74.7L206.9 74.3L204.4 74.4ZM204.4 74.4L206.9 74.3L203.9 74L201.4 74ZM201.4 74L203.9 74L200.9 73.8L198.4 73.8ZM198.4 73.8L200.9 73.8L197.9 73.7L195.4 73.6Z"/>
<path fill="#584838" stroke="#584838" stroke-width="0.9" d="M214.9 97.2L217.6 95.7L214.6 94.1L211.9 95.5Z"/>
<path fill="#4c402c" stroke="#4c402c" stroke-width="0.9" d="M202.8 90.8L205.5 89.5L202.4 88.1L199.8 89.3Z"/>
<path fill="#48402c" stroke="#48402c" stroke-width="0.9" d="M208.5 90.9L211.1 89.7L208.1 88.3L205.5 89.5ZM214.2 91.2L216.8 89.9L213.8 88.5L211.1 89.7Z"/>
<path fill="#586c38" stroke="#586c38" stroke-width="0.9" d="M264.5 123.2L267.1 121.4L264.2 118.8L261.6 120.5Z"/>
<path fill="#544c30" stroke="#544c30" stroke-width="0.9" d="M228.9 96.4L231.6 95.1L228.5 93.4L225.9 94.7Z"/>
<path fill="#4c482c" stroke="#4c482c" stroke-width="0.9" d="M222.9 93L225.5 91.8L222.5 90.2L219.9 91.4Z"/>
<path fill="#2c2818" stroke="#2c2818" stroke-width="0.9" d="M210.8 87.1L213.4 86L210.4 84.8L207.7 85.8Z"/>
<path fill="#586038" stroke="#586038" stroke-width="0.9" d="M258.4 113.8L261 112.2L258.1 109.8L255.4 111.4Z"/>
<path fill="#505030" stroke="#505030" stroke-width="0.9" d="M234.6 96.9L237.2 95.6L234.2 93.9L231.6 95.1ZM243.2 99.3L245.8 98L242.8 96.1L240.2 97.4ZM240.2 97.4L242.8 96.1L239.8 94.3L237.2 95.6Z"/>
<path fill="#545430" stroke="#545430" stroke-width="0.9" d="M246.2 101.2L248.8 99.9L245.8 98L243.2 99.3Z"/>
<path fill="#404024" stroke="#404024" stroke-width="0.9" d="M234.2 93.9L236.8 92.7L233.8 91L231.2 92.2Z"/>
<path fill="#506830" stroke="#506830" stroke-width="0.9" d="M275.2 120.7L277.8 119.1L274.9 116.5L272.3 118.1ZM272.3 118.1L274.9 116.5L272 114L269.4 115.5Z"/>
<path fill="#506430" stroke="#506430" stroke-width="0.9" d="M269.4 115.5L272 114L269.1 111.5L266.5 113.1ZM266.5 113.1L269.1 111.5L266.2 109.2L263.6 110.7Z"/>
<path fill="#506030" stroke="#506030" stroke-width="0.9" d="M263.6 110.7L266.2 109.2L263.2 106.9L260.7 108.3ZM266.2 109.2L268.8 107.8L265.8 105.5L263.2 106.9Z"/>
<path fill="#505c30" stroke="#505c30" stroke-width="0.9" d="M260.7 108.3L263.2 106.9L260.3 104.7L257.7 106.1Z"/>
<path fill="#505830" stroke="#505830" stroke-width="0.9" d="M257.7 106.1L260.3 104.7L257.3 102.6L254.7 103.9Z"/>
<path fill="#505430" stroke="#505430" stroke-width="0.9" d="M254.7 103.9L257.3 102.6L254.4 100.5L251.8 101.9ZM251.8 101.9L254.4 100.5L251.4 98.6L248.8 99.9Z"/>
<path fill="#4c5030" stroke="#4c5030" stroke-width="0.9" d="M248.8 99.9L251.4 98.6L248.4 96.7L245.8 98Z"/>
<path fill="#444828" stroke="#444828" stroke-width="0.9" d="M245.8 98L248.4 96.7L245.4 94.9L242.8 96.1Z"/>
<path fill="#4c6830" stroke="#4c6830" stroke-width="0.9" d="M280.7 121.8L283.2 120.2L280.4 117.6L277.8 119.1Z"/>
<path fill="#4c6430" stroke="#4c6430" stroke-width="0.9" d="M277.8 119.1L280.4 117.6L277.5 115L274.9 116.5ZM274.9 116.5L277.5 115L274.6 112.5L272 114ZM272 114L274.6 112.5L271.7 110.1L269.1 111.5ZM277.5 115L280 113.5L277.1 111.1L274.6 112.5Z"/>
<path fill="#4c6030" stroke="#4c6030" stroke-width="0.9" d="M269.1 111.5L271.7 110.1L268.8 107.8L266.2 109.2ZM274.6 112.5L277.1 111.1L274.2 108.7L271.7 110.1ZM271.7 110.1L274.2 108.7L271.3 106.4L268.8 107.8Z"/>
<path fill="#4c5c30" stroke="#4c5c30" stroke-width="0.9" d="M263.2 106.9L265.8 105.5L262.9 103.4L260.3 104.7Z"/>
<path fill="#4c5830" stroke="#4c5830" stroke-width="0.9" d="M260.3 104.7L262.9 103.4L259.9 101.3L257.3 102.6Z"/>
<path fill="#444c2c" stroke="#444c2c" stroke-width="0.9" d="M257.3 102.6L259.9 101.3L256.9 99.3L254.4 100.5Z"/>
<path fill="#3c4424" stroke="#3c4424" stroke-width="0.9" d="M254.4 100.5L256.9 99.3L254 97.4L251.4 98.6Z"/>
<path fill="#383c20" stroke="#383c20" stroke-width="0.9" d="M251.4 98.6L254 97.4L251 95.5L248.4 96.7Z"/>
<path fill="#303420" stroke="#303420" stroke-width="0.9" d="M248.4 96.7L251 95.5L248 93.8L245.4 94.9Z"/>
<path fill="#446830" stroke="#446830" stroke-width="0.9" d="M283.2 120.2L285.8 118.7L282.9 116.1L280.4 117.6Z"/>
<path fill="#486430" stroke="#486430" stroke-width="0.9" d="M280.4 117.6L282.9 116.1L280 113.5L277.5 115Z"/>
<path fill="#445428" stroke="#445428" stroke-width="0.9" d="M268.8 107.8L271.3 106.4L268.4 104.2L265.8 105.5Z"/>
<path fill="#3c4c24" stroke="#3c4c24" stroke-width="0.9" d="M265.8 105.5L268.4 104.2L265.4 102.1L262.9 103.4Z"/>
<path fill="#384420" stroke="#384420" stroke-width="0.9" d="M262.9 103.4L265.4 102.1L262.5 100L259.9 101.3Z"/>
<path fill="#303c20" stroke="#303c20" stroke-width="0.9" d="M259.9 101.3L262.5 100L259.5 98.1L256.9 99.3Z"/>
<path fill="#2c341c" stroke="#2c341c" stroke-width="0.9" d="M256.9 99.3L259.5 98.1L256.5 96.2L254 97.4Z"/>
<path fill="#242814" stroke="#242814" stroke-width="0.9" d="M251 95.5L253.6 94.4L250.6 92.7L248 93.8Z"/>
<path fill="#406830" stroke="#406830" stroke-width="0.9" d="M285.8 118.7L288.3 117.2L285.5 114.6L282.9 116.1Z"/>
<path fill="#446430" stroke="#446430" stroke-width="0.9" d="M282.9 116.1L285.5 114.6L282.6 112.1L280 113.5Z"/>
<path fill="#405428" stroke="#405428" stroke-width="0.9" d="M280 113.5L282.6 112.1L279.7 109.7L277.1 111.1Z"/>
<path fill="#384c24" stroke="#384c24" stroke-width="0.9" d="M277.1 111.1L279.7 109.7L276.8 107.4L274.2 108.7Z"/>
<path fill="#283418" stroke="#283418" stroke-width="0.9" d="M271.3 106.4L273.9 105.1L270.9 103L268.4 104.2Z"/>
<path fill="#1c2410" stroke="#1c2410" stroke-width="0.9" d="M262.5 100L265 98.9L262.1 96.9L259.5 98.1Z"/>
<path fill="#182010" stroke="#182010" stroke-width="0.9" d="M259.5 98.1L262.1 96.9L259.1 95.1L256.5 96.2Z"/>
<path fill="#181c0c" stroke="#181c0c" stroke-width="0.9" d="M256.5 96.2L259.1 95.1L256.1 93.4L253.6 94.4Z"/>
<path fill="#24381c" stroke="#24381c" stroke-width="0.9" d="M288.3 117.2L290.9 115.8L288 113.3L285.5 114.6Z"/>
<path fill="#203018" stroke="#203018" stroke-width="0.9" d="M285.5 114.6L288 113.3L285.1 110.8L282.6 112.1Z"/>
<path fill="#1c2814" stroke="#1c2814" stroke-width="0.9" d="M282.6 112.1L285.1 110.8L282.2 108.4L279.7 109.7Z"/>
<path fill="#182410" stroke="#182410" stroke-width="0.9" d="M279.7 109.7L282.2 108.4L279.3 106.1L276.8 107.4Z"/>
<path fill="#141c0c" stroke="#141c0c" stroke-width="0.9" d="M273.9 105.1L276.4 103.9L273.5 101.8L270.9 103Z"/>
<path fill="#080c08" stroke="#080c08" stroke-width="0.9" d="M290.9 115.8L293.4 114.5L290.5 111.9L288 113.3Z"/>
<g font-family="Liberation Sans, sans-serif" font-size="8" fill="#111" stroke="#111" stroke-width="0.15"><text x="48.5" y="179.7" text-anchor="end">260</text><text x="46" y="160.8" text-anchor="end">270</text><text x="43.5" y="141.8" text-anchor="end">280</text><text x="41.1" y="122.8" text-anchor="end">290</text><text x="38.6" y="103.9" text-anchor="end">300</text><text x="36.1" y="84.9" text-anchor="end">310</text><text x="173.6" y="303.2" text-anchor="end">10</text><text x="156.3" y="290.7" text-anchor="end">20</text><text x="139" y="278.3" text-anchor="end">30</text><text x="121.6" y="265.9" text-anchor="end">40</text><text x="104.3" y="253.4" text-anchor="end">50</text><text x="86.9" y="241" text-anchor="end">60</text><text x="69.6" y="228.6" text-anchor="end">70</text><text x="52.3" y="216.1" text-anchor="end">80</text><text x="182" y="303.8">0.25</text><text x="199.5" y="287.5">1.25</text><text x="217" y="271.2">2.25</text><text x="234.4" y="254.9">3.25</text><text x="251.9" y="238.6">4.25</text><text x="269.3" y="222.2">5.25</text><text x="286.8" y="205.9">6.25</text></g>
<line x1="430" y1="175.3" x2="547.5" y2="95.4" stroke="#444" stroke-width="0.75"/>
<line x1="547.5" y1="95.4" x2="665.4" y2="174.9" stroke="#444" stroke-width="0.75"/>
<line x1="427.8" y1="160.3" x2="547.5" y2="80.1" stroke="#444" stroke-width="0.75"/>
<line x1="547.5" y1="80.1" x2="667.6" y2="159.8" stroke="#444" stroke-width="0.75"/>
<line x1="425.6" y1="145.3" x2="547.5" y2="64.7" stroke="#444" stroke-width="0.75"/>
<line x1="547.5" y1="64.7" x2="669.8" y2="144.7" stroke="#444" stroke-width="0.75"/>
<line x1="423.4" y1="130.2" x2="547.5" y2="49.4" stroke="#444" stroke-width="0.75"/>
<line x1="547.5" y1="49.4" x2="671.9" y2="129.6" stroke="#444" stroke-width="0.75"/>
<line x1="421.2" y1="115.2" x2="547.5" y2="34" stroke="#444" stroke-width="0.75"/>
<line x1="547.5" y1="34" x2="674.1" y2="114.6" stroke="#444" stroke-width="0.75"/>
<line x1="419" y1="100.1" x2="547.5" y2="18.7" stroke="#444" stroke-width="0.75"/>
<line x1="547.5" y1="18.7" x2="676.3" y2="99.5" stroke="#444" stroke-width="0.75"/>
<line x1="416.8" y1="85.1" x2="547.5" y2="3.3" stroke="#444" stroke-width="0.75"/>
<line x1="547.5" y1="3.3" x2="678.5" y2="84.4" stroke="#444" stroke-width="0.75"/>
<line x1="433.9" y1="202" x2="547.5" y2="122.6" stroke="#333" stroke-width="0.8"/>
<line x1="547.5" y1="122.6" x2="661.5" y2="201.6" stroke="#333" stroke-width="0.8"/>
<line x1="433.9" y1="202" x2="416.8" y2="85.1" stroke="#666" stroke-width="0.7" stroke-dasharray="5,1.6"/>
<line x1="444.7" y1="165.4" x2="433.1" y2="74.9" stroke="#666" stroke-width="0.7" stroke-dasharray="5,1.6"/>
<line x1="459.4" y1="155.4" x2="449.5" y2="64.7" stroke="#666" stroke-width="0.7" stroke-dasharray="5,1.6"/>
<line x1="474" y1="145.4" x2="465.8" y2="54.4" stroke="#666" stroke-width="0.7" stroke-dasharray="5,1.6"/>
<line x1="488.7" y1="135.4" x2="482.1" y2="44.2" stroke="#666" stroke-width="0.7" stroke-dasharray="5,1.6"/>
<line x1="503.4" y1="125.4" x2="498.5" y2="34" stroke="#666" stroke-width="0.7" stroke-dasharray="5,1.6"/>
<line x1="518.1" y1="115.4" x2="514.8" y2="23.8" stroke="#666" stroke-width="0.7" stroke-dasharray="5,1.6"/>
<line x1="532.8" y1="105.4" x2="531.2" y2="13.5" stroke="#666" stroke-width="0.7" stroke-dasharray="5,1.6"/>
<line x1="547.5" y1="122.6" x2="547.5" y2="3.3" stroke="#666" stroke-width="0.7" stroke-dasharray="5,1.6"/>
<line x1="661.5" y1="201.6" x2="678.5" y2="84.4" stroke="#666" stroke-width="0.7" stroke-dasharray="5,1.6"/>
<line x1="645.7" y1="161.6" x2="656.7" y2="70.9" stroke="#666" stroke-width="0.7" stroke-dasharray="5,1.6"/>
<line x1="626.1" y1="148.4" x2="634.8" y2="57.4" stroke="#666" stroke-width="0.7" stroke-dasharray="5,1.6"/>
<line x1="606.4" y1="135.1" x2="613" y2="43.9" stroke="#666" stroke-width="0.7" stroke-dasharray="5,1.6"/>
<line x1="586.8" y1="121.9" x2="591.2" y2="30.3" stroke="#666" stroke-width="0.7" stroke-dasharray="5,1.6"/>
<line x1="567.1" y1="108.7" x2="569.3" y2="16.8" stroke="#666" stroke-width="0.7" stroke-dasharray="5,1.6"/>
<polygon points="547.6,297.7 661.5,201.6 547.5,122.6 433.9,202" fill="#ffff00"/>
<line x1="547.6" y1="297.7" x2="661.5" y2="201.6" stroke="#222" stroke-width="0.9"/>
<line x1="547.6" y1="297.7" x2="433.9" y2="202" stroke="#222" stroke-width="0.9"/>
<path d="M609.5 192.1L610.7 192.9L611.8 193.7L612.9 194.6L613.6 195.2L614.7 196.1L615.6 197L616.3 197.6L617.2 198.6L617.8 199.3L618.6 200.4L619.2 201.1L619.7 201.9L620.2 202.7L620.7 203.7L621.1 204.5L621.4 205.4L621.7 206.2L622 207L622.2 208L622.4 209L622.5 209.6L622.5 210.6L622.6 211.5L622.5 212.4L622.5 213.2L622.3 214.2L622.1 215.1L622 215.8L621.7 216.7L621.4 217.7L621 218.6L620.6 219.5L620.1 220.3L619.4 221.5L618.9 222.4L618.3 223.2L617.4 224.3L616.8 225L615.8 226.1L614.8 227.1L614.1 227.8L613 228.8L611.8 229.7L610.9 230.4L609.8 231.2L608.5 232.1L607.2 232.9L606.4 233.4L605 234.2L604.1 234.7L602.7 235.5L601.7 235.9L600.7 236.4L599.3 237.1L598.2 237.5L597.2 237.9L596.1 238.3L595 238.8L593.7 239.2L592.5 239.7L591.3 240.1L590.1 240.4L589 240.7L587.9 241.1L586.8 241.4L585.7 241.6L584.7 241.9L583.6 242.1L582.5 242.4L581.3 242.6L580 242.9L578.8 243.1L577.8 243.3L576.8 243.4L575.5 243.6L574.2 243.8L573.3 243.9L572.2 244.1L570.8 244.2L569.9 244.3L568.7 244.4L567.4 244.5L566.6 244.5L565.2 244.6L564.2 244.7L563 244.7L561.9 244.7L560.7 244.8L559.6 244.8L558.4 244.8L557.4 244.8L556.1 244.7L555.2 244.7L553.7 244.6L552.8 244.6L551.6 244.5L550.3 244.4L549.5 244.4L548.2 244.2L546.9 244.1L546 244L544.9 243.9L543.6 243.7L542.4 243.5L541.5 243.4L540.3 243.2L539.1 243L537.8 242.8L536.6 242.6L535.6 242.4L534.6 242.1L533.6 241.9L532.4 241.6L531.2 241.4L530.1 241.1L528.9 240.8L527.8 240.4L526.7 240.1L525.6 239.8L524.5 239.4L523.3 239.1L522 238.6L520.7 238.1L519.6 237.8L518.6 237.4L517.6 236.9L516.4 236.4L515.1 235.9L514.1 235.4L513.1 235L511.7 234.3L510.7 233.8L509.3 233.1L508.4 232.6L507.1 231.8L506.2 231.3L504.9 230.5L504 230L502.7 229.1L501.5 228.3L500.3 227.4L499.1 226.5L498 225.6L496.9 224.6L495.8 223.6L494.8 222.6L494 221.8L493.1 220.9L492.2 219.8L491.6 219.1L490.9 218.1L490.2 217.1L489.7 216.3L489.2 215.5L488.6 214.4L488.1 213.4L487.7 212.5L487.3 211.6L487 210.8L486.8 210L486.6 209.2L486.4 208.2L486.2 207.2L486.1 206.6L486.1 205.5L486.1 204.8L486.1 203.7L486.2 203.1L486.4 202.1L486.6 201.1L486.8 200.3L487 199.6L487.4 198.7L487.7 197.9L488.2 196.9L488.8 196L489.3 195.2L489.9 194.5L490.7 193.4L491.4 192.8L492.3 191.8L493.1 191.1L494 190.3L495.2 189.5L496.3 188.6L497.5 187.9L498.3 187.4L499.6 186.7L500.9 186L501.8 185.5L503.2 184.9L504.1 184.5L505.2 184L506.6 183.5L507.6 183.2L508.6 182.8L509.8 182.4L511.2 182L512.2 181.7L513.3 181.4L514.4 181.1L515.5 180.8L516.7 180.5L517.8 180.3L519 180L520.2 179.8L521.3 179.6L522.6 179.3L523.6 179.2L524.6 179L525.6 178.9L526.9 178.7L528.2 178.5L529.3 178.4L530.2 178.3L531.4 178.1L532.8 178L533.7 177.9L534.8 177.9L536.2 177.8L537.1 177.7L538.3 177.6L539.5 177.6L540.4 177.5L541.9 177.5L542.7 177.5L544.1 177.4L545.1 177.4L546.3 177.4L547.3 177.4L548.6 177.4L549.6 177.5L551 177.5L551.8 177.5L553.2 177.6L554.2 177.6L555.3 177.7L556.7 177.8L557.5 177.8L558.8 177.9L560.1 178L561 178.1L562.1 178.2L563.5 178.3L564.5 178.4L565.4 178.5L566.7 178.7L568 178.8L569.2 179L570.1 179.1L571.1 179.3L572.4 179.5L573.6 179.7L574.8 179.9L576 180.1L577.2 180.3L578.3 180.6L579.4 180.8L580.5 181L581.7 181.3L582.8 181.5L584 181.8L585.1 182.1L586.2 182.4L587.3 182.7L588.4 183L589.5 183.3L590.5 183.6L591.8 184.1L593.1 184.5L594.1 184.8L595.1 185.2L596.5 185.7L597.6 186.1L598.5 186.5L599.9 187.1L600.9 187.5L602.2 188.1L603.1 188.6L604.5 189.2L605.3 189.7L606.6 190.4L607.9 191.1L609.1 191.9" fill="none" stroke="#d8d200" stroke-width="0.55"/>
<path d="M590 261.9L589 262.1L587.7 262.4L586.4 262.6L585.3 262.8L584.4 263L583.2 263.2L581.9 263.4L580.8 263.5L579.9 263.6L578.5 263.8L577.3 264L576.4 264.1L575.1 264.2L573.9 264.3L573 264.4L571.7 264.5L570.6 264.6L569.5 264.7L568.1 264.8L567.3 264.8L565.9 264.9L564.9 265L563.7 265L562.6 265L561.5 265.1L560.3 265.1L559.3 265.1L558 265.1L557 265.1L555.8 265.1L554.6 265.1L553.5 265.1L552.3 265L551.4 265L549.9 265L549.1 264.9L547.8 264.8L546.6 264.8L545.7 264.7L544.3 264.6L543.3 264.5L542.2 264.4L540.8 264.3L539.9 264.2L538.8 264.1L537.5 263.9L536.4 263.8L535.5 263.7L534.2 263.5L532.9 263.3L531.8 263.2L530.9 263L529.7 262.8L528.4 262.6L527.2 262.4L526.2 262.2L525.2 262L524 261.8L522.8 261.5L521.6 261.3L520.4 261L519.2 260.8L518.2 260.5L517.1 260.3L516.1 260L515 259.7L513.8 259.4L512.7 259.1L511.5 258.8L510.4 258.4L509.3 258.1L508.1 257.8L507 257.4L505.9 257.1L504.7 256.7L503.5 256.2L502.2 255.8L501 255.4L499.9 255L498.9 254.6L497.8 254.2L496.8 253.8L495.5 253.3L494.2 252.7" fill="none" stroke="#90e010" stroke-width="0.7"/>
<path d="M567.7 280.7L566.9 280.8L565.6 280.9L564.5 280.9L563.4 281L562.2 281L561.2 281L559.8 281.1L558.9 281.1L557.5 281.1L556.7 281.1L555.3 281.1L554.4 281.1L553 281.1L552.1 281.1L550.8 281.1L549.7 281.1L548.6 281L547.4 281L546.4 281L545 280.9L544.2 280.9L542.8 280.8L541.7 280.7L540.7 280.7L539.3 280.6L538.4 280.5L537.2 280.4L535.9 280.3L535 280.2L533.8 280.1L532.5 279.9L531.6 279.8L530.4 279.7L529.1 279.5L528.1 279.4L527.1 279.3L525.8 279.1" fill="none" stroke="#90e010" stroke-width="0.7"/>
<path d="M551.6 294.3L550.4 294.3L549.4 294.3L548.1 294.3L547.1 294.3L545.8 294.3L544.9 294.2L543.5 294.2" fill="none" stroke="#90e010" stroke-width="0.7"/>
<rect x="546.6" y="296.7" width="2" height="2" fill="#000"/>
<rect x="560.8" y="284.7" width="2" height="2" fill="#000"/>
<rect x="575.1" y="272.7" width="2" height="2" fill="#000"/>
<rect x="589.3" y="260.7" width="2" height="2" fill="#000"/>
<rect x="603.6" y="248.6" width="2" height="2" fill="#000"/>
<rect x="617.8" y="236.6" width="2" height="2" fill="#000"/>
<rect x="632" y="224.6" width="2" height="2" fill="#000"/>
<rect x="646.3" y="212.6" width="2" height="2" fill="#000"/>
<rect x="660.5" y="200.6" width="2" height="2" fill="#000"/>
<rect x="546.6" y="296.7" width="2" height="2" fill="#000"/>
<rect x="527.6" y="280.8" width="2" height="2" fill="#000"/>
<rect x="508.7" y="264.8" width="2" height="2" fill="#000"/>
<rect x="489.7" y="248.8" width="2" height="2" fill="#000"/>
<rect x="470.8" y="232.9" width="2" height="2" fill="#000"/>
<rect x="451.8" y="216.9" width="2" height="2" fill="#000"/>
<rect x="432.9" y="201" width="2" height="2" fill="#000"/>
<rect x="429" y="174.3" width="2" height="2" fill="#000"/>
<rect x="426.8" y="159.3" width="2" height="2" fill="#000"/>
<rect x="424.6" y="144.3" width="2" height="2" fill="#000"/>
<rect x="422.4" y="129.2" width="2" height="2" fill="#000"/>
<rect x="420.2" y="114.2" width="2" height="2" fill="#000"/>
<rect x="418" y="99.1" width="2" height="2" fill="#000"/>
<rect x="415.8" y="84.1" width="2" height="2" fill="#000"/>
<path fill="#308c90" stroke="#308c90" stroke-width="0.9" d="M547.6 246.2L550.3 241.3L547.6 236.6L544.8 241.4Z"/>
<path fill="#308c88" stroke="#308c88" stroke-width="0.9" d="M544.8 241.4L547.6 236.6L544.8 231.9L542 236.8Z"/>
<path fill="#308c7c" stroke="#308c7c" stroke-width="0.9" d="M542 236.8L544.8 231.9L542 227.4L539.2 232.2ZM547.6 236.6L550.4 231.8L547.6 227.2L544.8 231.9ZM553.1 236.5L555.9 231.7L553.2 227.1L550.4 231.8Z"/>
<path fill="#2c8c74" stroke="#2c8c74" stroke-width="0.9" d="M539.2 232.2L542 227.4L539.2 222.9L536.4 227.7Z"/>
<path fill="#2c8c68" stroke="#2c8c68" stroke-width="0.9" d="M536.4 227.7L539.2 222.9L536.3 218.6L533.6 223.3ZM542 227.4L544.8 222.7L542 218.3L539.2 222.9Z"/>
<path fill="#308c60" stroke="#308c60" stroke-width="0.9" d="M533.6 223.3L536.3 218.6L533.5 214.3L530.7 219ZM539.2 222.9L542 218.3L539.1 213.9L536.3 218.6ZM544.8 222.7L547.6 218L544.8 213.6L542 218.3ZM550.4 222.5L553.2 217.9L550.4 213.4L547.6 218ZM556 222.4L558.8 217.8L556 213.3L553.2 217.9ZM561.6 222.4L564.4 217.9L561.7 213.3L558.8 217.8Z"/>
<path fill="#308c5c" stroke="#308c5c" stroke-width="0.9" d="M530.7 219L533.5 214.3L530.6 210.2L527.9 214.8Z"/>
<path fill="#348c54" stroke="#348c54" stroke-width="0.9" d="M527.9 214.8L530.6 210.2L527.8 206.1L525 210.7Z"/>
<path fill="#348c4c" stroke="#348c4c" stroke-width="0.9" d="M525 210.7L527.8 206.1L524.9 202.1L522.1 206.7ZM550.4 213.4L553.2 208.9L550.4 204.6L547.6 209.1ZM556 213.3L558.9 208.9L556.1 204.5L553.2 208.9ZM561.7 213.3L564.5 208.9L561.7 204.5L558.9 208.9ZM567.3 213.4L570.2 209L567.4 204.6L564.5 208.9Z"/>
<path fill="#348c44" stroke="#348c44" stroke-width="0.9" d="M522.1 206.7L524.9 202.1L522 198.2L519.2 202.8ZM527.8 206.1L530.6 201.5L527.7 197.6L524.9 202.1ZM547.6 209.1L550.4 204.6L547.6 200.4L544.7 204.9ZM553.2 208.9L556.1 204.5L553.3 200.2L550.4 204.6ZM558.9 208.9L561.7 204.5L558.9 200.2L556.1 204.5ZM564.5 208.9L567.4 204.6L564.6 200.2L561.7 204.5ZM570.2 209L573.1 204.7L570.3 200.3L567.4 204.6Z"/>
<path fill="#388c40" stroke="#388c40" stroke-width="0.9" d="M519.2 202.8L522 198.2L519.1 194.4L516.4 198.9ZM533.4 205.6L536.2 201.1L533.3 197.1L530.6 201.5ZM539.1 205.2L541.9 200.7L539 196.6L536.2 201.1ZM544.7 204.9L547.6 200.4L544.7 196.3L541.9 200.7ZM573.1 204.7L576 200.5L573.2 196.1L570.3 200.3Z"/>
<path fill="#388c3c" stroke="#388c3c" stroke-width="0.9" d="M516.4 198.9L519.1 194.4L516.2 190.7L513.5 195.2ZM524.9 202.1L527.7 197.6L524.8 193.7L522 198.2ZM530.6 201.5L533.3 197.1L530.5 193.2L527.7 197.6ZM550.4 204.6L553.3 200.2L550.4 196.1L547.6 200.4ZM556.1 204.5L558.9 200.2L556.1 195.9L553.3 200.2ZM561.7 204.5L564.6 200.2L561.8 195.9L558.9 200.2ZM567.4 204.6L570.3 200.3L567.5 195.9L564.6 200.2Z"/>
<path fill="#408c3c" stroke="#408c3c" stroke-width="0.9" d="M513.5 195.2L516.2 190.7L513.3 187.1L510.6 191.5ZM519.1 194.4L521.9 190L519 186.3L516.2 190.7ZM527.7 197.6L530.5 193.2L527.6 189.4L524.8 193.7ZM533.3 197.1L536.2 192.7L533.3 188.8L530.5 193.2ZM539 196.6L541.9 192.3L539 188.4L536.2 192.7ZM578.9 196.4L581.8 192.3L579 188L576.1 192Z"/>
<path fill="#448c3c" stroke="#448c3c" stroke-width="0.9" d="M510.6 191.5L513.3 187.1L510.4 183.6L507.6 187.9ZM516.2 190.7L519 186.3L516.1 182.7L513.3 187.1ZM524.8 193.7L527.6 189.4L524.7 185.6L521.9 190ZM530.5 193.2L533.3 188.8L530.4 185L527.6 189.4ZM544.7 196.3L547.6 192L544.7 188L541.9 192.3ZM550.4 196.1L553.3 191.8L550.4 187.7L547.6 192ZM556.1 195.9L559 191.7L556.2 187.6L553.3 191.8ZM561.8 195.9L564.7 191.7L561.9 187.5L559 191.7ZM567.5 195.9L570.4 191.8L567.6 187.6L564.7 191.7ZM573.2 196.1L576.1 192L573.3 187.7L570.4 191.8Z"/>
<path fill="#488c3c" stroke="#488c3c" stroke-width="0.9" d="M507.6 187.9L510.4 183.6L507.5 180.1L504.7 184.5ZM521.9 190L524.7 185.6L521.8 182L519 186.3ZM536.2 192.7L539 188.4L536.1 184.5L533.3 188.8ZM541.9 192.3L544.7 188L541.8 184.1L539 188.4ZM576.1 192L579 188L576.3 183.7L573.3 187.7ZM581.8 192.3L584.7 188.3L582 184L579 188Z"/>
<path fill="#4c8c3c" stroke="#4c8c3c" stroke-width="0.9" d="M504.7 184.5L507.5 180.1L504.6 176.8L501.8 181.1ZM513.3 187.1L516.1 182.7L513.2 179.2L510.4 183.6ZM519 186.3L521.8 182L518.9 178.5L516.1 182.7ZM527.6 189.4L530.4 185L527.5 181.3L524.7 185.6ZM533.3 188.8L536.1 184.5L533.2 180.8L530.4 185ZM547.6 192L550.4 187.7L547.6 183.8L544.7 188ZM553.3 191.8L556.2 187.6L553.3 183.6L550.4 187.7ZM559 191.7L561.9 187.5L559.1 183.5L556.2 187.6ZM564.7 191.7L567.6 187.6L564.8 183.4L561.9 187.5ZM570.4 191.8L573.3 187.7L570.5 183.5L567.6 187.6ZM584.7 188.3L587.7 184.5L584.9 180.2L582 184Z"/>
<path fill="#50883c" stroke="#50883c" stroke-width="0.9" d="M501.8 181.1L504.6 176.8L501.6 173.5L498.9 177.8ZM498.9 177.8L501.6 173.5L498.7 170.3L496 174.5Z"/>
<path fill="#54883c" stroke="#54883c" stroke-width="0.9" d="M496 174.5L498.7 170.3L495.8 167.2L493 171.4ZM504.6 176.8L507.3 172.5L504.4 169.3L501.6 173.5Z"/>
<path fill="#58883c" stroke="#58883c" stroke-width="0.9" d="M493 171.4L495.8 167.2L492.9 164.2L490.1 168.3ZM501.6 173.5L504.4 169.3L501.5 166.1L498.7 170.3Z"/>
<path fill="#588838" stroke="#588838" stroke-width="0.9" d="M490.1 168.3L492.9 164.2L489.9 161.3L487.2 165.4Z"/>
<path fill="#5c8838" stroke="#5c8838" stroke-width="0.9" d="M487.2 165.4L489.9 161.3L487 158.4L484.3 162.5Z"/>
<path fill="#60883c" stroke="#60883c" stroke-width="0.9" d="M484.3 162.5L487 158.4L484.1 155.7L481.3 159.7ZM495.8 167.2L498.5 163.1L495.6 160.1L492.9 164.2Z"/>
<path fill="#60843c" stroke="#60843c" stroke-width="0.9" d="M481.3 159.7L484.1 155.7L481.2 153L478.4 157Z"/>
<path fill="#64843c" stroke="#64843c" stroke-width="0.9" d="M478.4 157L481.2 153L478.2 150.4L475.5 154.3ZM475.5 154.3L478.2 150.4L475.3 147.9L472.6 151.8Z"/>
<path fill="#68843c" stroke="#68843c" stroke-width="0.9" d="M472.6 151.8L475.3 147.9L472.4 145.4L469.7 149.3Z"/>
<path fill="#68803c" stroke="#68803c" stroke-width="0.9" d="M469.7 149.3L472.4 145.4L469.5 143.1L466.8 146.9ZM466.8 146.9L469.5 143.1L466.6 140.8L463.9 144.6ZM463.9 144.6L466.6 140.8L463.7 138.6L461 142.3Z"/>
<path fill="#647c3c" stroke="#647c3c" stroke-width="0.9" d="M461 142.3L463.7 138.6L460.8 136.5L458.1 140.1Z"/>
<path fill="#647c38" stroke="#647c38" stroke-width="0.9" d="M458.1 140.1L460.8 136.5L458 134.4L455.3 138.1Z"/>
<path fill="#607838" stroke="#607838" stroke-width="0.9" d="M455.3 138.1L458 134.4L455.1 132.5L452.4 136Z"/>
<path fill="#5c7838" stroke="#5c7838" stroke-width="0.9" d="M452.4 136L455.1 132.5L452.2 130.6L449.5 134.1Z"/>
<path fill="#587434" stroke="#587434" stroke-width="0.9" d="M449.5 134.1L452.2 130.6L449.4 128.8L446.7 132.2ZM446.7 132.2L449.4 128.8L446.6 127L443.9 130.5Z"/>
<path fill="#507434" stroke="#507434" stroke-width="0.9" d="M443.9 130.5L446.6 127L443.7 125.4L441 128.7Z"/>
<path fill="#4c7030" stroke="#4c7030" stroke-width="0.9" d="M441 128.7L443.7 125.4L440.9 123.8L438.2 127.1Z"/>
<path fill="#486c30" stroke="#486c30" stroke-width="0.9" d="M438.2 127.1L440.9 123.8L438.1 122.3L435.4 125.5Z"/>
<path fill="#446c2c" stroke="#446c2c" stroke-width="0.9" d="M435.4 125.5L438.1 122.3L435.4 120.8L432.7 124Z"/>
<path fill="#44682c" stroke="#44682c" stroke-width="0.9" d="M432.7 124L435.4 120.8L432.6 119.4L429.9 122.6ZM435.4 120.8L438.1 117.7L435.3 116.3L432.6 119.4Z"/>
<path fill="#40682c" stroke="#40682c" stroke-width="0.9" d="M429.9 122.6L432.6 119.4L429.8 118.1L427.2 121.3Z"/>
<path fill="#3c642c" stroke="#3c642c" stroke-width="0.9" d="M427.2 121.3L429.8 118.1L427.1 116.9L424.4 120ZM429.8 118.1L432.6 115.1L429.8 113.9L427.1 116.9Z"/>
<path fill="#1c3014" stroke="#1c3014" stroke-width="0.9" d="M424.4 120L427.1 116.9L424.4 115.7L421.7 118.8Z"/>
<path fill="#308c84" stroke="#308c84" stroke-width="0.9" d="M550.3 241.3L553.1 236.5L550.4 231.8L547.6 236.6Z"/>
<path fill="#2c8c70" stroke="#2c8c70" stroke-width="0.9" d="M544.8 231.9L547.6 227.2L544.8 222.7L542 227.4ZM550.4 231.8L553.2 227.1L550.4 222.5L547.6 227.2ZM555.9 231.7L558.8 227L556 222.4L553.2 227.1Z"/>
<path fill="#308c58" stroke="#308c58" stroke-width="0.9" d="M536.3 218.6L539.1 213.9L536.3 209.7L533.5 214.3ZM542 218.3L544.8 213.6L541.9 209.4L539.1 213.9ZM547.6 218L550.4 213.4L547.6 209.1L544.8 213.6Z"/>
<path fill="#348c50" stroke="#348c50" stroke-width="0.9" d="M533.5 214.3L536.3 209.7L533.4 205.6L530.6 210.2ZM539.1 213.9L541.9 209.4L539.1 205.2L536.3 209.7ZM544.8 213.6L547.6 209.1L544.7 204.9L541.9 209.4Z"/>
<path fill="#348c48" stroke="#348c48" stroke-width="0.9" d="M530.6 210.2L533.4 205.6L530.6 201.5L527.8 206.1ZM536.3 209.7L539.1 205.2L536.2 201.1L533.4 205.6ZM541.9 209.4L544.7 204.9L541.9 200.7L539.1 205.2Z"/>
<path fill="#3c8c3c" stroke="#3c8c3c" stroke-width="0.9" d="M522 198.2L524.8 193.7L521.9 190L519.1 194.4ZM536.2 201.1L539 196.6L536.2 192.7L533.3 197.1ZM541.9 200.7L544.7 196.3L541.9 192.3L539 196.6ZM547.6 200.4L550.4 196.1L547.6 192L544.7 196.3ZM553.3 200.2L556.1 195.9L553.3 191.8L550.4 196.1ZM558.9 200.2L561.8 195.9L559 191.7L556.1 195.9ZM564.6 200.2L567.5 195.9L564.7 191.7L561.8 195.9ZM570.3 200.3L573.2 196.1L570.4 191.8L567.5 195.9ZM576 200.5L578.9 196.4L576.1 192L573.2 196.1Z"/>
<path fill="#508c3c" stroke="#508c3c" stroke-width="0.9" d="M510.4 183.6L513.2 179.2L510.2 175.8L507.5 180.1ZM516.1 182.7L518.9 178.5L516 175L513.2 179.2ZM524.7 185.6L527.5 181.3L524.6 177.8L521.8 182ZM539 188.4L541.8 184.1L539 180.3L536.1 184.5ZM544.7 188L547.6 183.8L544.7 180L541.8 184.1ZM550.4 187.7L553.3 183.6L550.4 179.7L547.6 183.8ZM556.2 187.6L559.1 183.5L556.2 179.5L553.3 183.6ZM561.9 187.5L564.8 183.4L562 179.4L559.1 183.5ZM567.6 187.6L570.5 183.5L567.7 179.5L564.8 183.4ZM573.3 187.7L576.3 183.7L573.4 179.6L570.5 183.5ZM579 188L582 184L579.2 179.8L576.3 183.7Z"/>
<path fill="#548c3c" stroke="#548c3c" stroke-width="0.9" d="M507.5 180.1L510.2 175.8L507.3 172.5L504.6 176.8ZM513.2 179.2L516 175L513 171.6L510.2 175.8ZM521.8 182L524.6 177.8L521.7 174.2L518.9 178.5ZM530.4 185L533.2 180.8L530.3 177.1L527.5 181.3ZM536.1 184.5L539 180.3L536.1 176.6L533.2 180.8ZM541.8 184.1L544.7 180L541.8 176.2L539 180.3ZM582 184L584.9 180.2L582.1 176L579.2 179.8ZM587.7 184.5L590.6 180.7L587.9 176.4L584.9 180.2Z"/>
<path fill="#5c883c" stroke="#5c883c" stroke-width="0.9" d="M498.7 170.3L501.5 166.1L498.5 163.1L495.8 167.2ZM507.3 172.5L510.1 168.4L507.2 165.2L504.4 169.3Z"/>
<path fill="#64883c" stroke="#64883c" stroke-width="0.9" d="M492.9 164.2L495.6 160.1L492.7 157.2L489.9 161.3ZM504.4 169.3L507.2 165.2L504.3 162.1L501.5 166.1Z"/>
<path fill="#68883c" stroke="#68883c" stroke-width="0.9" d="M489.9 161.3L492.7 157.2L489.8 154.4L487 158.4Z"/>
<path fill="#6c8440" stroke="#6c8440" stroke-width="0.9" d="M487 158.4L489.8 154.4L486.8 151.7L484.1 155.7Z"/>
<path fill="#708440" stroke="#708440" stroke-width="0.9" d="M484.1 155.7L486.8 151.7L483.9 149.1L481.2 153ZM481.2 153L483.9 149.1L481 146.5L478.2 150.4ZM478.2 150.4L481 146.5L478.1 144.1L475.3 147.9Z"/>
<path fill="#748040" stroke="#748040" stroke-width="0.9" d="M475.3 147.9L478.1 144.1L475.2 141.7L472.4 145.4ZM472.4 145.4L475.2 141.7L472.2 139.4L469.5 143.1Z"/>
<path fill="#708040" stroke="#708040" stroke-width="0.9" d="M469.5 143.1L472.2 139.4L469.3 137.1L466.6 140.8Z"/>
<path fill="#707c40" stroke="#707c40" stroke-width="0.9" d="M466.6 140.8L469.3 137.1L466.5 135L463.7 138.6Z"/>
<path fill="#707c3c" stroke="#707c3c" stroke-width="0.9" d="M463.7 138.6L466.5 135L463.6 132.9L460.8 136.5Z"/>
<path fill="#6c7c3c" stroke="#6c7c3c" stroke-width="0.9" d="M460.8 136.5L463.6 132.9L460.7 130.9L458 134.4Z"/>
<path fill="#68783c" stroke="#68783c" stroke-width="0.9" d="M458 134.4L460.7 130.9L457.8 129L455.1 132.5Z"/>
<path fill="#687838" stroke="#687838" stroke-width="0.9" d="M455.1 132.5L457.8 129L455 127.1L452.2 130.6Z"/>
<path fill="#647438" stroke="#647438" stroke-width="0.9" d="M452.2 130.6L455 127.1L452.1 125.4L449.4 128.8Z"/>
<path fill="#5c7438" stroke="#5c7438" stroke-width="0.9" d="M449.4 128.8L452.1 125.4L449.3 123.7L446.6 127Z"/>
<path fill="#587034" stroke="#587034" stroke-width="0.9" d="M446.6 127L449.3 123.7L446.5 122.1L443.7 125.4Z"/>
<path fill="#547034" stroke="#547034" stroke-width="0.9" d="M443.7 125.4L446.5 122.1L443.7 120.5L440.9 123.8Z"/>
<path fill="#506c30" stroke="#506c30" stroke-width="0.9" d="M440.9 123.8L443.7 120.5L440.9 119.1L438.1 122.3Z"/>
<path fill="#48682c" stroke="#48682c" stroke-width="0.9" d="M438.1 122.3L440.9 119.1L438.1 117.7L435.4 120.8Z"/>
<path fill="#40642c" stroke="#40642c" stroke-width="0.9" d="M432.6 119.4L435.3 116.3L432.6 115.1L429.8 118.1Z"/>
<path fill="#182c14" stroke="#182c14" stroke-width="0.9" d="M427.1 116.9L429.8 113.9L427.1 112.8L424.4 115.7Z"/>
<path fill="#308c68" stroke="#308c68" stroke-width="0.9" d="M547.6 227.2L550.4 222.5L547.6 218L544.8 222.7ZM553.2 227.1L556 222.4L553.2 217.9L550.4 222.5ZM558.8 227L561.6 222.4L558.8 217.8L556 222.4Z"/>
<path fill="#588c3c" stroke="#588c3c" stroke-width="0.9" d="M510.2 175.8L513 171.6L510.1 168.4L507.3 172.5ZM518.9 178.5L521.7 174.2L518.8 170.8L516 175ZM527.5 181.3L530.3 177.1L527.4 173.6L524.6 177.8ZM533.2 180.8L536.1 176.6L533.2 173L530.3 177.1ZM547.6 183.8L550.4 179.7L547.6 175.9L544.7 180ZM553.3 183.6L556.2 179.5L553.3 175.6L550.4 179.7ZM559.1 183.5L562 179.4L559.1 175.5L556.2 179.5ZM564.8 183.4L567.7 179.5L564.9 175.5L562 179.4ZM570.5 183.5L573.4 179.6L570.6 175.6L567.7 179.5ZM576.3 183.7L579.2 179.8L576.4 175.7L573.4 179.6ZM590.6 180.7L593.6 176.9L590.8 172.8L587.9 176.4Z"/>
<path fill="#688840" stroke="#688840" stroke-width="0.9" d="M501.5 166.1L504.3 162.1L501.3 159.1L498.5 163.1Z"/>
<path fill="#6c8840" stroke="#6c8840" stroke-width="0.9" d="M498.5 163.1L501.3 159.1L498.4 156.1L495.6 160.1ZM510.1 168.4L512.9 164.3L510 161.1L507.2 165.2Z"/>
<path fill="#748840" stroke="#748840" stroke-width="0.9" d="M495.6 160.1L498.4 156.1L495.5 153.3L492.7 157.2ZM492.7 157.2L495.5 153.3L492.5 150.5L489.8 154.4Z"/>
<path fill="#788444" stroke="#788444" stroke-width="0.9" d="M489.8 154.4L492.5 150.5L489.6 147.8L486.8 151.7Z"/>
<path fill="#7c8444" stroke="#7c8444" stroke-width="0.9" d="M486.8 151.7L489.6 147.8L486.7 145.3L483.9 149.1ZM483.9 149.1L486.7 145.3L483.7 142.7L481 146.5ZM481 146.5L483.7 142.7L480.8 140.3L478.1 144.1Z"/>
<path fill="#7c8044" stroke="#7c8044" stroke-width="0.9" d="M478.1 144.1L480.8 140.3L477.9 138L475.2 141.7ZM475.2 141.7L477.9 138L475 135.7L472.2 139.4Z"/>
<path fill="#7c7c44" stroke="#7c7c44" stroke-width="0.9" d="M472.2 139.4L475 135.7L472.1 133.5L469.3 137.1ZM475 135.7L477.8 132.2L474.9 130L472.1 133.5Z"/>
<path fill="#7c7c40" stroke="#7c7c40" stroke-width="0.9" d="M469.3 137.1L472.1 133.5L469.2 131.4L466.5 135Z"/>
<path fill="#787c40" stroke="#787c40" stroke-width="0.9" d="M466.5 135L469.2 131.4L466.3 129.4L463.6 132.9Z"/>
<path fill="#747840" stroke="#747840" stroke-width="0.9" d="M463.6 132.9L466.3 129.4L463.4 127.5L460.7 130.9Z"/>
<path fill="#70783c" stroke="#70783c" stroke-width="0.9" d="M460.7 130.9L463.4 127.5L460.6 125.6L457.8 129Z"/>
<path fill="#6c743c" stroke="#6c743c" stroke-width="0.9" d="M457.8 129L460.6 125.6L457.7 123.8L455 127.1Z"/>
<path fill="#687438" stroke="#687438" stroke-width="0.9" d="M455 127.1L457.7 123.8L454.9 122.1L452.1 125.4Z"/>
<path fill="#647038" stroke="#647038" stroke-width="0.9" d="M452.1 125.4L454.9 122.1L452 120.4L449.3 123.7Z"/>
<path fill="#607034" stroke="#607034" stroke-width="0.9" d="M449.3 123.7L452 120.4L449.2 118.9L446.5 122.1Z"/>
<path fill="#5c6c34" stroke="#5c6c34" stroke-width="0.9" d="M446.5 122.1L449.2 118.9L446.4 117.4L443.7 120.5Z"/>
<path fill="#546c30" stroke="#546c30" stroke-width="0.9" d="M443.7 120.5L446.4 117.4L443.6 116L440.9 119.1Z"/>
<path fill="#506830" stroke="#506830" stroke-width="0.9" d="M440.9 119.1L443.6 116L440.8 114.6L438.1 117.7Z"/>
<path fill="#48642c" stroke="#48642c" stroke-width="0.9" d="M438.1 117.7L440.8 114.6L438 113.3L435.3 116.3Z"/>
<path fill="#44642c" stroke="#44642c" stroke-width="0.9" d="M435.3 116.3L438 113.3L435.3 112.1L432.6 115.1Z"/>
<path fill="#406028" stroke="#406028" stroke-width="0.9" d="M432.6 115.1L435.3 112.1L432.6 111L429.8 113.9ZM435.3 112.1L438 109.3L435.3 108.2L432.6 111Z"/>
<path fill="#0c1408" stroke="#0c1408" stroke-width="0.9" d="M429.8 113.9L432.6 111L429.8 109.9L427.1 112.8ZM432.6 111L435.3 108.2L432.6 107.2L429.8 109.9Z"/>
<path fill="#5c8c3c" stroke="#5c8c3c" stroke-width="0.9" d="M516 175L518.8 170.8L515.8 167.5L513 171.6ZM524.6 177.8L527.4 173.6L524.5 170.1L521.7 174.2ZM539 180.3L541.8 176.2L538.9 172.5L536.1 176.6ZM544.7 180L547.6 175.9L544.7 172.2L541.8 176.2ZM550.4 179.7L553.3 175.6L550.5 171.9L547.6 175.9ZM567.7 179.5L570.6 175.6L567.8 171.6L564.9 175.5ZM573.4 179.6L576.4 175.7L573.6 171.7L570.6 175.6ZM579.2 179.8L582.1 176L579.3 172L576.4 175.7ZM584.9 180.2L587.9 176.4L585.1 172.3L582.1 176ZM593.6 176.9L596.5 173.3L593.8 169.2L590.8 172.8Z"/>
<path fill="#648c3c" stroke="#648c3c" stroke-width="0.9" d="M513 171.6L515.8 167.5L512.9 164.3L510.1 168.4ZM521.7 174.2L524.5 170.1L521.6 166.8L518.8 170.8ZM536.1 176.6L538.9 172.5L536 169L533.2 173ZM541.8 176.2L544.7 172.2L541.8 168.5L538.9 172.5ZM582.1 176L585.1 172.3L582.3 168.3L579.3 172ZM596.5 173.3L599.5 169.8L596.7 165.7L593.8 169.2Z"/>
<path fill="#708840" stroke="#708840" stroke-width="0.9" d="M507.2 165.2L510 161.1L507 158.1L504.3 162.1Z"/>
<path fill="#788844" stroke="#788844" stroke-width="0.9" d="M504.3 162.1L507 158.1L504.1 155.1L501.3 159.1ZM512.9 164.3L515.7 160.3L512.8 157.2L510 161.1Z"/>
<path fill="#7c8844" stroke="#7c8844" stroke-width="0.9" d="M501.3 159.1L504.1 155.1L501.2 152.2L498.4 156.1ZM605.4 163.1L608.4 159.8L605.6 155.9L602.6 159Z"/>
<path fill="#808844" stroke="#808844" stroke-width="0.9" d="M498.4 156.1L501.2 152.2L498.2 149.4L495.5 153.3ZM510 161.1L512.8 157.2L509.9 154.2L507 158.1Z"/>
<path fill="#848844" stroke="#848844" stroke-width="0.9" d="M495.5 153.3L498.2 149.4L495.3 146.7L492.5 150.5Z"/>
<path fill="#848448" stroke="#848448" stroke-width="0.9" d="M492.5 150.5L495.3 146.7L492.4 144.1L489.6 147.8ZM489.6 147.8L492.4 144.1L489.5 141.5L486.7 145.3ZM498.2 149.4L501.1 145.6L498.1 143L495.3 146.7ZM617.3 150.8L620.2 148L617.4 144.2L614.5 146.9Z"/>
<path fill="#848048" stroke="#848048" stroke-width="0.9" d="M486.7 145.3L489.5 141.5L486.5 139.1L483.7 142.7ZM495.3 146.7L498.1 143L495.2 140.4L492.4 144.1ZM492.4 144.1L495.2 140.4L492.3 137.9L489.5 141.5ZM620.2 148L623.1 145.3L620.4 141.5L617.4 144.2ZM623.1 145.3L626.1 142.7L623.3 139L620.4 141.5Z"/>
<path fill="#808044" stroke="#808044" stroke-width="0.9" d="M483.7 142.7L486.5 139.1L483.6 136.7L480.8 140.3ZM480.8 140.3L483.6 136.7L480.7 134.4L477.9 138Z"/>
<path fill="#807c44" stroke="#807c44" stroke-width="0.9" d="M477.9 138L480.7 134.4L477.8 132.2L475 135.7Z"/>
<path fill="#7c7844" stroke="#7c7844" stroke-width="0.9" d="M472.1 133.5L474.9 130L472 128L469.2 131.4ZM480.7 134.4L483.5 130.9L480.6 128.7L477.8 132.2ZM477.8 132.2L480.6 128.7L477.7 126.6L474.9 130ZM631.9 137.8L634.9 135.6L632.1 132L629.2 134.2ZM634.9 135.6L637.8 133.5L635 130L632.1 132Z"/>
<path fill="#787840" stroke="#787840" stroke-width="0.9" d="M469.2 131.4L472 128L469.1 126L466.3 129.4ZM466.3 129.4L469.1 126L466.2 124.1L463.4 127.5Z"/>
<path fill="#747440" stroke="#747440" stroke-width="0.9" d="M463.4 127.5L466.2 124.1L463.3 122.3L460.6 125.6ZM640.6 131.5L643.5 129.6L640.8 126.2L637.9 128Z"/>
<path fill="#74743c" stroke="#74743c" stroke-width="0.9" d="M460.6 125.6L463.3 122.3L460.5 120.5L457.7 123.8Z"/>
<path fill="#70703c" stroke="#70703c" stroke-width="0.9" d="M457.7 123.8L460.5 120.5L457.6 118.9L454.9 122.1ZM463.3 122.3L466.1 119L463.3 117.3L460.5 120.5ZM460.5 120.5L463.3 117.3L460.4 115.7L457.6 118.9Z"/>
<path fill="#6c7038" stroke="#6c7038" stroke-width="0.9" d="M454.9 122.1L457.6 118.9L454.8 117.3L452 120.4Z"/>
<path fill="#646c38" stroke="#646c38" stroke-width="0.9" d="M452 120.4L454.8 117.3L452 115.7L449.2 118.9Z"/>
<path fill="#606c34" stroke="#606c34" stroke-width="0.9" d="M449.2 118.9L452 115.7L449.2 114.3L446.4 117.4Z"/>
<path fill="#586834" stroke="#586834" stroke-width="0.9" d="M446.4 117.4L449.2 114.3L446.4 112.9L443.6 116Z"/>
<path fill="#546430" stroke="#546430" stroke-width="0.9" d="M443.6 116L446.4 112.9L443.6 111.6L440.8 114.6Z"/>
<path fill="#4c642c" stroke="#4c642c" stroke-width="0.9" d="M440.8 114.6L443.6 111.6L440.8 110.4L438 113.3Z"/>
<path fill="#44602c" stroke="#44602c" stroke-width="0.9" d="M438 113.3L440.8 110.4L438 109.3L435.3 112.1Z"/>
<path fill="#308c54" stroke="#308c54" stroke-width="0.9" d="M553.2 217.9L556 213.3L553.2 208.9L550.4 213.4ZM558.8 217.8L561.7 213.3L558.9 208.9L556 213.3ZM564.4 217.9L567.3 213.4L564.5 208.9L561.7 213.3Z"/>
<path fill="#6c8c40" stroke="#6c8c40" stroke-width="0.9" d="M518.8 170.8L521.6 166.8L518.7 163.5L515.8 167.5ZM533.2 173L536 169L533.1 165.5L530.3 169.5ZM559.1 175.5L562 171.6L559.1 167.8L556.2 171.7ZM564.9 175.5L567.8 171.6L564.9 167.8L562 171.6ZM599.5 169.8L602.4 166.4L599.7 162.3L596.7 165.7Z"/>
<path fill="#708c40" stroke="#708c40" stroke-width="0.9" d="M515.8 167.5L518.7 163.5L515.7 160.3L512.9 164.3ZM524.5 170.1L527.3 166.1L524.4 162.7L521.6 166.8ZM538.9 172.5L541.8 168.5L538.9 165L536 169ZM579.3 172L582.3 168.3L579.4 164.4L576.5 168ZM585.1 172.3L588 168.7L585.2 164.7L582.3 168.3Z"/>
<path fill="#848848" stroke="#848848" stroke-width="0.9" d="M507 158.1L509.9 154.2L506.9 151.2L504.1 155.1ZM515.7 160.3L518.6 156.4L515.6 153.3L512.8 157.2ZM599.7 162.3L602.6 159L599.9 155.1L596.9 158.4Z"/>
<path fill="#888848" stroke="#888848" stroke-width="0.9" d="M504.1 155.1L506.9 151.2L504 148.4L501.2 152.2ZM512.8 157.2L515.6 153.3L512.7 150.3L509.9 154.2ZM509.9 154.2L512.7 150.3L509.8 147.4L506.9 151.2ZM521.5 159.5L524.3 155.6L521.4 152.5L518.6 156.4ZM602.6 159L605.6 155.9L602.8 152L599.9 155.1ZM605.6 155.9L608.6 152.8L605.8 149L602.8 152ZM611.3 156.7L614.3 153.7L611.5 149.8L608.6 152.8ZM614.3 153.7L617.3 150.8L614.5 146.9L611.5 149.8Z"/>
<path fill="#888448" stroke="#888448" stroke-width="0.9" d="M501.2 152.2L504 148.4L501.1 145.6L498.2 149.4ZM506.9 151.2L509.8 147.4L506.8 144.6L504 148.4ZM608.6 152.8L611.5 149.8L608.7 146L605.8 149Z"/>
<path fill="#808048" stroke="#808048" stroke-width="0.9" d="M489.5 141.5L492.3 137.9L489.3 135.4L486.5 139.1Z"/>
<path fill="#807c48" stroke="#807c48" stroke-width="0.9" d="M486.5 139.1L489.3 135.4L486.4 133.1L483.6 136.7ZM483.6 136.7L486.4 133.1L483.5 130.9L480.7 134.4ZM492.3 137.9L495.1 134.3L492.1 131.9L489.3 135.4ZM620.4 141.5L623.3 139L620.6 135.4L617.6 137.9ZM626.1 142.7L629 140.2L626.3 136.5L623.3 139ZM623.3 139L626.3 136.5L623.5 133L620.6 135.4ZM629 140.2L631.9 137.8L629.2 134.2L626.3 136.5Z"/>
<path fill="#787844" stroke="#787844" stroke-width="0.9" d="M474.9 130L477.7 126.6L474.8 124.6L472 128Z"/>
<path fill="#787444" stroke="#787444" stroke-width="0.9" d="M472 128L474.8 124.6L471.9 122.7L469.1 126ZM632.1 132L635 130L632.2 126.5L629.3 128.6ZM637.8 133.5L640.6 131.5L637.9 128L635 130Z"/>
<path fill="#787440" stroke="#787440" stroke-width="0.9" d="M469.1 126L471.9 122.7L469 120.8L466.2 124.1Z"/>
<path fill="#747040" stroke="#747040" stroke-width="0.9" d="M466.2 124.1L469 120.8L466.1 119L463.3 122.3ZM471.9 122.7L474.7 119.4L471.8 117.6L469 120.8ZM469 120.8L471.8 117.6L468.9 115.9L466.1 119ZM637.9 128L640.8 126.2L638 122.8L635.1 124.6Z"/>
<path fill="#6c6c3c" stroke="#6c6c3c" stroke-width="0.9" d="M457.6 118.9L460.4 115.7L457.6 114.2L454.8 117.3ZM463.3 117.3L466.1 114.3L463.2 112.7L460.4 115.7Z"/>
<path fill="#686c38" stroke="#686c38" stroke-width="0.9" d="M454.8 117.3L457.6 114.2L454.7 112.7L452 115.7Z"/>
<path fill="#646834" stroke="#646834" stroke-width="0.9" d="M452 115.7L454.7 112.7L451.9 111.3L449.2 114.3ZM652 124.7L654.8 123.3L652.1 120L649.3 121.4Z"/>
<path fill="#5c6834" stroke="#5c6834" stroke-width="0.9" d="M449.2 114.3L451.9 111.3L449.1 110L446.4 112.9Z"/>
<path fill="#586430" stroke="#586430" stroke-width="0.9" d="M446.4 112.9L449.1 110L446.3 108.8L443.6 111.6Z"/>
<path fill="#50602c" stroke="#50602c" stroke-width="0.9" d="M443.6 111.6L446.3 108.8L443.6 107.6L440.8 110.4ZM446.3 108.8L449.1 106L446.4 104.9L443.6 107.6Z"/>
<path fill="#48602c" stroke="#48602c" stroke-width="0.9" d="M440.8 110.4L443.6 107.6L440.8 106.5L438 109.3Z"/>
<path fill="#405c28" stroke="#405c28" stroke-width="0.9" d="M438 109.3L440.8 106.5L438.1 105.5L435.3 108.2Z"/>
<path fill="#101808" stroke="#101808" stroke-width="0.9" d="M435.3 108.2L438.1 105.5L435.4 104.5L432.6 107.2ZM438.1 105.5L440.9 102.9L438.1 102L435.4 104.5Z"/>
<path fill="#608c3c" stroke="#608c3c" stroke-width="0.9" d="M530.3 177.1L533.2 173L530.3 169.5L527.4 173.6ZM556.2 179.5L559.1 175.5L556.2 171.7L553.3 175.6ZM562 179.4L564.9 175.5L562 171.6L559.1 175.5ZM587.9 176.4L590.8 172.8L588 168.7L585.1 172.3Z"/>
<path fill="#688c40" stroke="#688c40" stroke-width="0.9" d="M527.4 173.6L530.3 169.5L527.3 166.1L524.5 170.1ZM547.6 175.9L550.5 171.9L547.6 168.2L544.7 172.2ZM553.3 175.6L556.2 171.7L553.4 168L550.5 171.9ZM570.6 175.6L573.6 171.7L570.7 167.8L567.8 171.6ZM576.4 175.7L579.3 172L576.5 168L573.6 171.7ZM590.8 172.8L593.8 169.2L591 165.2L588 168.7Z"/>
<path fill="#788c44" stroke="#788c44" stroke-width="0.9" d="M521.6 166.8L524.4 162.7L521.5 159.5L518.7 163.5ZM536 169L538.9 165L536 161.6L533.1 165.5ZM556.2 171.7L559.1 167.8L556.3 164.1L553.4 168ZM562 171.6L564.9 167.8L562.1 164L559.1 167.8ZM567.8 171.6L570.7 167.8L567.9 164L564.9 167.8ZM588 168.7L591 165.2L588.2 161.2L585.2 164.7Z"/>
<path fill="#808c44" stroke="#808c44" stroke-width="0.9" d="M518.7 163.5L521.5 159.5L518.6 156.4L515.7 160.3ZM576.5 168L579.4 164.4L576.6 160.6L573.7 164.2Z"/>
<path fill="#84844c" stroke="#84844c" stroke-width="0.9" d="M504 148.4L506.8 144.6L503.9 141.9L501.1 145.6Z"/>
<path fill="#84804c" stroke="#84804c" stroke-width="0.9" d="M501.1 145.6L503.9 141.9L500.9 139.3L498.1 143ZM498.1 143L500.9 139.3L498 136.8L495.2 140.4ZM506.8 144.6L509.7 141L506.7 138.3L503.9 141.9ZM608.7 146L611.7 143.2L608.9 139.6L605.9 142.4ZM614.5 146.9L617.4 144.2L614.7 140.5L611.7 143.2ZM617.4 144.2L620.4 141.5L617.6 137.9L614.7 140.5Z"/>
<path fill="#847c48" stroke="#847c48" stroke-width="0.9" d="M495.2 140.4L498 136.8L495.1 134.3L492.3 137.9Z"/>
<path fill="#807848" stroke="#807848" stroke-width="0.9" d="M489.3 135.4L492.1 131.9L489.2 129.6L486.4 133.1ZM486.4 133.1L489.2 129.6L486.3 127.4L483.5 130.9ZM626.3 136.5L629.2 134.2L626.4 130.7L623.5 133Z"/>
<path fill="#7c7448" stroke="#7c7448" stroke-width="0.9" d="M483.5 130.9L486.3 127.4L483.4 125.3L480.6 128.7ZM489.2 129.6L492.1 126.3L489.1 124.1L486.3 127.4ZM623.5 133L626.4 130.7L623.6 127.3L620.7 129.6ZM629.2 134.2L632.1 132L629.3 128.6L626.4 130.7Z"/>
<path fill="#7c7444" stroke="#7c7444" stroke-width="0.9" d="M480.6 128.7L483.4 125.3L480.5 123.3L477.7 126.6Z"/>
<path fill="#787044" stroke="#787044" stroke-width="0.9" d="M477.7 126.6L480.5 123.3L477.6 121.3L474.8 124.6ZM474.8 124.6L477.6 121.3L474.7 119.4L471.9 122.7ZM635 130L637.9 128L635.1 124.6L632.2 126.5Z"/>
<path fill="#706c40" stroke="#706c40" stroke-width="0.9" d="M466.1 119L468.9 115.9L466.1 114.3L463.3 117.3ZM640.8 126.2L643.6 124.4L640.9 121.2L638 122.8Z"/>
<path fill="#6c683c" stroke="#6c683c" stroke-width="0.9" d="M460.4 115.7L463.2 112.7L460.4 111.2L457.6 114.2ZM466.1 114.3L468.9 111.3L466 109.7L463.2 112.7ZM643.6 124.4L646.5 122.8L643.7 119.6L640.9 121.2Z"/>
<path fill="#686838" stroke="#686838" stroke-width="0.9" d="M457.6 114.2L460.4 111.2L457.5 109.8L454.7 112.7ZM454.7 112.7L457.5 109.8L454.7 108.4L451.9 111.3ZM646.5 122.8L649.3 121.4L646.5 118.2L643.7 119.6Z"/>
<path fill="#606434" stroke="#606434" stroke-width="0.9" d="M451.9 111.3L454.7 108.4L451.9 107.2L449.1 110Z"/>
<path fill="#586030" stroke="#586030" stroke-width="0.9" d="M449.1 110L451.9 107.2L449.1 106L446.3 108.8Z"/>
<path fill="#4c5c2c" stroke="#4c5c2c" stroke-width="0.9" d="M443.6 107.6L446.4 104.9L443.6 103.8L440.8 106.5Z"/>
<path fill="#30401c" stroke="#30401c" stroke-width="0.9" d="M440.8 106.5L443.6 103.8L440.9 102.9L438.1 105.5Z"/>
<path fill="#748c44" stroke="#748c44" stroke-width="0.9" d="M530.3 169.5L533.1 165.5L530.2 162.1L527.3 166.1ZM544.7 172.2L547.6 168.2L544.7 164.6L541.8 168.5ZM550.5 171.9L553.4 168L550.5 164.3L547.6 168.2ZM573.6 171.7L576.5 168L573.7 164.2L570.7 167.8Z"/>
<path fill="#7c8c44" stroke="#7c8c44" stroke-width="0.9" d="M527.3 166.1L530.2 162.1L527.3 158.8L524.4 162.7ZM541.8 168.5L544.7 164.6L541.8 161.1L538.9 165ZM582.3 168.3L585.2 164.7L582.4 160.8L579.4 164.4ZM596.7 165.7L599.7 162.3L596.9 158.4L593.9 161.7Z"/>
<path fill="#848c48" stroke="#848c48" stroke-width="0.9" d="M524.4 162.7L527.3 158.8L524.3 155.6L521.5 159.5ZM533.1 165.5L536 161.6L533.1 158.2L530.2 162.1ZM559.1 167.8L562.1 164L559.2 160.4L556.3 164.1ZM564.9 167.8L567.9 164L565 160.3L562.1 164ZM585.2 164.7L588.2 161.2L585.3 157.4L582.4 160.8Z"/>
<path fill="#88884c" stroke="#88884c" stroke-width="0.9" d="M518.6 156.4L521.4 152.5L518.5 149.5L515.6 153.3ZM524.3 155.6L527.2 151.8L524.3 148.8L521.4 152.5ZM596.9 158.4L599.9 155.1L597.1 151.3L594.1 154.5ZM599.9 155.1L602.8 152L600 148.2L597.1 151.3Z"/>
<path fill="#88844c" stroke="#88844c" stroke-width="0.9" d="M515.6 153.3L518.5 149.5L515.5 146.6L512.7 150.3ZM512.7 150.3L515.5 146.6L512.6 143.7L509.8 147.4ZM521.4 152.5L524.3 148.8L521.3 145.8L518.5 149.5ZM530.1 155L533 151.2L530.1 148.1L527.2 151.8ZM527.2 151.8L530.1 148.1L527.2 145.1L524.3 148.8ZM535.9 154.4L538.8 150.7L535.9 147.6L533 151.2ZM588.3 154L591.3 150.8L588.4 147.1L585.5 150.3ZM594.1 154.5L597.1 151.3L594.2 147.6L591.3 150.8ZM597.1 151.3L600 148.2L597.2 144.6L594.2 147.6ZM602.8 152L605.8 149L603 145.2L600 148.2ZM611.5 149.8L614.5 146.9L611.7 143.2L608.7 146Z"/>
<path fill="#88804c" stroke="#88804c" stroke-width="0.9" d="M509.8 147.4L512.6 143.7L509.7 141L506.8 144.6ZM518.5 149.5L521.3 145.8L518.4 142.9L515.5 146.6ZM515.5 146.6L518.4 142.9L515.5 140.1L512.6 143.7ZM600 148.2L603 145.2L600.2 141.6L597.2 144.6ZM605.8 149L608.7 146L605.9 142.4L603 145.2Z"/>
<path fill="#847c4c" stroke="#847c4c" stroke-width="0.9" d="M503.9 141.9L506.7 138.3L503.8 135.7L500.9 139.3ZM500.9 139.3L503.8 135.7L500.8 133.2L498 136.8ZM512.6 143.7L515.5 140.1L512.5 137.4L509.7 141ZM509.7 141L512.5 137.4L509.6 134.8L506.7 138.3ZM506.7 138.3L509.6 134.8L506.6 132.2L503.8 135.7ZM611.7 143.2L614.7 140.5L611.9 136.9L608.9 139.6ZM614.7 140.5L617.6 137.9L614.8 134.3L611.9 136.9Z"/>
<path fill="#80784c" stroke="#80784c" stroke-width="0.9" d="M498 136.8L500.8 133.2L497.9 130.8L495.1 134.3ZM495.1 134.3L497.9 130.8L495 128.5L492.1 131.9ZM503.8 135.7L506.6 132.2L503.7 129.8L500.8 133.2ZM509.6 134.8L512.4 131.3L509.5 128.8L506.6 132.2ZM530 135.2L532.9 131.9L530 129.1L527.1 132.4ZM600.3 135.3L603.2 132.6L600.4 129.3L597.4 132ZM606.1 136L609 133.4L606.2 130L603.2 132.6ZM611.9 136.9L614.8 134.3L612 130.9L609 133.4ZM617.6 137.9L620.6 135.4L617.8 131.9L614.8 134.3ZM620.6 135.4L623.5 133L620.7 129.6L617.8 131.9Z"/>
<path fill="#807448" stroke="#807448" stroke-width="0.9" d="M492.1 131.9L495 128.5L492.1 126.3L489.2 129.6Z"/>
<path fill="#7c7048" stroke="#7c7048" stroke-width="0.9" d="M486.3 127.4L489.1 124.1L486.2 122L483.4 125.3ZM483.4 125.3L486.2 122L483.3 120L480.5 123.3ZM495 128.5L497.8 125.1L494.9 123L492.1 126.3ZM500.8 127.4L503.6 124.1L500.7 121.9L497.8 125.1ZM606.2 130L609.2 127.6L606.3 124.4L603.4 126.8ZM620.7 129.6L623.6 127.3L620.8 124L617.9 126.2ZM626.4 130.7L629.3 128.6L626.5 125.2L623.6 127.3Z"/>
<path fill="#786c44" stroke="#786c44" stroke-width="0.9" d="M480.5 123.3L483.3 120L480.4 118.1L477.6 121.3ZM477.6 121.3L480.4 118.1L477.5 116.3L474.7 119.4ZM629.3 128.6L632.2 126.5L629.4 123.2L626.5 125.2Z"/>
<path fill="#746840" stroke="#746840" stroke-width="0.9" d="M474.7 119.4L477.5 116.3L474.6 114.5L471.8 117.6ZM635.1 124.6L638 122.8L635.2 119.6L632.3 121.4Z"/>
<path fill="#706840" stroke="#706840" stroke-width="0.9" d="M471.8 117.6L474.6 114.5L471.7 112.9L468.9 115.9ZM468.9 115.9L471.7 112.9L468.9 111.3L466.1 114.3ZM638 122.8L640.9 121.2L638.1 118L635.2 119.6Z"/>
<path fill="#68643c" stroke="#68643c" stroke-width="0.9" d="M463.2 112.7L466 109.7L463.2 108.3L460.4 111.2Z"/>
<path fill="#686438" stroke="#686438" stroke-width="0.9" d="M460.4 111.2L463.2 108.3L460.4 106.9L457.5 109.8ZM466 109.7L468.9 106.9L466 105.5L463.2 108.3ZM643.7 119.6L646.5 118.2L643.7 115.2L640.9 116.5Z"/>
<path fill="#646434" stroke="#646434" stroke-width="0.9" d="M457.5 109.8L460.4 106.9L457.5 105.7L454.7 108.4Z"/>
<path fill="#606034" stroke="#606034" stroke-width="0.9" d="M454.7 108.4L457.5 105.7L454.7 104.4L451.9 107.2ZM460.4 106.9L463.2 104.2L460.4 103L457.5 105.7ZM652.1 120L654.9 118.8L652.1 115.8L649.3 116.9Z"/>
<path fill="#5c6030" stroke="#5c6030" stroke-width="0.9" d="M451.9 107.2L454.7 104.4L451.9 103.3L449.1 106Z"/>
<path fill="#545c2c" stroke="#545c2c" stroke-width="0.9" d="M449.1 106L451.9 103.3L449.2 102.3L446.4 104.9Z"/>
<path fill="#4c582c" stroke="#4c582c" stroke-width="0.9" d="M446.4 104.9L449.2 102.3L446.4 101.3L443.6 103.8ZM657.6 117.8L660.4 116.8L657.6 113.9L654.9 114.8Z"/>
<path fill="#303c1c" stroke="#303c1c" stroke-width="0.9" d="M443.6 103.8L446.4 101.3L443.7 100.4L440.9 102.9Z"/>
<path fill="#080804" stroke="#080804" stroke-width="0.9" d="M440.9 102.9L443.7 100.4L440.9 99.5L438.1 102ZM446.5 97.9L449.3 95.6L446.6 94.9L443.8 97.1ZM452.2 93.4L455 91.3L452.3 90.7L449.4 92.7ZM455 91.3L457.9 89.3L455.2 88.7L452.3 90.7ZM475.2 81.2L478.1 79.8L475.4 79.5L472.4 80.9ZM483.8 78.8L486.8 77.6L484 77.4L481 78.6ZM489.5 77.9L492.5 76.8L489.7 76.5L486.8 77.6ZM495.3 77.1L498.2 76L495.4 75.8L492.5 76.8ZM503.9 76.8L506.8 75.7L504 75.3L501 76.4ZM501 76.4L504 75.3L501.2 75.1L498.2 76ZM509.7 76.2L512.6 75.2L509.8 74.8L506.8 75.7ZM506.8 75.7L509.8 74.8L506.9 74.4L504 75.3ZM515.5 75.6L518.4 74.7L515.6 74.2L512.6 75.2ZM521.3 75.2L524.2 74.3L521.4 73.8L518.4 74.7ZM530 75.4L533 74.5L530.1 74L527.1 74.8ZM527.1 74.8L530.1 74L527.2 73.5L524.2 74.3ZM535.9 75.2L538.8 74.4L535.9 73.8L533 74.5ZM541.7 75L544.6 74.3L541.7 73.7L538.8 74.4ZM556.4 75.9L559.3 75.2L556.3 74.4L553.4 75.1ZM562.2 76.1L565.1 75.5L562.2 74.7L559.3 75.2ZM576.9 77.8L579.8 77.3L576.8 76.3L573.9 76.8ZM582.7 78.4L585.6 77.9L582.6 76.9L579.8 77.3ZM588.5 79.1L591.4 78.7L588.4 77.7L585.6 77.9ZM597.3 81.1L600.1 80.8L597.2 79.6L594.3 79.8ZM594.3 79.8L597.2 79.6L594.2 78.5L591.4 78.7ZM603.1 82L605.9 81.8L602.9 80.6L600.1 80.8ZM608.8 83.1L611.6 83L608.7 81.7L605.9 81.8ZM617.5 85.8L620.3 85.7L617.3 84.2L614.6 84.3ZM614.6 84.3L617.3 84.2L614.4 82.9L611.6 83ZM623.2 87.2L625.9 87.1L623 85.6L620.3 85.7ZM620.3 85.7L623 85.6L620 84.3L617.3 84.2ZM628.9 88.7L631.6 88.7L628.6 87.2L625.9 87.1ZM643.2 95.8L645.8 95.8L643 93.9L640.3 93.9ZM640.3 93.9L643 93.9L640.1 92.1L637.4 92Z"/>
<path fill="#8c8c48" stroke="#8c8c48" stroke-width="0.9" d="M530.2 162.1L533.1 158.2L530.1 155L527.3 158.8ZM550.5 164.3L553.4 160.5L550.5 157L547.6 160.8ZM573.7 164.2L576.6 160.6L573.7 156.8L570.8 160.4ZM588.2 161.2L591.1 157.8L588.3 154L585.3 157.4Z"/>
<path fill="#8c884c" stroke="#8c884c" stroke-width="0.9" d="M527.3 158.8L530.1 155L527.2 151.8L524.3 155.6ZM533.1 158.2L535.9 154.4L533 151.2L530.1 155ZM541.8 161.1L544.7 157.3L541.8 154L538.9 157.7ZM538.9 157.7L541.8 154L538.8 150.7L535.9 154.4ZM547.6 160.8L550.5 157L547.6 153.6L544.7 157.3ZM544.7 157.3L547.6 153.6L544.7 150.3L541.8 154ZM553.4 160.5L556.3 156.8L553.4 153.4L550.5 157ZM550.5 157L553.4 153.4L550.5 150L547.6 153.6ZM559.2 160.4L562.1 156.7L559.2 153.2L556.3 156.8ZM556.3 156.8L559.2 153.2L556.3 149.8L553.4 153.4ZM565 160.3L567.9 156.7L565.1 153.2L562.1 156.7ZM562.1 156.7L565.1 153.2L562.2 149.7L559.2 153.2ZM570.8 160.4L573.7 156.8L570.9 153.2L567.9 156.7ZM567.9 156.7L570.9 153.2L568 149.7L565.1 153.2ZM576.6 160.6L579.5 157.1L576.7 153.4L573.7 156.8ZM573.7 156.8L576.7 153.4L573.8 149.8L570.9 153.2ZM582.4 160.8L585.3 157.4L582.5 153.7L579.5 157.1ZM579.5 157.1L582.5 153.7L579.7 150L576.7 153.4ZM585.3 157.4L588.3 154L585.5 150.3L582.5 153.7ZM591.1 157.8L594.1 154.5L591.3 150.8L588.3 154Z"/>
<path fill="#80744c" stroke="#80744c" stroke-width="0.9" d="M500.8 133.2L503.7 129.8L500.8 127.4L497.9 130.8ZM497.9 130.8L500.8 127.4L497.8 125.1L495 128.5ZM506.6 132.2L509.5 128.8L506.6 126.4L503.7 129.8ZM515.4 133.9L518.3 130.5L515.3 128L512.4 131.3ZM512.4 131.3L515.3 128L512.4 125.5L509.5 128.8ZM521.2 133.1L524.1 129.8L521.2 127.2L518.3 130.5ZM518.3 130.5L521.2 127.2L518.2 124.7L515.3 128ZM527.1 132.4L530 129.1L527 126.5L524.1 129.8ZM532.9 131.9L535.8 128.6L532.9 125.9L530 129.1ZM588.6 134.2L591.6 131.4L588.7 128.2L585.8 131ZM594.5 134.7L597.4 132L594.6 128.7L591.6 131.4ZM591.6 131.4L594.6 128.7L591.7 125.5L588.7 128.2ZM597.4 132L600.4 129.3L597.5 126.1L594.6 128.7ZM603.2 132.6L606.2 130L603.4 126.8L600.4 129.3ZM609 133.4L612 130.9L609.2 127.6L606.2 130ZM614.8 134.3L617.8 131.9L614.9 128.5L612 130.9Z"/>
<path fill="#7c6c48" stroke="#7c6c48" stroke-width="0.9" d="M492.1 126.3L494.9 123L492 120.8L489.1 124.1ZM489.1 124.1L492 120.8L489.1 118.8L486.2 122ZM497.8 125.1L500.7 121.9L497.8 119.7L494.9 123ZM506.6 126.4L509.4 123.2L506.5 120.9L503.6 124.1ZM512.4 125.5L515.3 122.3L512.3 120L509.4 123.2ZM603.4 126.8L606.3 124.4L603.4 121.2L600.5 123.6ZM609.2 127.6L612.1 125.2L609.2 122.1L606.3 124.4ZM614.9 128.5L617.9 126.2L615 123L612.1 125.2ZM623.6 127.3L626.5 125.2L623.7 122L620.8 124Z"/>
<path fill="#786844" stroke="#786844" stroke-width="0.9" d="M486.2 122L489.1 118.8L486.1 116.9L483.3 120ZM483.3 120L486.1 116.9L483.2 115L480.4 118.1ZM626.5 125.2L629.4 123.2L626.6 120.1L623.7 122Z"/>
<path fill="#746444" stroke="#746444" stroke-width="0.9" d="M480.4 118.1L483.2 115L480.3 113.2L477.5 116.3ZM629.4 123.2L632.3 121.4L629.5 118.2L626.6 120.1Z"/>
<path fill="#746440" stroke="#746440" stroke-width="0.9" d="M477.5 116.3L480.3 113.2L477.5 111.5L474.6 114.5Z"/>
<path fill="#706440" stroke="#706440" stroke-width="0.9" d="M474.6 114.5L477.5 111.5L474.6 109.9L471.7 112.9Z"/>
<path fill="#6c603c" stroke="#6c603c" stroke-width="0.9" d="M471.7 112.9L474.6 109.9L471.7 108.4L468.9 111.3Z"/>
<path fill="#68603c" stroke="#68603c" stroke-width="0.9" d="M468.9 111.3L471.7 108.4L468.9 106.9L466 109.7ZM638.1 118L640.9 116.5L638.1 113.6L635.3 115Z"/>
<path fill="#646038" stroke="#646038" stroke-width="0.9" d="M463.2 108.3L466 105.5L463.2 104.2L460.4 106.9ZM646.5 118.2L649.3 116.9L646.5 113.9L643.7 115.2Z"/>
<path fill="#605c34" stroke="#605c34" stroke-width="0.9" d="M457.5 105.7L460.4 103L457.6 101.8L454.7 104.4ZM463.2 104.2L466 101.6L463.2 100.4L460.4 103ZM643.7 115.2L646.5 113.9L643.7 111.1L640.9 112.2ZM649.3 116.9L652.1 115.8L649.3 112.8L646.5 113.9Z"/>
<path fill="#5c5c30" stroke="#5c5c30" stroke-width="0.9" d="M454.7 104.4L457.6 101.8L454.8 100.7L451.9 103.3Z"/>
<path fill="#54582c" stroke="#54582c" stroke-width="0.9" d="M451.9 103.3L454.8 100.7L452 99.7L449.2 102.3Z"/>
<path fill="#4c542c" stroke="#4c542c" stroke-width="0.9" d="M449.2 102.3L452 99.7L449.2 98.8L446.4 101.3Z"/>
<path fill="#2c3418" stroke="#2c3418" stroke-width="0.9" d="M446.4 101.3L449.2 98.8L446.5 97.9L443.7 100.4Z"/>
<path fill="#080c04" stroke="#080c04" stroke-width="0.9" d="M443.7 100.4L446.5 97.9L443.8 97.1L440.9 99.5ZM449.3 95.6L452.2 93.4L449.4 92.7L446.6 94.9ZM472.3 82.7L475.2 81.2L472.4 80.9L469.5 82.3ZM480.9 80.2L483.8 78.8L481 78.6L478.1 79.8ZM631.8 90.4L634.5 90.3L631.6 88.7L628.9 88.7ZM671.1 117.8L673.7 117.3L671 114.5L668.4 114.9ZM668.4 114.9L671 114.5L668.3 111.8L665.6 112.1ZM665.6 112.1L668.3 111.8L665.5 109.1L662.9 109.4ZM662.9 109.4L665.5 109.1L662.7 106.6L660.1 106.8ZM660.1 106.8L662.7 106.6L659.9 104.3L657.3 104.4Z"/>
<path fill="#888c48" stroke="#888c48" stroke-width="0.9" d="M538.9 165L541.8 161.1L538.9 157.7L536 161.6ZM544.7 164.6L547.6 160.8L544.7 157.3L541.8 161.1ZM579.4 164.4L582.4 160.8L579.5 157.1L576.6 160.6ZM593.9 161.7L596.9 158.4L594.1 154.5L591.1 157.8Z"/>
<path fill="#8c8c4c" stroke="#8c8c4c" stroke-width="0.9" d="M536 161.6L538.9 157.7L535.9 154.4L533.1 158.2ZM556.3 164.1L559.2 160.4L556.3 156.8L553.4 160.5ZM562.1 164L565 160.3L562.1 156.7L559.2 160.4ZM567.9 164L570.8 160.4L567.9 156.7L565 160.3Z"/>
<path fill="#888050" stroke="#888050" stroke-width="0.9" d="M524.3 148.8L527.2 145.1L524.2 142.2L521.3 145.8ZM521.3 145.8L524.2 142.2L521.3 139.3L518.4 142.9ZM530.1 148.1L533 144.5L530 141.5L527.2 145.1ZM538.8 150.7L541.7 147.1L538.8 144L535.9 147.6ZM535.9 147.6L538.8 144L535.9 141L533 144.5ZM544.7 150.3L547.6 146.8L544.7 143.6L541.7 147.1ZM541.7 147.1L544.7 143.6L541.7 140.5L538.8 144ZM550.5 150L553.4 146.5L550.5 143.3L547.6 146.8ZM547.6 146.8L550.5 143.3L547.6 140.2L544.7 143.6ZM556.3 149.8L559.3 146.3L556.4 143.1L553.4 146.5ZM553.4 146.5L556.4 143.1L553.4 139.9L550.5 143.3ZM562.2 149.7L565.1 146.3L562.2 143L559.3 146.3ZM559.3 146.3L562.2 143L559.3 139.7L556.4 143.1ZM568 149.7L570.9 146.3L568.1 143L565.1 146.3ZM565.1 146.3L568.1 143L565.2 139.7L562.2 143ZM573.8 149.8L576.8 146.5L573.9 143.1L570.9 146.3ZM570.9 146.3L573.9 143.1L571 139.7L568.1 143ZM579.7 150L582.6 146.8L579.7 143.3L576.8 146.5ZM576.8 146.5L579.7 143.3L576.9 139.9L573.9 143.1ZM585.5 150.3L588.4 147.1L585.6 143.6L582.6 146.8ZM582.6 146.8L585.6 143.6L582.7 140.1L579.7 143.3ZM588.4 147.1L591.4 144L588.5 140.5L585.6 143.6ZM594.2 147.6L597.2 144.6L594.4 141L591.4 144ZM603 145.2L605.9 142.4L603.1 138.8L600.2 141.6Z"/>
<path fill="#847c50" stroke="#847c50" stroke-width="0.9" d="M518.4 142.9L521.3 139.3L518.3 136.6L515.5 140.1ZM515.5 140.1L518.3 136.6L515.4 133.9L512.5 137.4ZM524.2 142.2L527.1 138.6L524.2 135.8L521.3 139.3ZM530 141.5L532.9 138L530 135.2L527.1 138.6ZM535.9 141L538.8 137.5L535.9 134.6L532.9 138ZM588.5 140.5L591.5 137.6L588.6 134.2L585.7 137.1ZM594.4 141L597.3 138.1L594.5 134.7L591.5 137.6ZM600.2 141.6L603.1 138.8L600.3 135.3L597.3 138.1ZM605.9 142.4L608.9 139.6L606.1 136L603.1 138.8ZM608.9 139.6L611.9 136.9L609 133.4L606.1 136Z"/>
<path fill="#84784c" stroke="#84784c" stroke-width="0.9" d="M512.5 137.4L515.4 133.9L512.4 131.3L509.6 134.8ZM521.3 139.3L524.2 135.8L521.2 133.1L518.3 136.6ZM518.3 136.6L521.2 133.1L518.3 130.5L515.4 133.9ZM527.1 138.6L530 135.2L527.1 132.4L524.2 135.8ZM524.2 135.8L527.1 132.4L524.1 129.8L521.2 133.1ZM532.9 138L535.9 134.6L532.9 131.9L530 135.2ZM541.7 140.5L544.6 137.1L541.7 134.2L538.8 137.5ZM538.8 137.5L541.7 134.2L538.8 131.3L535.9 134.6ZM547.6 140.2L550.5 136.8L547.6 133.8L544.6 137.1ZM544.6 137.1L547.6 133.8L544.6 130.9L541.7 134.2ZM553.4 139.9L556.4 136.6L553.5 133.6L550.5 136.8ZM550.5 136.8L553.5 133.6L550.5 130.6L547.6 133.8ZM559.3 139.7L562.2 136.5L559.3 133.4L556.4 136.6ZM556.4 136.6L559.3 133.4L556.4 130.4L553.5 133.6ZM565.2 139.7L568.1 136.5L565.2 133.4L562.2 136.5ZM571 139.7L574 136.6L571.1 133.4L568.1 136.5ZM568.1 136.5L571.1 133.4L568.2 130.3L565.2 133.4ZM576.9 139.9L579.8 136.8L576.9 133.6L574 136.6ZM574 136.6L576.9 133.6L574 130.4L571.1 133.4ZM582.7 140.1L585.7 137.1L582.8 133.8L579.8 136.8ZM579.8 136.8L582.8 133.8L579.9 130.6L576.9 133.6ZM585.7 137.1L588.6 134.2L585.8 131L582.8 133.8ZM591.5 137.6L594.5 134.7L591.6 131.4L588.6 134.2ZM597.3 138.1L600.3 135.3L597.4 132L594.5 134.7ZM603.1 138.8L606.1 136L603.2 132.6L600.3 135.3Z"/>
<path fill="#807048" stroke="#807048" stroke-width="0.9" d="M503.7 129.8L506.6 126.4L503.6 124.1L500.8 127.4ZM509.5 128.8L512.4 125.5L509.4 123.2L506.6 126.4ZM515.3 128L518.2 124.7L515.3 122.3L512.4 125.5ZM612 130.9L614.9 128.5L612.1 125.2L609.2 127.6ZM617.8 131.9L620.7 129.6L617.9 126.2L614.9 128.5Z"/>
<path fill="#7c6844" stroke="#7c6844" stroke-width="0.9" d="M494.9 123L497.8 119.7L494.8 117.7L492 120.8ZM503.6 124.1L506.5 120.9L503.6 118.7L500.7 121.9ZM500.7 121.9L503.6 118.7L500.6 116.6L497.8 119.7ZM612.1 125.2L615 123L612.2 119.9L609.2 122.1ZM617.9 126.2L620.8 124L618 120.9L615 123Z"/>
<path fill="#786444" stroke="#786444" stroke-width="0.9" d="M492 120.8L494.8 117.7L491.9 115.7L489.1 118.8ZM489.1 118.8L491.9 115.7L489 113.8L486.1 116.9ZM497.8 119.7L500.6 116.6L497.7 114.6L494.8 117.7ZM615 123L618 120.9L615.1 117.8L612.2 119.9ZM620.8 124L623.7 122L620.9 118.9L618 120.9ZM623.7 122L626.6 120.1L623.8 117L620.9 118.9Z"/>
<path fill="#786040" stroke="#786040" stroke-width="0.9" d="M486.1 116.9L489 113.8L486.1 112L483.2 115ZM494.8 117.7L497.7 114.6L494.8 112.7L491.9 115.7ZM491.9 115.7L494.8 112.7L491.9 110.8L489 113.8ZM618 120.9L620.9 118.9L618 115.8L615.1 117.8Z"/>
<path fill="#746040" stroke="#746040" stroke-width="0.9" d="M483.2 115L486.1 112L483.2 110.3L480.3 113.2ZM626.6 120.1L629.5 118.2L626.7 115.2L623.8 117Z"/>
<path fill="#705c40" stroke="#705c40" stroke-width="0.9" d="M480.3 113.2L483.2 110.3L480.3 108.6L477.5 111.5ZM477.5 111.5L480.3 108.6L477.4 107L474.6 109.9ZM629.5 118.2L632.4 116.6L629.6 113.6L626.7 115.2Z"/>
<path fill="#6c5c3c" stroke="#6c5c3c" stroke-width="0.9" d="M474.6 109.9L477.4 107L474.6 105.6L471.7 108.4Z"/>
<path fill="#685c3c" stroke="#685c3c" stroke-width="0.9" d="M471.7 108.4L474.6 105.6L471.7 104.1L468.9 106.9Z"/>
<path fill="#645c38" stroke="#645c38" stroke-width="0.9" d="M468.9 106.9L471.7 104.1L468.9 102.8L466 105.5ZM640.9 116.5L643.7 115.2L640.9 112.2L638.1 113.6Z"/>
<path fill="#605c38" stroke="#605c38" stroke-width="0.9" d="M466 105.5L468.9 102.8L466 101.6L463.2 104.2Z"/>
<path fill="#5c5830" stroke="#5c5830" stroke-width="0.9" d="M460.4 103L463.2 100.4L460.4 99.3L457.6 101.8Z"/>
<path fill="#585830" stroke="#585830" stroke-width="0.9" d="M457.6 101.8L460.4 99.3L457.6 98.2L454.8 100.7ZM652.1 115.8L654.9 114.8L652.1 111.9L649.3 112.8ZM649.3 112.8L652.1 111.9L649.3 109.1L646.5 110Z"/>
<path fill="#54542c" stroke="#54542c" stroke-width="0.9" d="M454.8 100.7L457.6 98.2L454.8 97.3L452 99.7ZM457.6 98.2L460.4 95.9L457.7 95L454.8 97.3ZM646.5 110L649.3 109.1L646.5 106.4L643.7 107.3Z"/>
<path fill="#4c5428" stroke="#4c5428" stroke-width="0.9" d="M452 99.7L454.8 97.3L452.1 96.4L449.2 98.8Z"/>
<path fill="#283018" stroke="#283018" stroke-width="0.9" d="M449.2 98.8L452.1 96.4L449.3 95.6L446.5 97.9Z"/>
<path fill="#808c48" stroke="#808c48" stroke-width="0.9" d="M547.6 168.2L550.5 164.3L547.6 160.8L544.7 164.6ZM553.4 168L556.3 164.1L553.4 160.5L550.5 164.3ZM570.7 167.8L573.7 164.2L570.8 160.4L567.9 164ZM591 165.2L593.9 161.7L591.1 157.8L588.2 161.2Z"/>
<path fill="#888450" stroke="#888450" stroke-width="0.9" d="M533 151.2L535.9 147.6L533 144.5L530.1 148.1ZM591.3 150.8L594.2 147.6L591.4 144L588.4 147.1Z"/>
<path fill="#887c50" stroke="#887c50" stroke-width="0.9" d="M527.2 145.1L530 141.5L527.1 138.6L524.2 142.2ZM533 144.5L535.9 141L532.9 138L530 141.5ZM538.8 144L541.7 140.5L538.8 137.5L535.9 141ZM544.7 143.6L547.6 140.2L544.6 137.1L541.7 140.5ZM550.5 143.3L553.4 139.9L550.5 136.8L547.6 140.2ZM556.4 143.1L559.3 139.7L556.4 136.6L553.4 139.9ZM562.2 143L565.2 139.7L562.2 136.5L559.3 139.7ZM568.1 143L571 139.7L568.1 136.5L565.2 139.7ZM573.9 143.1L576.9 139.9L574 136.6L571 139.7ZM579.7 143.3L582.7 140.1L579.8 136.8L576.9 139.9ZM585.6 143.6L588.5 140.5L585.7 137.1L582.7 140.1ZM591.4 144L594.4 141L591.5 137.6L588.5 140.5ZM597.2 144.6L600.2 141.6L597.3 138.1L594.4 141Z"/>
<path fill="#745c40" stroke="#745c40" stroke-width="0.9" d="M489 113.8L491.9 110.8L489 109.1L486.1 112ZM620.9 118.9L623.8 117L620.9 114L618 115.8Z"/>
<path fill="#745840" stroke="#745840" stroke-width="0.9" d="M486.1 112L489 109.1L486.1 107.4L483.2 110.3ZM618 115.8L620.9 114L618.1 111.1L615.2 112.9Z"/>
<path fill="#70583c" stroke="#70583c" stroke-width="0.9" d="M483.2 110.3L486.1 107.4L483.2 105.8L480.3 108.6Z"/>
<path fill="#6c583c" stroke="#6c583c" stroke-width="0.9" d="M480.3 108.6L483.2 105.8L480.3 104.3L477.4 107ZM632.4 116.6L635.3 115L632.4 112.1L629.6 113.6Z"/>
<path fill="#6c543c" stroke="#6c543c" stroke-width="0.9" d="M477.4 107L480.3 104.3L477.4 102.8L474.6 105.6ZM629.6 113.6L632.4 112.1L629.6 109.2L626.7 110.7Z"/>
<path fill="#685438" stroke="#685438" stroke-width="0.9" d="M474.6 105.6L477.4 102.8L474.6 101.5L471.7 104.1Z"/>
<path fill="#645438" stroke="#645438" stroke-width="0.9" d="M471.7 104.1L474.6 101.5L471.7 100.2L468.9 102.8Z"/>
<path fill="#605834" stroke="#605834" stroke-width="0.9" d="M468.9 102.8L471.7 100.2L468.9 99L466 101.6Z"/>
<path fill="#5c5834" stroke="#5c5834" stroke-width="0.9" d="M466 101.6L468.9 99L466.1 97.9L463.2 100.4ZM640.9 112.2L643.7 111.1L640.9 108.3L638.1 109.4ZM646.5 113.9L649.3 112.8L646.5 110L643.7 111.1Z"/>
<path fill="#585430" stroke="#585430" stroke-width="0.9" d="M463.2 100.4L466.1 97.9L463.2 96.8L460.4 99.3ZM468.9 99L471.7 96.6L468.9 95.5L466.1 97.9ZM643.7 111.1L646.5 110L643.7 107.3L640.9 108.3Z"/>
<path fill="#545430" stroke="#545430" stroke-width="0.9" d="M460.4 99.3L463.2 96.8L460.4 95.9L457.6 98.2ZM466.1 97.9L468.9 95.5L466.1 94.5L463.2 96.8Z"/>
<path fill="#444824" stroke="#444824" stroke-width="0.9" d="M454.8 97.3L457.7 95L454.9 94.1L452.1 96.4ZM649.2 105.7L651.9 105.1L649.1 102.7L646.4 103.2Z"/>
<path fill="#242c14" stroke="#242c14" stroke-width="0.9" d="M452.1 96.4L454.9 94.1L452.2 93.4L449.3 95.6Z"/>
<path fill="#8c8450" stroke="#8c8450" stroke-width="0.9" d="M541.8 154L544.7 150.3L541.7 147.1L538.8 150.7ZM547.6 153.6L550.5 150L547.6 146.8L544.7 150.3ZM553.4 153.4L556.3 149.8L553.4 146.5L550.5 150ZM559.2 153.2L562.2 149.7L559.3 146.3L556.3 149.8ZM565.1 153.2L568 149.7L565.1 146.3L562.2 149.7ZM570.9 153.2L573.8 149.8L570.9 146.3L568 149.7ZM576.7 153.4L579.7 150L576.8 146.5L573.8 149.8ZM582.5 153.7L585.5 150.3L582.6 146.8L579.7 150Z"/>
<path fill="#7c6848" stroke="#7c6848" stroke-width="0.9" d="M509.4 123.2L512.3 120L509.4 117.8L506.5 120.9ZM515.3 122.3L518.2 119.2L515.2 117L512.3 120ZM600.5 123.6L603.4 121.2L600.6 118.2L597.6 120.6ZM606.3 124.4L609.2 122.1L606.4 119L603.4 121.2Z"/>
<path fill="#7c6448" stroke="#7c6448" stroke-width="0.9" d="M506.5 120.9L509.4 117.8L506.4 115.7L503.6 118.7ZM512.3 120L515.2 117L512.3 114.8L509.4 117.8ZM518.2 119.2L521.1 116.2L518.1 114L515.2 117ZM603.4 121.2L606.4 119L603.5 116L600.6 118.2Z"/>
<path fill="#7c6044" stroke="#7c6044" stroke-width="0.9" d="M503.6 118.7L506.4 115.7L503.5 113.6L500.6 116.6ZM606.4 119L609.3 116.8L606.4 113.9L603.5 116Z"/>
<path fill="#786044" stroke="#786044" stroke-width="0.9" d="M500.6 116.6L503.5 113.6L500.6 111.7L497.7 114.6ZM612.2 119.9L615.1 117.8L612.3 114.8L609.3 116.8Z"/>
<path fill="#785c40" stroke="#785c40" stroke-width="0.9" d="M497.7 114.6L500.6 111.7L497.7 109.8L494.8 112.7ZM615.1 117.8L618 115.8L615.2 112.9L612.3 114.8Z"/>
<path fill="#785840" stroke="#785840" stroke-width="0.9" d="M494.8 112.7L497.7 109.8L494.7 108L491.9 110.8ZM500.6 111.7L503.5 108.8L500.5 107L497.7 109.8ZM506.4 110.7L509.3 107.9L506.4 106L503.5 108.8ZM612.3 114.8L615.2 112.9L612.3 110.1L609.4 112Z"/>
<path fill="#74583c" stroke="#74583c" stroke-width="0.9" d="M491.9 110.8L494.7 108L491.8 106.3L489 109.1ZM623.8 117L626.7 115.2L623.8 112.3L620.9 114Z"/>
<path fill="#70543c" stroke="#70543c" stroke-width="0.9" d="M489 109.1L491.8 106.3L488.9 104.6L486.1 107.4ZM486.1 107.4L488.9 104.6L486 103.1L483.2 105.8ZM620.9 114L623.8 112.3L621 109.5L618.1 111.1ZM626.7 115.2L629.6 113.6L626.7 110.7L623.8 112.3Z"/>
<path fill="#6c5038" stroke="#6c5038" stroke-width="0.9" d="M483.2 105.8L486 103.1L483.2 101.6L480.3 104.3Z"/>
<path fill="#685038" stroke="#685038" stroke-width="0.9" d="M480.3 104.3L483.2 101.6L480.3 100.2L477.4 102.8ZM632.4 112.1L635.3 110.7L632.4 107.9L629.6 109.2Z"/>
<path fill="#645038" stroke="#645038" stroke-width="0.9" d="M477.4 102.8L480.3 100.2L477.4 98.9L474.6 101.5Z"/>
<path fill="#605034" stroke="#605034" stroke-width="0.9" d="M474.6 101.5L477.4 98.9L474.6 97.7L471.7 100.2Z"/>
<path fill="#5c5034" stroke="#5c5034" stroke-width="0.9" d="M471.7 100.2L474.6 97.7L471.7 96.6L468.9 99ZM638.1 109.4L640.9 108.3L638.1 105.6L635.3 106.7Z"/>
<path fill="#50502c" stroke="#50502c" stroke-width="0.9" d="M463.2 96.8L466.1 94.5L463.3 93.6L460.4 95.9ZM460.4 95.9L463.3 93.6L460.5 92.7L457.7 95ZM468.9 95.5L471.8 93.2L469 92.3L466.1 94.5ZM643.7 107.3L646.5 106.4L643.6 103.9L640.9 104.7ZM649.3 109.1L652 108.3L649.2 105.7L646.5 106.4Z"/>
<path fill="#3c3c20" stroke="#3c3c20" stroke-width="0.9" d="M457.7 95L460.5 92.7L457.8 92L454.9 94.1ZM469.1 89.3L472 87.4L469.2 86.7L466.3 88.6ZM643.5 100.8L646.2 100.4L643.4 98.1L640.7 98.6Z"/>
<path fill="#181c10" stroke="#181c10" stroke-width="0.9" d="M454.9 94.1L457.8 92L455 91.3L452.2 93.4Z"/>
<path fill="#80704c" stroke="#80704c" stroke-width="0.9" d="M524.1 129.8L527 126.5L524.1 124L521.2 127.2ZM521.2 127.2L524.1 124L521.1 121.6L518.2 124.7ZM530 129.1L532.9 125.9L529.9 123.4L527 126.5ZM527 126.5L529.9 123.4L527 120.9L524.1 124ZM585.8 131L588.7 128.2L585.8 125.1L582.9 127.8ZM588.7 128.2L591.7 125.5L588.8 122.5L585.8 125.1ZM594.6 128.7L597.5 126.1L594.6 123L591.7 125.5ZM600.4 129.3L603.4 126.8L600.5 123.6L597.5 126.1Z"/>
<path fill="#806c4c" stroke="#806c4c" stroke-width="0.9" d="M518.2 124.7L521.1 121.6L518.2 119.2L515.3 122.3ZM524.1 124L527 120.9L524 118.5L521.1 121.6ZM591.7 125.5L594.6 123L591.8 120L588.8 122.5Z"/>
<path fill="#7c6048" stroke="#7c6048" stroke-width="0.9" d="M509.4 117.8L512.3 114.8L509.3 112.7L506.4 115.7ZM515.2 117L518.1 114L515.2 111.9L512.3 114.8ZM524 118.5L527 115.5L524 113.3L521.1 116.2ZM600.6 118.2L603.5 116L600.6 113.2L597.7 115.3Z"/>
<path fill="#7c5c44" stroke="#7c5c44" stroke-width="0.9" d="M506.4 115.7L509.3 112.7L506.4 110.7L503.5 113.6ZM512.3 114.8L515.2 111.9L512.2 109.8L509.3 112.7Z"/>
<path fill="#785844" stroke="#785844" stroke-width="0.9" d="M503.5 113.6L506.4 110.7L503.5 108.8L500.6 111.7ZM509.3 112.7L512.2 109.8L509.3 107.9L506.4 110.7ZM515.2 111.9L518.1 109L515.2 107.1L512.2 109.8ZM606.4 113.9L609.4 112L606.5 109.2L603.6 111.1Z"/>
<path fill="#745440" stroke="#745440" stroke-width="0.9" d="M497.7 109.8L500.5 107L497.6 105.2L494.7 108ZM609.4 112L612.3 110.1L609.4 107.4L606.5 109.2Z"/>
<path fill="#74503c" stroke="#74503c" stroke-width="0.9" d="M494.7 108L497.6 105.2L494.7 103.6L491.8 106.3ZM500.5 107L503.5 104.2L500.5 102.5L497.6 105.2ZM615.2 112.9L618.1 111.1L615.2 108.4L612.3 110.1Z"/>
<path fill="#70503c" stroke="#70503c" stroke-width="0.9" d="M491.8 106.3L494.7 103.6L491.8 102L488.9 104.6Z"/>
<path fill="#6c4c38" stroke="#6c4c38" stroke-width="0.9" d="M488.9 104.6L491.8 102L488.9 100.5L486 103.1ZM486 103.1L488.9 100.5L486 99.1L483.2 101.6ZM621 109.5L623.9 107.9L621 105.3L618.1 106.8ZM626.7 110.7L629.6 109.2L626.7 106.5L623.9 107.9Z"/>
<path fill="#684c34" stroke="#684c34" stroke-width="0.9" d="M483.2 101.6L486 99.1L483.2 97.7L480.3 100.2Z"/>
<path fill="#644834" stroke="#644834" stroke-width="0.9" d="M480.3 100.2L483.2 97.7L480.3 96.5L477.4 98.9Z"/>
<path fill="#604c34" stroke="#604c34" stroke-width="0.9" d="M477.4 98.9L480.3 96.5L477.5 95.3L474.6 97.7ZM632.4 107.9L635.3 106.7L632.4 104.1L629.6 105.2Z"/>
<path fill="#5c4c34" stroke="#5c4c34" stroke-width="0.9" d="M474.6 97.7L477.5 95.3L474.6 94.2L471.7 96.6Z"/>
<path fill="#544c30" stroke="#544c30" stroke-width="0.9" d="M471.7 96.6L474.6 94.2L471.8 93.2L468.9 95.5ZM638.1 105.6L640.9 104.7L638 102.2L635.2 103.1Z"/>
<path fill="#504c2c" stroke="#504c2c" stroke-width="0.9" d="M466.1 94.5L469 92.3L466.2 91.4L463.3 93.6ZM471.8 93.2L474.7 91L471.9 90.1L469 92.3Z"/>
<path fill="#4c4c28" stroke="#4c4c28" stroke-width="0.9" d="M463.3 93.6L466.2 91.4L463.4 90.6L460.5 92.7ZM646.5 106.4L649.2 105.7L646.4 103.2L643.6 103.9Z"/>
<path fill="#34341c" stroke="#34341c" stroke-width="0.9" d="M460.5 92.7L463.4 90.6L460.6 89.9L457.8 92ZM640.7 98.6L643.4 98.1L640.5 96L637.8 96.4Z"/>
<path fill="#18180c" stroke="#18180c" stroke-width="0.9" d="M457.8 92L460.6 89.9L457.9 89.3L455 91.3ZM480.7 82.1L483.7 80.6L480.9 80.2L477.9 81.6ZM632 92.4L634.7 92.1L631.8 90.4L629.1 90.5ZM640.5 96L643.2 95.8L640.3 93.9L637.6 94Z"/>
<path fill="#84744c" stroke="#84744c" stroke-width="0.9" d="M535.9 134.6L538.8 131.3L535.8 128.6L532.9 131.9ZM541.7 134.2L544.6 130.9L541.7 128.1L538.8 131.3ZM582.8 133.8L585.8 131L582.9 127.8L579.9 130.6Z"/>
<path fill="#80684c" stroke="#80684c" stroke-width="0.9" d="M521.1 121.6L524 118.5L521.1 116.2L518.2 119.2ZM529.9 123.4L532.9 120.3L529.9 117.9L527 120.9ZM535.8 122.8L538.7 119.8L535.8 117.3L532.9 120.3Z"/>
<path fill="#785440" stroke="#785440" stroke-width="0.9" d="M503.5 108.8L506.4 106L503.5 104.2L500.5 107Z"/>
<path fill="#744c3c" stroke="#744c3c" stroke-width="0.9" d="M497.6 105.2L500.5 102.5L497.6 100.9L494.7 103.6ZM503.5 104.2L506.4 101.6L503.4 100L500.5 102.5ZM509.3 103.3L512.2 100.8L509.3 99.1L506.4 101.6ZM612.3 110.1L615.2 108.4L612.3 105.7L609.4 107.4Z"/>
<path fill="#704838" stroke="#704838" stroke-width="0.9" d="M494.7 103.6L497.6 100.9L494.7 99.4L491.8 102ZM500.5 102.5L503.4 100L500.5 98.4L497.6 100.9ZM506.4 101.6L509.3 99.1L506.4 97.5L503.4 100ZM512.2 100.8L515.1 98.3L512.2 96.7L509.3 99.1ZM615.2 108.4L618.1 106.8L615.2 104.2L612.3 105.7Z"/>
<path fill="#6c4838" stroke="#6c4838" stroke-width="0.9" d="M491.8 102L494.7 99.4L491.8 98L488.9 100.5Z"/>
<path fill="#684434" stroke="#684434" stroke-width="0.9" d="M488.9 100.5L491.8 98L488.9 96.6L486 99.1Z"/>
<path fill="#644434" stroke="#644434" stroke-width="0.9" d="M486 99.1L488.9 96.6L486.1 95.3L483.2 97.7ZM626.7 106.5L629.6 105.2L626.7 102.7L623.9 103.9Z"/>
<path fill="#604434" stroke="#604434" stroke-width="0.9" d="M483.2 97.7L486.1 95.3L483.2 94.1L480.3 96.5Z"/>
<path fill="#5c4830" stroke="#5c4830" stroke-width="0.9" d="M480.3 96.5L483.2 94.1L480.3 93L477.5 95.3Z"/>
<path fill="#584830" stroke="#584830" stroke-width="0.9" d="M477.5 95.3L480.3 93L477.5 92L474.6 94.2Z"/>
<path fill="#544830" stroke="#544830" stroke-width="0.9" d="M474.6 94.2L477.5 92L474.7 91L471.8 93.2Z"/>
<path fill="#4c4828" stroke="#4c4828" stroke-width="0.9" d="M469 92.3L471.9 90.1L469.1 89.3L466.2 91.4Z"/>
<path fill="#484828" stroke="#484828" stroke-width="0.9" d="M466.2 91.4L469.1 89.3L466.3 88.6L463.4 90.6ZM643.6 103.9L646.4 103.2L643.5 100.8L640.8 101.4Z"/>
<path fill="#2c2c18" stroke="#2c2c18" stroke-width="0.9" d="M463.4 90.6L466.3 88.6L463.5 87.9L460.6 89.9ZM480.6 84.4L483.5 82.7L480.7 82.1L477.8 83.8Z"/>
<path fill="#14180c" stroke="#14180c" stroke-width="0.9" d="M460.6 89.9L463.5 87.9L460.8 87.4L457.9 89.3ZM651.8 102.3L654.4 102.1L651.6 99.9L648.9 100Z"/>
<path fill="#040404" stroke="#040404" stroke-width="0.9" d="M457.9 89.3L460.8 87.4L458.1 86.9L455.2 88.7ZM460.8 87.4L463.7 85.6L461 85.1L458.1 86.9ZM463.7 85.6L466.6 83.9L463.9 83.5L461 85.1ZM481 78.6L484 77.4L481.2 77.2L478.3 78.3ZM486.8 77.6L489.7 76.5L486.9 76.4L484 77.4ZM484 77.4L486.9 76.4L484.2 76.3L481.2 77.2ZM492.5 76.8L495.4 75.8L492.6 75.6L489.7 76.5ZM489.7 76.5L492.6 75.6L489.9 75.4L486.9 76.4ZM498.2 76L501.2 75.1L498.4 74.8L495.4 75.8ZM495.4 75.8L498.4 74.8L495.6 74.7L492.6 75.6ZM504 75.3L506.9 74.4L504.1 74.2L501.2 75.1ZM501.2 75.1L504.1 74.2L501.3 74.1L498.4 74.8ZM512.6 75.2L515.6 74.2L512.7 73.9L509.8 74.8ZM509.8 74.8L512.7 73.9L509.9 73.7L506.9 74.4ZM506.9 74.4L509.9 73.7L507.1 73.5L504.1 74.2ZM504.1 74.2L507.1 73.5L504.3 73.4L501.3 74.1ZM518.4 74.7L521.4 73.8L518.5 73.5L515.6 74.2ZM515.6 74.2L518.5 73.5L515.7 73.2L512.7 73.9ZM512.7 73.9L515.7 73.2L512.8 73L509.9 73.7ZM509.9 73.7L512.8 73L510 72.9L507.1 73.5ZM524.2 74.3L527.2 73.5L524.3 73.1L521.4 73.8ZM521.4 73.8L524.3 73.1L521.4 72.8L518.5 73.5ZM518.5 73.5L521.4 72.8L518.6 72.6L515.7 73.2ZM515.7 73.2L518.6 72.6L515.8 72.5L512.8 73ZM530.1 74L533 73.3L530.1 72.9L527.2 73.5ZM527.2 73.5L530.1 72.9L527.2 72.5L524.3 73.1ZM524.3 73.1L527.2 72.5L524.4 72.3L521.4 72.8ZM521.4 72.8L524.4 72.3L521.5 72.2L518.6 72.6ZM538.8 74.4L541.7 73.7L538.8 73.1L535.9 73.8ZM535.9 73.8L538.8 73.1L535.9 72.7L533 73.3ZM533 73.3L535.9 72.7L533 72.4L530.1 72.9ZM530.1 72.9L533 72.4L530.2 72.1L527.2 72.5ZM527.2 72.5L530.2 72.1L527.3 71.9L524.4 72.3ZM524.4 72.3L527.3 71.9L524.5 71.8L521.5 72.2ZM544.6 74.3L547.6 73.7L544.7 73.1L541.7 73.7ZM541.7 73.7L544.7 73.1L541.7 72.6L538.8 73.1ZM538.8 73.1L541.7 72.6L538.9 72.3L535.9 72.7ZM535.9 72.7L538.9 72.3L536 72L533 72.4ZM533 72.4L536 72L533.1 71.8L530.2 72.1ZM530.2 72.1L533.1 71.8L530.2 71.7L527.3 71.9ZM550.5 74.3L553.4 73.8L550.5 73.2L547.6 73.7ZM547.6 73.7L550.5 73.2L547.6 72.7L544.7 73.1ZM544.7 73.1L547.6 72.7L544.7 72.3L541.7 72.6ZM541.7 72.6L544.7 72.3L541.8 72L538.9 72.3ZM538.9 72.3L541.8 72L538.9 71.7L536 72ZM536 72L538.9 71.7L536 71.6L533.1 71.8ZM556.3 74.4L559.2 74L556.3 73.3L553.4 73.8ZM553.4 73.8L556.3 73.3L553.4 72.8L550.5 73.2ZM550.5 73.2L553.4 72.8L550.5 72.4L547.6 72.7ZM547.6 72.7L550.5 72.4L547.6 72.1L544.7 72.3ZM544.7 72.3L547.6 72.1L544.7 71.8L541.8 72ZM541.8 72L544.7 71.8L541.8 71.6L538.9 71.7ZM565.1 75.5L568 75L565.1 74.3L562.2 74.7ZM562.2 74.7L565.1 74.3L562.1 73.6L559.2 74ZM559.2 74L562.1 73.6L559.2 73.1L556.3 73.3ZM556.3 73.3L559.2 73.1L556.3 72.6L553.4 72.8ZM553.4 72.8L556.3 72.6L553.4 72.2L550.5 72.4ZM550.5 72.4L553.4 72.2L550.5 72L547.6 72.1ZM547.6 72.1L550.5 72L547.6 71.8L544.7 71.8ZM571 75.9L573.8 75.5L570.9 74.7L568 75ZM568 75L570.9 74.7L567.9 74L565.1 74.3ZM565.1 74.3L567.9 74L565 73.4L562.1 73.6ZM562.1 73.6L565 73.4L562.1 72.9L559.2 73.1ZM559.2 73.1L562.1 72.9L559.1 72.5L556.3 72.6ZM556.3 72.6L559.1 72.5L556.2 72.2L553.4 72.2ZM553.4 72.2L556.2 72.2L553.3 72L550.5 72ZM576.8 76.3L579.7 76L576.7 75.2L573.8 75.5ZM573.8 75.5L576.7 75.2L573.7 74.5L570.9 74.7ZM570.9 74.7L573.7 74.5L570.8 73.9L567.9 74ZM567.9 74L570.8 73.9L567.9 73.4L565 73.4ZM565 73.4L567.9 73.4L564.9 72.9L562.1 72.9ZM562.1 72.9L564.9 72.9L562 72.6L559.1 72.5ZM585.6 77.9L588.4 77.7L585.5 76.7L582.6 76.9ZM582.6 76.9L585.5 76.7L582.5 75.9L579.7 76ZM579.7 76L582.5 75.9L579.5 75.1L576.7 75.2ZM576.7 75.2L579.5 75.1L576.6 74.5L573.7 74.5ZM573.7 74.5L576.6 74.5L573.6 73.9L570.8 73.9ZM570.8 73.9L573.6 73.9L570.7 73.4L567.9 73.4ZM567.9 73.4L570.7 73.4L567.8 73.1L564.9 72.9ZM591.4 78.7L594.2 78.5L591.2 77.5L588.4 77.7ZM588.4 77.7L591.2 77.5L588.3 76.6L585.5 76.7ZM585.5 76.7L588.3 76.6L585.3 75.8L582.5 75.9ZM582.5 75.9L585.3 75.8L582.4 75.1L579.5 75.1ZM579.5 75.1L582.4 75.1L579.4 74.6L576.6 74.5ZM576.6 74.5L579.4 74.6L576.5 74.1L573.6 73.9ZM573.6 73.9L576.5 74.1L573.5 73.7L570.7 73.4ZM597.2 79.6L600 79.4L597 78.4L594.2 78.5ZM594.2 78.5L597 78.4L594 77.5L591.2 77.5ZM591.2 77.5L594 77.5L591.1 76.7L588.3 76.6ZM588.3 76.6L591.1 76.7L588.1 75.9L585.3 75.8ZM585.3 75.8L588.1 75.9L585.2 75.3L582.4 75.1ZM582.4 75.1L585.2 75.3L582.2 74.8L579.4 74.6ZM605.9 81.8L608.7 81.7L605.7 80.5L602.9 80.6ZM602.9 80.6L605.7 80.5L602.7 79.5L600 79.4ZM600 79.4L602.7 79.5L599.8 78.5L597 78.4ZM597 78.4L599.8 78.5L596.8 77.6L594 77.5ZM594 77.5L596.8 77.6L593.9 76.9L591.1 76.7ZM591.1 76.7L593.9 76.9L590.9 76.2L588.1 75.9ZM611.6 83L614.4 82.9L611.4 81.7L608.7 81.7ZM608.7 81.7L611.4 81.7L608.5 80.6L605.7 80.5ZM605.7 80.5L608.5 80.6L605.5 79.6L602.7 79.5ZM602.7 79.5L605.5 79.6L602.5 78.7L599.8 78.5ZM599.8 78.5L602.5 78.7L599.6 77.9L596.8 77.6ZM617.3 84.2L620 84.3L617.1 83L614.4 82.9ZM614.4 82.9L617.1 83L614.1 81.9L611.4 81.7ZM611.4 81.7L614.1 81.9L611.2 80.8L608.5 80.6ZM608.5 80.6L611.2 80.8L608.2 79.9L605.5 79.6ZM625.9 87.1L628.6 87.2L625.7 85.8L623 85.6ZM623 85.6L625.7 85.8L622.8 84.5L620 84.3ZM620 84.3L622.8 84.5L619.8 83.3L617.1 83ZM634.5 90.3L637.2 90.4L634.2 88.9L631.6 88.7ZM631.6 88.7L634.2 88.9L631.3 87.4L628.6 87.2ZM628.6 87.2L631.3 87.4L628.4 86.1L625.7 85.8ZM657.3 104.4L659.9 104.3L657.1 102L654.4 102.1ZM654.4 102.1L657.1 102L654.2 99.8L651.6 99.9ZM651.6 99.9L654.2 99.8L651.4 97.8L648.7 97.8ZM648.7 97.8L651.4 97.8L648.5 95.8L645.8 95.8ZM645.8 95.8L648.5 95.8L645.6 94L643 93.9Z"/>
<path fill="#847050" stroke="#847050" stroke-width="0.9" d="M538.8 131.3L541.7 128.1L538.8 125.4L535.8 128.6ZM544.6 130.9L547.6 127.8L544.6 125L541.7 128.1ZM550.5 130.6L553.5 127.5L550.5 124.7L547.6 127.8ZM556.4 130.4L559.3 127.4L556.4 124.5L553.5 127.5ZM562.3 130.3L565.2 127.3L562.3 124.4L559.3 127.4ZM568.2 130.3L571.1 127.4L568.2 124.4L565.2 127.3ZM574 130.4L577 127.5L574.1 124.5L571.1 127.4ZM579.9 130.6L582.9 127.8L580 124.8L577 127.5Z"/>
<path fill="#807050" stroke="#807050" stroke-width="0.9" d="M535.8 128.6L538.8 125.4L535.8 122.8L532.9 125.9ZM541.7 128.1L544.6 125L541.7 122.4L538.8 125.4ZM582.9 127.8L585.8 125.1L582.9 122.1L580 124.8Z"/>
<path fill="#806c50" stroke="#806c50" stroke-width="0.9" d="M532.9 125.9L535.8 122.8L532.9 120.3L529.9 123.4ZM538.8 125.4L541.7 122.4L538.7 119.8L535.8 122.8ZM577 127.5L580 124.8L577 121.8L574.1 124.5ZM585.8 125.1L588.8 122.5L585.9 119.5L582.9 122.1Z"/>
<path fill="#80644c" stroke="#80644c" stroke-width="0.9" d="M527 120.9L529.9 117.9L527 115.5L524 118.5ZM541.7 122.4L544.6 119.4L541.7 116.9L538.7 119.8ZM582.9 122.1L585.9 119.5L583 116.7L580 119.2Z"/>
<path fill="#7c5c48" stroke="#7c5c48" stroke-width="0.9" d="M521.1 116.2L524 113.3L521.1 111.1L518.1 114ZM529.9 117.9L532.8 115L529.9 112.7L527 115.5ZM535.8 117.3L538.7 114.5L535.8 112.1L532.8 115ZM588.9 117.1L591.8 114.7L588.9 112L585.9 114.3ZM594.7 117.6L597.7 115.3L594.8 112.5L591.8 114.7Z"/>
<path fill="#7c5848" stroke="#7c5848" stroke-width="0.9" d="M518.1 114L521.1 111.1L518.1 109L515.2 111.9ZM527 115.5L529.9 112.7L526.9 110.5L524 113.3ZM524 113.3L526.9 110.5L524 108.4L521.1 111.1ZM532.8 115L535.8 112.1L532.8 109.9L529.9 112.7ZM541.7 116.9L544.6 114.1L541.7 111.7L538.7 114.5ZM571.2 116.2L574.2 113.7L571.2 111.1L568.3 113.6ZM577.1 116.4L580.1 113.9L577.1 111.3L574.2 113.7ZM583 116.7L585.9 114.3L583 111.6L580.1 113.9ZM591.8 114.7L594.8 112.5L591.8 109.8L588.9 112Z"/>
<path fill="#785444" stroke="#785444" stroke-width="0.9" d="M512.2 109.8L515.2 107.1L512.2 105.2L509.3 107.9ZM594.8 112.5L597.7 110.4L594.8 107.7L591.8 109.8ZM600.6 113.2L603.6 111.1L600.6 108.4L597.7 110.4Z"/>
<path fill="#785040" stroke="#785040" stroke-width="0.9" d="M509.3 107.9L512.2 105.2L509.3 103.3L506.4 106ZM515.2 107.1L518.1 104.4L515.1 102.5L512.2 105.2ZM591.8 109.8L594.8 107.7L591.9 105.2L588.9 107.2ZM597.7 110.4L600.6 108.4L597.7 105.8L594.8 107.7ZM603.6 111.1L606.5 109.2L603.6 106.5L600.6 108.4Z"/>
<path fill="#745040" stroke="#745040" stroke-width="0.9" d="M506.4 106L509.3 103.3L506.4 101.6L503.5 104.2ZM606.5 109.2L609.4 107.4L606.5 104.8L603.6 106.5Z"/>
<path fill="#6c4438" stroke="#6c4438" stroke-width="0.9" d="M497.6 100.9L500.5 98.4L497.6 97L494.7 99.4ZM503.4 100L506.4 97.5L503.4 96L500.5 98.4ZM509.3 99.1L512.2 96.7L509.3 95.2L506.4 97.5ZM515.1 98.3L518.1 96L515.1 94.4L512.2 96.7ZM612.3 105.7L615.2 104.2L612.3 101.7L609.4 103.2Z"/>
<path fill="#6c4434" stroke="#6c4434" stroke-width="0.9" d="M494.7 99.4L497.6 97L494.7 95.6L491.8 98ZM618.1 106.8L621 105.3L618.1 102.7L615.2 104.2Z"/>
<path fill="#684034" stroke="#684034" stroke-width="0.9" d="M491.8 98L494.7 95.6L491.8 94.3L488.9 96.6ZM600.7 99.9L603.6 98.4L600.6 96.1L597.7 97.6ZM621 105.3L623.9 103.9L621 101.4L618.1 102.7Z"/>
<path fill="#604030" stroke="#604030" stroke-width="0.9" d="M488.9 96.6L491.8 94.3L489 93L486.1 95.3ZM623.9 103.9L626.7 102.7L623.8 100.2L621 101.4Z"/>
<path fill="#5c4030" stroke="#5c4030" stroke-width="0.9" d="M486.1 95.3L489 93L486.1 91.9L483.2 94.1ZM626.7 102.7L629.5 101.6L626.6 99.2L623.8 100.2Z"/>
<path fill="#584430" stroke="#584430" stroke-width="0.9" d="M483.2 94.1L486.1 91.9L483.3 90.8L480.3 93ZM632.4 104.1L635.2 103.1L632.3 100.6L629.5 101.6Z"/>
<path fill="#544430" stroke="#544430" stroke-width="0.9" d="M480.3 93L483.3 90.8L480.4 89.8L477.5 92Z"/>
<path fill="#50442c" stroke="#50442c" stroke-width="0.9" d="M477.5 92L480.4 89.8L477.6 88.9L474.7 91Z"/>
<path fill="#4c482c" stroke="#4c482c" stroke-width="0.9" d="M474.7 91L477.6 88.9L474.8 88.1L471.9 90.1ZM638 102.2L640.8 101.4L637.9 99.1L635.1 99.8Z"/>
<path fill="#484428" stroke="#484428" stroke-width="0.9" d="M471.9 90.1L474.8 88.1L472 87.4L469.1 89.3ZM477.6 88.9L480.5 87L477.7 86.2L474.8 88.1ZM635.1 99.8L637.9 99.1L635 96.9L632.3 97.5Z"/>
<path fill="#282814" stroke="#282814" stroke-width="0.9" d="M466.3 88.6L469.2 86.7L466.4 86.1L463.5 87.9Z"/>
<path fill="#101408" stroke="#101408" stroke-width="0.9" d="M463.5 87.9L466.4 86.1L463.7 85.6L460.8 87.4ZM637.6 94L640.3 93.9L637.4 92L634.7 92.1Z"/>
<path fill="#847450" stroke="#847450" stroke-width="0.9" d="M547.6 133.8L550.5 130.6L547.6 127.8L544.6 130.9ZM553.5 133.6L556.4 130.4L553.5 127.5L550.5 130.6ZM559.3 133.4L562.3 130.3L559.3 127.4L556.4 130.4ZM565.2 133.4L568.2 130.3L565.2 127.3L562.3 130.3ZM571.1 133.4L574 130.4L571.1 127.4L568.2 130.3ZM576.9 133.6L579.9 130.6L577 127.5L574 130.4Z"/>
<path fill="#80604c" stroke="#80604c" stroke-width="0.9" d="M532.9 120.3L535.8 117.3L532.8 115L529.9 117.9ZM538.7 119.8L541.7 116.9L538.7 114.5L535.8 117.3ZM547.6 122L550.5 119.1L547.6 116.6L544.6 119.4ZM553.5 121.8L556.4 118.9L553.5 116.3L550.5 119.1ZM559.4 121.6L562.3 118.8L559.4 116.2L556.4 118.9ZM565.3 121.6L568.2 118.8L565.3 116.1L562.3 118.8ZM571.2 121.6L574.1 119L571.2 116.2L568.2 118.8ZM577 121.8L580 119.2L577.1 116.4L574.1 119Z"/>
<path fill="#7c5444" stroke="#7c5444" stroke-width="0.9" d="M521.1 111.1L524 108.4L521 106.3L518.1 109Z"/>
<path fill="#785044" stroke="#785044" stroke-width="0.9" d="M518.1 109L521 106.3L518.1 104.4L515.2 107.1ZM524 108.4L526.9 105.7L524 103.7L521 106.3ZM588.9 112L591.8 109.8L588.9 107.2L586 109.3Z"/>
<path fill="#744c40" stroke="#744c40" stroke-width="0.9" d="M512.2 105.2L515.1 102.5L512.2 100.8L509.3 103.3ZM518.1 104.4L521 101.8L518.1 100L515.1 102.5ZM594.8 107.7L597.7 105.8L594.8 103.3L591.9 105.2ZM600.6 108.4L603.6 106.5L600.7 104L597.7 105.8Z"/>
<path fill="#6c4034" stroke="#6c4034" stroke-width="0.9" d="M500.5 98.4L503.4 96L500.5 94.6L497.6 97ZM506.4 97.5L509.3 95.2L506.4 93.7L503.4 96ZM512.2 96.7L515.1 94.4L512.2 92.9L509.3 95.2ZM518.1 96L521 93.7L518.1 92.2L515.1 94.4ZM594.8 99.2L597.7 97.6L594.8 95.4L591.9 96.9ZM609.4 103.2L612.3 101.7L609.4 99.3L606.5 100.7ZM615.2 104.2L618.1 102.7L615.2 100.3L612.3 101.7Z"/>
<path fill="#683c34" stroke="#683c34" stroke-width="0.9" d="M497.6 97L500.5 94.6L497.6 93.3L494.7 95.6ZM503.4 96L506.4 93.7L503.5 92.3L500.5 94.6ZM509.3 95.2L512.2 92.9L509.3 91.5L506.4 93.7ZM515.1 94.4L518.1 92.2L515.2 90.8L512.2 92.9ZM521 93.7L524 91.6L521 90.1L518.1 92.2ZM526.9 93.1L529.9 91.1L526.9 89.6L524 91.6ZM586 96.4L588.9 94.8L586 92.8L583 94.3ZM591.9 96.9L594.8 95.4L591.9 93.3L588.9 94.8ZM597.7 97.6L600.6 96.1L597.7 94L594.8 95.4ZM606.5 100.7L609.4 99.3L606.5 97L603.6 98.4ZM612.3 101.7L615.2 100.3L612.3 97.9L609.4 99.3Z"/>
<path fill="#643c30" stroke="#643c30" stroke-width="0.9" d="M494.7 95.6L497.6 93.3L494.8 92L491.8 94.3ZM500.5 94.6L503.5 92.3L500.6 91.1L497.6 93.3ZM506.4 93.7L509.3 91.5L506.4 90.2L503.5 92.3ZM603.6 98.4L606.5 97L603.5 94.8L600.6 96.1ZM618.1 102.7L621 101.4L618.1 99L615.2 100.3Z"/>
<path fill="#603c30" stroke="#603c30" stroke-width="0.9" d="M491.8 94.3L494.8 92L491.9 90.8L489 93ZM621 101.4L623.8 100.2L620.9 97.9L618.1 99Z"/>
<path fill="#583c2c" stroke="#583c2c" stroke-width="0.9" d="M489 93L491.9 90.8L489 89.7L486.1 91.9ZM623.8 100.2L626.6 99.2L623.8 96.9L620.9 97.9Z"/>
<path fill="#54402c" stroke="#54402c" stroke-width="0.9" d="M486.1 91.9L489 89.7L486.2 88.7L483.3 90.8ZM629.5 101.6L632.3 100.6L629.5 98.3L626.6 99.2Z"/>
<path fill="#50402c" stroke="#50402c" stroke-width="0.9" d="M483.3 90.8L486.2 88.7L483.3 87.8L480.4 89.8Z"/>
<path fill="#4c402c" stroke="#4c402c" stroke-width="0.9" d="M480.4 89.8L483.3 87.8L480.5 87L477.6 88.9ZM632.3 100.6L635.1 99.8L632.3 97.5L629.5 98.3Z"/>
<path fill="#444024" stroke="#444024" stroke-width="0.9" d="M474.8 88.1L477.7 86.2L474.9 85.5L472 87.4ZM480.5 87L483.4 85.1L480.6 84.4L477.7 86.2ZM637.9 99.1L640.7 98.6L637.8 96.4L635 96.9Z"/>
<path fill="#34301c" stroke="#34301c" stroke-width="0.9" d="M472 87.4L474.9 85.5L472.1 84.9L469.2 86.7Z"/>
<path fill="#202010" stroke="#202010" stroke-width="0.9" d="M469.2 86.7L472.1 84.9L469.3 84.4L466.4 86.1ZM477.8 83.8L480.7 82.1L477.9 81.6L475 83.2Z"/>
<path fill="#101008" stroke="#101008" stroke-width="0.9" d="M466.4 86.1L469.3 84.4L466.6 83.9L463.7 85.6ZM477.9 81.6L480.9 80.2L478.1 79.8L475.2 81.2ZM483.7 80.6L486.6 79.2L483.8 78.8L480.9 80.2ZM489.4 79.7L492.3 78.3L489.5 77.9L486.6 79.2ZM495.1 78.8L498.1 77.5L495.3 77.1L492.3 78.3ZM500.9 78L503.9 76.8L501 76.4L498.1 77.5ZM515.4 77.4L518.3 76.2L515.5 75.6L512.5 76.7ZM614.7 86.1L617.5 85.8L614.6 84.3L611.8 84.6ZM646.1 97.9L648.7 97.8L645.8 95.8L643.2 95.8Z"/>
<path fill="#846c50" stroke="#846c50" stroke-width="0.9" d="M547.6 127.8L550.5 124.7L547.6 122L544.6 125ZM553.5 127.5L556.4 124.5L553.5 121.8L550.5 124.7ZM559.3 127.4L562.3 124.4L559.4 121.6L556.4 124.5ZM565.2 127.3L568.2 124.4L565.3 121.6L562.3 124.4ZM571.1 127.4L574.1 124.5L571.2 121.6L568.2 124.4Z"/>
<path fill="#806850" stroke="#806850" stroke-width="0.9" d="M544.6 125L547.6 122L544.6 119.4L541.7 122.4ZM550.5 124.7L553.5 121.8L550.5 119.1L547.6 122ZM574.1 124.5L577 121.8L574.1 119L571.2 121.6ZM580 124.8L582.9 122.1L580 119.2L577 121.8Z"/>
<path fill="#7c5448" stroke="#7c5448" stroke-width="0.9" d="M529.9 112.7L532.8 109.9L529.9 107.7L526.9 110.5ZM538.7 114.5L541.7 111.7L538.7 109.4L535.8 112.1ZM580.1 113.9L583 111.6L580.1 109L577.1 111.3ZM585.9 114.3L588.9 112L586 109.3L583 111.6Z"/>
<path fill="#7c5044" stroke="#7c5044" stroke-width="0.9" d="M526.9 110.5L529.9 107.7L526.9 105.7L524 108.4ZM535.8 112.1L538.7 109.4L535.8 107.2L532.8 109.9ZM532.8 109.9L535.8 107.2L532.8 105.1L529.9 107.7ZM541.7 111.7L544.6 109.1L541.7 106.8L538.7 109.4ZM577.1 111.3L580.1 109L577.1 106.5L574.2 108.7ZM583 111.6L586 109.3L583 106.8L580.1 109Z"/>
<path fill="#784c40" stroke="#784c40" stroke-width="0.9" d="M521 106.3L524 103.7L521 101.8L518.1 104.4ZM529.9 107.7L532.8 105.1L529.9 103.1L526.9 105.7ZM526.9 105.7L529.9 103.1L526.9 101.2L524 103.7ZM586 109.3L588.9 107.2L586 104.7L583 106.8Z"/>
<path fill="#74483c" stroke="#74483c" stroke-width="0.9" d="M515.1 102.5L518.1 100L515.1 98.3L512.2 100.8ZM524 103.7L526.9 101.2L524 99.4L521 101.8ZM521 101.8L524 99.4L521 97.6L518.1 100ZM586 104.7L588.9 102.7L586 100.4L583.1 102.3ZM591.9 105.2L594.8 103.3L591.9 100.9L588.9 102.7ZM597.7 105.8L600.7 104L597.7 101.5L594.8 103.3Z"/>
<path fill="#603830" stroke="#603830" stroke-width="0.9" d="M497.6 93.3L500.6 91.1L497.7 89.9L494.8 92ZM503.5 92.3L506.4 90.2L503.5 89L500.6 91.1ZM509.3 91.5L512.2 89.4L509.3 88.2L506.4 90.2ZM515.2 90.8L518.1 88.8L515.2 87.5L512.2 89.4ZM521 90.1L524 88.2L521.1 86.8L518.1 88.8ZM600.6 96.1L603.5 94.8L600.6 92.7L597.7 94ZM606.5 97L609.4 95.7L606.4 93.6L603.5 94.8Z"/>
<path fill="#5c382c" stroke="#5c382c" stroke-width="0.9" d="M494.8 92L497.7 89.9L494.8 88.8L491.9 90.8ZM500.6 91.1L503.5 89L500.6 87.8L497.7 89.9ZM618.1 99L620.9 97.9L618 95.7L615.2 96.7Z"/>
<path fill="#543c2c" stroke="#543c2c" stroke-width="0.9" d="M491.9 90.8L494.8 88.8L491.9 87.7L489 89.7Z"/>
<path fill="#503c2c" stroke="#503c2c" stroke-width="0.9" d="M489 89.7L491.9 87.7L489.1 86.8L486.2 88.7ZM626.6 99.2L629.5 98.3L626.6 96.1L623.8 96.9Z"/>
<path fill="#4c3c28" stroke="#4c3c28" stroke-width="0.9" d="M486.2 88.7L489.1 86.8L486.2 85.9L483.3 87.8ZM629.5 98.3L632.3 97.5L629.4 95.4L626.6 96.1Z"/>
<path fill="#483c28" stroke="#483c28" stroke-width="0.9" d="M483.3 87.8L486.2 85.9L483.4 85.1L480.5 87Z"/>
<path fill="#383420" stroke="#383420" stroke-width="0.9" d="M477.7 86.2L480.6 84.4L477.8 83.8L474.9 85.5Z"/>
<path fill="#282414" stroke="#282414" stroke-width="0.9" d="M474.9 85.5L477.8 83.8L475 83.2L472.1 84.9Z"/>
<path fill="#1c1c0c" stroke="#1c1c0c" stroke-width="0.9" d="M472.1 84.9L475 83.2L472.3 82.7L469.3 84.4Z"/>
<path fill="#0c0c08" stroke="#0c0c08" stroke-width="0.9" d="M469.3 84.4L472.3 82.7L469.5 82.3L466.6 83.9ZM486.6 79.2L489.5 77.9L486.8 77.6L483.8 78.8ZM492.3 78.3L495.3 77.1L492.5 76.8L489.5 77.9ZM506.7 77.3L509.7 76.2L506.8 75.7L503.9 76.8ZM512.5 76.7L515.5 75.6L512.6 75.2L509.7 76.2ZM600.3 82.4L603.1 82L600.1 80.8L597.3 81.1ZM606 83.4L608.8 83.1L605.9 81.8L603.1 82ZM611.8 84.6L614.6 84.3L611.6 83L608.8 83.1ZM626.1 88.8L628.9 88.7L625.9 87.1L623.2 87.2ZM634.7 92.1L637.4 92L634.5 90.3L631.8 90.4Z"/>
<path fill="#040400" stroke="#040400" stroke-width="0.9" d="M466.6 83.9L469.5 82.3L466.8 82L463.9 83.5ZM469.5 82.3L472.4 80.9L469.7 80.6L466.8 82ZM472.4 80.9L475.4 79.5L472.6 79.3L469.7 80.6ZM475.4 79.5L478.3 78.3L475.6 78.2L472.6 79.3ZM478.3 78.3L481.2 77.2L478.5 77.2L475.6 78.2ZM481.2 77.2L484.2 76.3L481.5 76.2L478.5 77.2ZM486.9 76.4L489.9 75.4L487.1 75.4L484.2 76.3ZM484.2 76.3L487.1 75.4L484.4 75.5L481.5 76.2ZM492.6 75.6L495.6 74.7L492.8 74.7L489.9 75.4ZM489.9 75.4L492.8 74.7L490.1 74.7L487.1 75.4ZM487.1 75.4L490.1 74.7L487.4 74.8L484.4 75.5ZM498.4 74.8L501.3 74.1L498.5 74L495.6 74.7ZM495.6 74.7L498.5 74L495.8 74L492.8 74.7ZM492.8 74.7L495.8 74L493 74.1L490.1 74.7ZM490.1 74.7L493 74.1L490.3 74.3L487.4 74.8ZM501.3 74.1L504.3 73.4L501.5 73.4L498.5 74ZM498.5 74L501.5 73.4L498.7 73.5L495.8 74ZM495.8 74L498.7 73.5L496 73.6L493 74.1ZM493 74.1L496 73.6L493.3 73.9L490.3 74.3ZM507.1 73.5L510 72.9L507.2 72.9L504.3 73.4ZM504.3 73.4L507.2 72.9L504.4 72.9L501.5 73.4ZM501.5 73.4L504.4 72.9L501.7 73.1L498.7 73.5ZM498.7 73.5L501.7 73.1L498.9 73.3L496 73.6ZM496 73.6L498.9 73.3L496.2 73.6L493.3 73.9ZM512.8 73L515.8 72.5L513 72.4L510 72.9ZM510 72.9L513 72.4L510.2 72.5L507.2 72.9ZM507.2 72.9L510.2 72.5L507.4 72.6L504.4 72.9ZM504.4 72.9L507.4 72.6L504.6 72.8L501.7 73.1ZM518.6 72.6L521.5 72.2L518.7 72.1L515.8 72.5ZM515.8 72.5L518.7 72.1L515.9 72.1L513 72.4ZM513 72.4L515.9 72.1L513.1 72.2L510.2 72.5ZM510.2 72.5L513.1 72.2L510.3 72.4L507.4 72.6ZM521.5 72.2L524.5 71.8L521.6 71.8L518.7 72.1ZM518.7 72.1L521.6 71.8L518.8 71.9L515.9 72.1ZM515.9 72.1L518.8 71.9L516 72.1L513.1 72.2ZM527.3 71.9L530.2 71.7L527.4 71.7L524.5 71.8ZM524.5 71.8L527.4 71.7L524.6 71.7L521.6 71.8ZM533.1 71.8L536 71.6L533.2 71.6L530.2 71.7ZM530.2 71.7L533.2 71.6L530.3 71.6L527.4 71.7ZM538.9 71.7L541.8 71.6L538.9 71.6L536 71.6ZM536 71.6L538.9 71.6L536.1 71.6L533.2 71.6ZM544.7 71.8L547.6 71.8L544.7 71.7L541.8 71.6ZM550.5 72L553.3 72L550.4 71.9L547.6 71.8ZM559.1 72.5L562 72.6L559.1 72.4L556.2 72.2ZM556.2 72.2L559.1 72.4L556.2 72.2L553.3 72ZM564.9 72.9L567.8 73.1L564.9 72.8L562 72.6ZM570.7 73.4L573.5 73.7L570.6 73.4L567.8 73.1ZM579.4 74.6L582.2 74.8L579.3 74.4L576.5 74.1ZM576.5 74.1L579.3 74.4L576.3 74L573.5 73.7ZM588.1 75.9L590.9 76.2L588 75.6L585.2 75.3ZM585.2 75.3L588 75.6L585 75.2L582.2 74.8ZM596.8 77.6L599.6 77.9L596.6 77.2L593.9 76.9ZM593.9 76.9L596.6 77.2L593.7 76.6L590.9 76.2ZM590.9 76.2L593.7 76.6L590.7 76.1L588 75.6ZM605.5 79.6L608.2 79.9L605.3 79.1L602.5 78.7ZM602.5 78.7L605.3 79.1L602.3 78.3L599.6 77.9ZM599.6 77.9L602.3 78.3L599.4 77.7L596.6 77.2ZM617.1 83L619.8 83.3L616.9 82.2L614.1 81.9ZM614.1 81.9L616.9 82.2L613.9 81.2L611.2 80.8ZM611.2 80.8L613.9 81.2L610.9 80.4L608.2 79.9ZM608.2 79.9L610.9 80.4L608 79.6L605.3 79.1ZM605.3 79.1L608 79.6L605 78.9L602.3 78.3ZM625.7 85.8L628.4 86.1L625.4 84.8L622.8 84.5ZM622.8 84.5L625.4 84.8L622.5 83.7L619.8 83.3ZM619.8 83.3L622.5 83.7L619.5 82.7L616.9 82.2ZM616.9 82.2L619.5 82.7L616.6 81.8L613.9 81.2ZM613.9 81.2L616.6 81.8L613.6 81L610.9 80.4ZM610.9 80.4L613.6 81L610.7 80.3L608 79.6ZM643 93.9L645.6 94L642.7 92.3L640.1 92.1ZM640.1 92.1L642.7 92.3L639.8 90.7L637.2 90.4ZM637.2 90.4L639.8 90.7L636.9 89.2L634.2 88.9ZM634.2 88.9L636.9 89.2L633.9 87.8L631.3 87.4ZM631.3 87.4L633.9 87.8L631 86.5L628.4 86.1ZM628.4 86.1L631 86.5L628.1 85.3L625.4 84.8ZM625.4 84.8L628.1 85.3L625.1 84.3L622.5 83.7ZM622.5 83.7L625.1 84.3L622.2 83.3L619.5 82.7ZM619.5 82.7L622.2 83.3L619.2 82.5L616.6 81.8Z"/>
<path fill="#847850" stroke="#847850" stroke-width="0.9" d="M562.2 136.5L565.2 133.4L562.3 130.3L559.3 133.4Z"/>
<path fill="#805c4c" stroke="#805c4c" stroke-width="0.9" d="M544.6 119.4L547.6 116.6L544.6 114.1L541.7 116.9ZM550.5 119.1L553.5 116.3L550.5 113.8L547.6 116.6ZM556.4 118.9L559.4 116.2L556.4 113.6L553.5 116.3Z"/>
<path fill="#704438" stroke="#704438" stroke-width="0.9" d="M518.1 100L521 97.6L518.1 96L515.1 98.3ZM524 99.4L526.9 97L524 95.3L521 97.6ZM600.7 104L603.6 102.3L600.7 99.9L597.7 101.5ZM606.5 104.8L609.4 103.2L606.5 100.7L603.6 102.3Z"/>
<path fill="#58382c" stroke="#58382c" stroke-width="0.9" d="M497.7 89.9L500.6 87.8L497.7 86.8L494.8 88.8Z"/>
<path fill="#503828" stroke="#503828" stroke-width="0.9" d="M494.8 88.8L497.7 86.8L494.9 85.8L491.9 87.7Z"/>
<path fill="#4c3828" stroke="#4c3828" stroke-width="0.9" d="M491.9 87.7L494.9 85.8L492 84.9L489.1 86.8ZM623.8 96.9L626.6 96.1L623.7 93.9L620.8 94.7Z"/>
<path fill="#483828" stroke="#483828" stroke-width="0.9" d="M489.1 86.8L492 84.9L489.2 84.1L486.2 85.9ZM626.6 96.1L629.4 95.4L626.5 93.3L623.7 93.9Z"/>
<path fill="#443c24" stroke="#443c24" stroke-width="0.9" d="M486.2 85.9L489.2 84.1L486.3 83.4L483.4 85.1Z"/>
<path fill="#3c3820" stroke="#3c3820" stroke-width="0.9" d="M483.4 85.1L486.3 83.4L483.5 82.7L480.6 84.4Z"/>
<path fill="#14140c" stroke="#14140c" stroke-width="0.9" d="M475 83.2L477.9 81.6L475.2 81.2L472.3 82.7ZM503.8 78.6L506.7 77.3L503.9 76.8L500.9 78ZM623.4 89.1L626.1 88.8L623.2 87.2L620.5 87.4ZM629.1 90.5L631.8 90.4L628.9 88.7L626.1 88.8Z"/>
<path fill="#748c40" stroke="#748c40" stroke-width="0.9" d="M593.8 169.2L596.7 165.7L593.9 161.7L591 165.2Z"/>
<path fill="#806450" stroke="#806450" stroke-width="0.9" d="M556.4 124.5L559.4 121.6L556.4 118.9L553.5 121.8ZM562.3 124.4L565.3 121.6L562.3 118.8L559.4 121.6ZM568.2 124.4L571.2 121.6L568.2 118.8L565.3 121.6Z"/>
<path fill="#805848" stroke="#805848" stroke-width="0.9" d="M547.6 116.6L550.5 113.8L547.6 111.4L544.6 114.1Z"/>
<path fill="#805448" stroke="#805448" stroke-width="0.9" d="M544.6 114.1L547.6 111.4L544.6 109.1L541.7 111.7ZM553.5 116.3L556.4 113.6L553.5 111.1L550.5 113.8ZM559.4 116.2L562.3 113.5L559.4 111L556.4 113.6ZM565.3 116.1L568.3 113.6L565.3 111L562.3 113.5Z"/>
<path fill="#7c4c44" stroke="#7c4c44" stroke-width="0.9" d="M538.7 109.4L541.7 106.8L538.7 104.7L535.8 107.2ZM571.2 111.1L574.2 108.7L571.2 106.3L568.3 108.6Z"/>
<path fill="#7c4c40" stroke="#7c4c40" stroke-width="0.9" d="M535.8 107.2L538.7 104.7L535.8 102.6L532.8 105.1ZM544.6 109.1L547.6 106.5L544.6 104.3L541.7 106.8ZM550.5 108.8L553.5 106.3L550.5 104.1L547.6 106.5ZM574.2 108.7L577.1 106.5L574.2 104.1L571.2 106.3ZM580.1 109L583 106.8L580.1 104.3L577.1 106.5Z"/>
<path fill="#784840" stroke="#784840" stroke-width="0.9" d="M532.8 105.1L535.8 102.6L532.8 100.7L529.9 103.1ZM538.7 104.7L541.7 102.2L538.7 100.2L535.8 102.6ZM577.1 106.5L580.1 104.3L577.2 102L574.2 104.1ZM583 106.8L586 104.7L583.1 102.3L580.1 104.3ZM588.9 107.2L591.9 105.2L588.9 102.7L586 104.7Z"/>
<path fill="#78483c" stroke="#78483c" stroke-width="0.9" d="M529.9 103.1L532.8 100.7L529.9 98.8L526.9 101.2Z"/>
<path fill="#74443c" stroke="#74443c" stroke-width="0.9" d="M526.9 101.2L529.9 98.8L526.9 97L524 99.4ZM532.8 100.7L535.8 98.3L532.8 96.5L529.9 98.8ZM577.2 102L580.1 100L577.2 97.8L574.2 99.7ZM583.1 102.3L586 100.4L583.1 98.1L580.1 100ZM588.9 102.7L591.9 100.9L588.9 98.6L586 100.4Z"/>
<path fill="#6c4038" stroke="#6c4038" stroke-width="0.9" d="M521 97.6L524 95.3L521 93.7L518.1 96ZM597.7 101.5L600.7 99.9L597.7 97.6L594.8 99.2ZM603.6 102.3L606.5 100.7L603.6 98.4L600.7 99.9Z"/>
<path fill="#643830" stroke="#643830" stroke-width="0.9" d="M512.2 92.9L515.2 90.8L512.2 89.4L509.3 91.5ZM518.1 92.2L521 90.1L518.1 88.8L515.2 90.8ZM524 91.6L526.9 89.6L524 88.2L521 90.1ZM529.9 91.1L532.8 89.1L529.9 87.7L526.9 89.6ZM535.8 90.6L538.7 88.7L535.8 87.2L532.8 89.1ZM541.7 90.3L544.6 88.4L541.7 86.9L538.7 88.7ZM556.5 91.6L559.4 89.9L556.4 88.2L553.5 89.9ZM562.4 91.6L565.3 89.9L562.4 88.2L559.4 89.9ZM568.3 91.8L571.2 90.1L568.3 88.4L565.3 89.9ZM574.2 92L577.1 90.4L574.2 88.6L571.2 90.1ZM583 94.3L586 92.8L583 90.8L580.1 92.3ZM588.9 94.8L591.9 93.3L588.9 91.3L586 92.8ZM594.8 95.4L597.7 94L594.8 91.9L591.9 93.3ZM609.4 99.3L612.3 97.9L609.4 95.7L606.5 97ZM615.2 100.3L618.1 99L615.2 96.7L612.3 97.9Z"/>
<path fill="#5c342c" stroke="#5c342c" stroke-width="0.9" d="M506.4 90.2L509.3 88.2L506.4 87L503.5 89ZM512.2 89.4L515.2 87.5L512.3 86.3L509.3 88.2ZM518.1 88.8L521.1 86.8L518.1 85.6L515.2 87.5ZM524 88.2L526.9 86.3L524 85L521.1 86.8ZM529.9 87.7L532.8 85.9L529.9 84.6L526.9 86.3ZM535.8 87.2L538.7 85.5L535.8 84.2L532.8 85.9ZM550.5 88.3L553.5 86.6L550.5 85.1L547.6 86.7ZM556.4 88.2L559.4 86.6L556.4 85.1L553.5 86.6ZM562.4 88.2L565.3 86.7L562.3 85.1L559.4 86.6ZM583 90.8L585.9 89.4L583 87.6L580.1 89ZM588.9 91.3L591.8 90L588.9 88.2L585.9 89.4ZM597.7 94L600.6 92.7L597.7 90.7L594.8 91.9ZM603.5 94.8L606.4 93.6L603.5 91.5L600.6 92.7ZM609.4 95.7L612.2 94.6L609.3 92.5L606.4 93.6Z"/>
<path fill="#58342c" stroke="#58342c" stroke-width="0.9" d="M503.5 89L506.4 87L503.5 85.9L500.6 87.8ZM509.3 88.2L512.3 86.3L509.4 85.1L506.4 87ZM515.2 87.5L518.1 85.6L515.2 84.5L512.3 86.3ZM594.8 91.9L597.7 90.7L594.7 88.8L591.8 90ZM600.6 92.7L603.5 91.5L600.5 89.6L597.7 90.7ZM615.2 96.7L618 95.7L615.1 93.5L612.2 94.6Z"/>
<path fill="#543428" stroke="#543428" stroke-width="0.9" d="M500.6 87.8L503.5 85.9L500.7 84.9L497.7 86.8ZM612.2 94.6L615.1 93.5L612.2 91.5L609.3 92.5Z"/>
<path fill="#4c3428" stroke="#4c3428" stroke-width="0.9" d="M497.7 86.8L500.7 84.9L497.8 84L494.9 85.8ZM615.1 93.5L617.9 92.7L615 90.7L612.2 91.5ZM620.8 94.7L623.7 93.9L620.7 91.9L617.9 92.7Z"/>
<path fill="#483428" stroke="#483428" stroke-width="0.9" d="M494.9 85.8L497.8 84L494.9 83.2L492 84.9Z"/>
<path fill="#443824" stroke="#443824" stroke-width="0.9" d="M492 84.9L494.9 83.2L492.1 82.4L489.2 84.1ZM623.7 93.9L626.5 93.3L623.5 91.3L620.7 91.9Z"/>
<path fill="#3c3420" stroke="#3c3420" stroke-width="0.9" d="M489.2 84.1L492.1 82.4L489.3 81.7L486.3 83.4Z"/>
<path fill="#302c1c" stroke="#302c1c" stroke-width="0.9" d="M486.3 83.4L489.3 81.7L486.5 81.1L483.5 82.7ZM632.1 94.8L634.9 94.3L632 92.4L629.2 92.8Z"/>
<path fill="#242414" stroke="#242414" stroke-width="0.9" d="M483.5 82.7L486.5 81.1L483.7 80.6L480.7 82.1ZM489.3 81.7L492.2 80.2L489.4 79.7L486.5 81.1ZM629.2 92.8L632 92.4L629.1 90.5L626.3 90.9Z"/>
<path fill="#805048" stroke="#805048" stroke-width="0.9" d="M550.5 113.8L553.5 111.1L550.5 108.8L547.6 111.4Z"/>
<path fill="#805044" stroke="#805044" stroke-width="0.9" d="M547.6 111.4L550.5 108.8L547.6 106.5L544.6 109.1ZM556.4 113.6L559.4 111L556.4 108.6L553.5 111.1ZM562.3 113.5L565.3 111L562.4 108.5L559.4 111ZM568.3 113.6L571.2 111.1L568.3 108.6L565.3 111Z"/>
<path fill="#7c4840" stroke="#7c4840" stroke-width="0.9" d="M541.7 106.8L544.6 104.3L541.7 102.2L538.7 104.7ZM547.6 106.5L550.5 104.1L547.6 101.9L544.6 104.3ZM556.4 108.6L559.4 106.2L556.5 103.9L553.5 106.3ZM553.5 106.3L556.5 103.9L553.5 101.7L550.5 104.1ZM562.4 108.5L565.3 106.2L562.4 103.8L559.4 106.2ZM559.4 106.2L562.4 103.8L559.4 101.6L556.5 103.9ZM568.3 108.6L571.2 106.3L568.3 103.9L565.3 106.2ZM565.3 106.2L568.3 103.9L565.3 101.6L562.4 103.8ZM571.2 106.3L574.2 104.1L571.2 101.7L568.3 103.9Z"/>
<path fill="#78443c" stroke="#78443c" stroke-width="0.9" d="M535.8 102.6L538.7 100.2L535.8 98.3L532.8 100.7ZM541.7 102.2L544.6 99.9L541.7 97.9L538.7 100.2ZM547.6 101.9L550.5 99.6L547.6 97.7L544.6 99.9ZM553.5 101.7L556.5 99.5L553.5 97.5L550.5 99.6ZM562.4 103.8L565.3 101.6L562.4 99.5L559.4 101.6ZM559.4 101.6L562.4 99.5L559.4 97.4L556.5 99.5ZM568.3 103.9L571.2 101.7L568.3 99.5L565.3 101.6ZM565.3 101.6L568.3 99.5L565.3 97.4L562.4 99.5ZM574.2 104.1L577.2 102L574.2 99.7L571.2 101.7ZM571.2 101.7L574.2 99.7L571.2 97.5L568.3 99.5ZM580.1 104.3L583.1 102.3L580.1 100L577.2 102Z"/>
<path fill="#704038" stroke="#704038" stroke-width="0.9" d="M529.9 98.8L532.8 96.5L529.9 94.8L526.9 97ZM526.9 97L529.9 94.8L526.9 93.1L524 95.3ZM535.8 98.3L538.7 96.1L535.8 94.3L532.8 96.5ZM532.8 96.5L535.8 94.3L532.8 92.6L529.9 94.8ZM541.7 97.9L544.6 95.8L541.7 94L538.7 96.1ZM553.5 97.5L556.5 95.4L553.5 93.5L550.5 95.5ZM559.4 97.4L562.4 95.4L559.4 93.5L556.5 95.4ZM580.1 100L583.1 98.1L580.1 96L577.2 97.8ZM586 100.4L588.9 98.6L586 96.4L583.1 98.1ZM591.9 100.9L594.8 99.2L591.9 96.9L588.9 98.6Z"/>
<path fill="#6c3c34" stroke="#6c3c34" stroke-width="0.9" d="M524 95.3L526.9 93.1L524 91.6L521 93.7ZM529.9 94.8L532.8 92.6L529.9 91.1L526.9 93.1ZM535.8 94.3L538.7 92.2L535.8 90.6L532.8 92.6ZM541.7 94L544.6 91.9L541.7 90.3L538.7 92.2ZM547.6 93.7L550.5 91.7L547.6 90L544.6 91.9ZM556.5 95.4L559.4 93.5L556.5 91.6L553.5 93.5ZM562.4 95.4L565.3 93.5L562.4 91.6L559.4 93.5ZM568.3 95.5L571.2 93.7L568.3 91.8L565.3 93.5ZM574.2 95.7L577.1 93.9L574.2 92L571.2 93.7ZM583.1 98.1L586 96.4L583 94.3L580.1 96ZM580.1 96L583 94.3L580.1 92.3L577.1 93.9ZM588.9 98.6L591.9 96.9L588.9 94.8L586 96.4Z"/>
<path fill="#543028" stroke="#543028" stroke-width="0.9" d="M506.4 87L509.4 85.1L506.5 84.1L503.5 85.9ZM512.3 86.3L515.2 84.5L512.3 83.4L509.4 85.1ZM518.1 85.6L521.1 83.9L518.2 82.8L515.2 84.5ZM524 85L527 83.4L524 82.2L521.1 83.9ZM538.7 85.5L541.7 83.9L538.7 82.6L535.8 84.2ZM544.6 85.3L547.6 83.7L544.6 82.4L541.7 83.9ZM550.5 85.1L553.5 83.6L550.5 82.3L547.6 83.7ZM571.2 86.9L574.1 85.6L571.2 84L568.2 85.3ZM577.1 87.2L580 85.9L577.1 84.3L574.1 85.6ZM583 87.6L585.9 86.4L582.9 84.8L580 85.9ZM591.8 90L594.7 88.8L591.8 87.1L588.9 88.2ZM597.7 90.7L600.5 89.6L597.6 87.8L594.7 88.8ZM603.5 91.5L606.4 90.5L603.4 88.6L600.5 89.6Z"/>
<path fill="#503028" stroke="#503028" stroke-width="0.9" d="M503.5 85.9L506.5 84.1L503.6 83.2L500.7 84.9ZM509.4 85.1L512.3 83.4L509.4 82.4L506.5 84.1ZM529.9 84.6L532.8 82.9L529.9 81.8L527 83.4ZM588.9 88.2L591.8 87.1L588.8 85.4L585.9 86.4ZM594.7 88.8L597.6 87.8L594.6 86.1L591.8 87.1ZM609.3 92.5L612.2 91.5L609.2 89.6L606.4 90.5Z"/>
<path fill="#483424" stroke="#483424" stroke-width="0.9" d="M500.7 84.9L503.6 83.2L500.7 82.3L497.8 84ZM617.9 92.7L620.7 91.9L617.8 90L615 90.7Z"/>
<path fill="#443424" stroke="#443424" stroke-width="0.9" d="M497.8 84L500.7 82.3L497.9 81.5L494.9 83.2Z"/>
<path fill="#382c20" stroke="#382c20" stroke-width="0.9" d="M494.9 83.2L497.9 81.5L495 80.8L492.1 82.4Z"/>
<path fill="#2c2818" stroke="#2c2818" stroke-width="0.9" d="M492.1 82.4L495 80.8L492.2 80.2L489.3 81.7ZM623.5 91.3L626.3 90.9L623.4 89.1L620.6 89.5Z"/>
<path fill="#1c1810" stroke="#1c1810" stroke-width="0.9" d="M486.5 81.1L489.4 79.7L486.6 79.2L483.7 80.6ZM506.6 79.3L509.6 77.9L506.7 77.3L503.8 78.6ZM611.9 86.5L614.7 86.1L611.8 84.6L609 84.9Z"/>
<path fill="#040804" stroke="#040804" stroke-width="0.9" d="M478.1 79.8L481 78.6L478.3 78.3L475.4 79.5ZM637.4 92L640.1 92.1L637.2 90.4L634.5 90.3Z"/>
<path fill="#748844" stroke="#748844" stroke-width="0.9" d="M602.4 166.4L605.4 163.1L602.6 159L599.7 162.3Z"/>
<path fill="#80584c" stroke="#80584c" stroke-width="0.9" d="M562.3 118.8L565.3 116.1L562.3 113.5L559.4 116.2Z"/>
<path fill="#804c44" stroke="#804c44" stroke-width="0.9" d="M553.5 111.1L556.4 108.6L553.5 106.3L550.5 108.8ZM559.4 111L562.4 108.5L559.4 106.2L556.4 108.6ZM565.3 111L568.3 108.6L565.3 106.2L562.4 108.5Z"/>
<path fill="#7c443c" stroke="#7c443c" stroke-width="0.9" d="M544.6 104.3L547.6 101.9L544.6 99.9L541.7 102.2ZM550.5 104.1L553.5 101.7L550.5 99.6L547.6 101.9ZM556.5 103.9L559.4 101.6L556.5 99.5L553.5 101.7Z"/>
<path fill="#744038" stroke="#744038" stroke-width="0.9" d="M538.7 100.2L541.7 97.9L538.7 96.1L535.8 98.3ZM544.6 99.9L547.6 97.7L544.6 95.8L541.7 97.9ZM550.5 99.6L553.5 97.5L550.5 95.5L547.6 97.7ZM547.6 97.7L550.5 95.5L547.6 93.7L544.6 95.8ZM556.5 99.5L559.4 97.4L556.5 95.4L553.5 97.5ZM562.4 99.5L565.3 97.4L562.4 95.4L559.4 97.4ZM568.3 99.5L571.2 97.5L568.3 95.5L565.3 97.4ZM574.2 99.7L577.2 97.8L574.2 95.7L571.2 97.5Z"/>
<path fill="#483024" stroke="#483024" stroke-width="0.9" d="M506.5 84.1L509.4 82.4L506.5 81.5L503.6 83.2ZM612.2 91.5L615 90.7L612.1 88.8L609.2 89.6Z"/>
<path fill="#402c20" stroke="#402c20" stroke-width="0.9" d="M503.6 83.2L506.5 81.5L503.7 80.7L500.7 82.3ZM609.2 89.6L612.1 88.8L609.1 87.1L606.3 87.8ZM615 90.7L617.8 90L614.9 88.2L612.1 88.8Z"/>
<path fill="#34281c" stroke="#34281c" stroke-width="0.9" d="M500.7 82.3L503.7 80.7L500.8 80L497.9 81.5Z"/>
<path fill="#282418" stroke="#282418" stroke-width="0.9" d="M497.9 81.5L500.8 80L498 79.4L495 80.8Z"/>
<path fill="#202014" stroke="#202014" stroke-width="0.9" d="M495 80.8L498 79.4L495.1 78.8L492.2 80.2ZM634.9 94.3L637.6 94L634.7 92.1L632 92.4Z"/>
<path fill="#181810" stroke="#181810" stroke-width="0.9" d="M492.2 80.2L495.1 78.8L492.3 78.3L489.4 79.7Z"/>
<path fill="#7c5c4c" stroke="#7c5c4c" stroke-width="0.9" d="M568.2 118.8L571.2 116.2L568.3 113.6L565.3 116.1ZM574.1 119L577.1 116.4L574.2 113.7L571.2 116.2ZM580 119.2L583 116.7L580.1 113.9L577.1 116.4Z"/>
<path fill="#703c34" stroke="#703c34" stroke-width="0.9" d="M538.7 96.1L541.7 94L538.7 92.2L535.8 94.3ZM544.6 95.8L547.6 93.7L544.6 91.9L541.7 94ZM550.5 95.5L553.5 93.5L550.5 91.7L547.6 93.7ZM577.2 97.8L580.1 96L577.1 93.9L574.2 95.7Z"/>
<path fill="#683834" stroke="#683834" stroke-width="0.9" d="M532.8 92.6L535.8 90.6L532.8 89.1L529.9 91.1ZM559.4 93.5L562.4 91.6L559.4 89.9L556.5 91.6ZM565.3 93.5L568.3 91.8L565.3 89.9L562.4 91.6Z"/>
<path fill="#603430" stroke="#603430" stroke-width="0.9" d="M526.9 89.6L529.9 87.7L526.9 86.3L524 88.2ZM559.4 89.9L562.4 88.2L559.4 86.6L556.4 88.2ZM586 92.8L588.9 91.3L585.9 89.4L583 90.8Z"/>
<path fill="#58302c" stroke="#58302c" stroke-width="0.9" d="M521.1 86.8L524 85L521.1 83.9L518.1 85.6ZM541.7 86.9L544.6 85.3L541.7 83.9L538.7 85.5ZM547.6 86.7L550.5 85.1L547.6 83.7L544.6 85.3ZM553.5 86.6L556.4 85.1L553.5 83.6L550.5 85.1ZM574.2 88.6L577.1 87.2L574.1 85.6L571.2 86.9ZM580.1 89L583 87.6L580 85.9L577.1 87.2Z"/>
<path fill="#502c24" stroke="#502c24" stroke-width="0.9" d="M515.2 84.5L518.2 82.8L515.3 81.8L512.3 83.4ZM521.1 83.9L524 82.2L521.1 81.2L518.2 82.8ZM553.5 83.6L556.4 82.3L553.5 81L550.5 82.3ZM580 85.9L582.9 84.8L580 83.3L577.1 84.3ZM600.5 89.6L603.4 88.6L600.5 86.9L597.6 87.8Z"/>
<path fill="#482c24" stroke="#482c24" stroke-width="0.9" d="M512.3 83.4L515.3 81.8L512.4 80.9L509.4 82.4ZM518.2 82.8L521.1 81.2L518.2 80.3L515.3 81.8ZM538.7 82.6L541.7 81.2L538.7 80.1L535.8 81.4ZM597.6 87.8L600.5 86.9L597.5 85.2L594.6 86.1Z"/>
<path fill="#3c2820" stroke="#3c2820" stroke-width="0.9" d="M509.4 82.4L512.4 80.9L509.5 80L506.5 81.5Z"/>
<path fill="#302418" stroke="#302418" stroke-width="0.9" d="M506.5 81.5L509.5 80L506.6 79.3L503.7 80.7ZM612.1 88.8L614.9 88.2L611.9 86.5L609.1 87.1ZM617.8 90L620.6 89.5L617.7 87.7L614.9 88.2Z"/>
<path fill="#282014" stroke="#282014" stroke-width="0.9" d="M503.7 80.7L506.6 79.3L503.8 78.6L500.8 80Z"/>
<path fill="#201c10" stroke="#201c10" stroke-width="0.9" d="M500.8 80L503.8 78.6L500.9 78L498 79.4Z"/>
<path fill="#18140c" stroke="#18140c" stroke-width="0.9" d="M498 79.4L500.9 78L498.1 77.5L495.1 78.8ZM518.3 78.1L521.2 76.9L518.3 76.2L515.4 77.4ZM617.7 87.7L620.5 87.4L617.5 85.8L614.7 86.1Z"/>
<path fill="#808848" stroke="#808848" stroke-width="0.9" d="M608.4 159.8L611.3 156.7L608.6 152.8L605.6 155.9Z"/>
<path fill="#683830" stroke="#683830" stroke-width="0.9" d="M538.7 92.2L541.7 90.3L538.7 88.7L535.8 90.6ZM544.6 91.9L547.6 90L544.6 88.4L541.7 90.3ZM550.5 91.7L553.5 89.9L550.5 88.3L547.6 90ZM571.2 93.7L574.2 92L571.2 90.1L568.3 91.8ZM577.1 93.9L580.1 92.3L577.1 90.4L574.2 92Z"/>
<path fill="#60342c" stroke="#60342c" stroke-width="0.9" d="M532.8 89.1L535.8 87.2L532.8 85.9L529.9 87.7ZM538.7 88.7L541.7 86.9L538.7 85.5L535.8 87.2ZM544.6 88.4L547.6 86.7L544.6 85.3L541.7 86.9ZM565.3 89.9L568.3 88.4L565.3 86.7L562.4 88.2ZM571.2 90.1L574.2 88.6L571.2 86.9L568.3 88.4ZM577.1 90.4L580.1 89L577.1 87.2L574.2 88.6ZM591.9 93.3L594.8 91.9L591.8 90L588.9 91.3Z"/>
<path fill="#583028" stroke="#583028" stroke-width="0.9" d="M526.9 86.3L529.9 84.6L527 83.4L524 85ZM532.8 85.9L535.8 84.2L532.8 82.9L529.9 84.6ZM559.4 86.6L562.3 85.1L559.4 83.6L556.4 85.1ZM565.3 86.7L568.2 85.3L565.3 83.8L562.3 85.1ZM585.9 89.4L588.9 88.2L585.9 86.4L583 87.6Z"/>
<path fill="#3c241c" stroke="#3c241c" stroke-width="0.9" d="M515.3 81.8L518.2 80.3L515.3 79.4L512.4 80.9ZM535.8 81.4L538.7 80.1L535.8 79L532.9 80.3ZM588.8 85.4L591.7 84.4L588.7 82.9L585.8 83.8ZM594.6 86.1L597.5 85.2L594.6 83.6L591.7 84.4Z"/>
<path fill="#302018" stroke="#302018" stroke-width="0.9" d="M512.4 80.9L515.3 79.4L512.4 78.6L509.5 80Z"/>
<path fill="#241c14" stroke="#241c14" stroke-width="0.9" d="M509.5 80L512.4 78.6L509.6 77.9L506.6 79.3ZM609.1 87.1L611.9 86.5L609 84.9L606.2 85.4ZM614.9 88.2L617.7 87.7L614.7 86.1L611.9 86.5Z"/>
<path fill="#0c0c04" stroke="#0c0c04" stroke-width="0.9" d="M498.1 77.5L501 76.4L498.2 76L495.3 77.1Z"/>
<path fill="#7c5048" stroke="#7c5048" stroke-width="0.9" d="M574.2 113.7L577.1 111.3L574.2 108.7L571.2 111.1Z"/>
<path fill="#4c2c24" stroke="#4c2c24" stroke-width="0.9" d="M527 83.4L529.9 81.8L527 80.7L524 82.2ZM532.8 82.9L535.8 81.4L532.9 80.3L529.9 81.8ZM559.4 83.6L562.3 82.4L559.4 81L556.4 82.3ZM585.9 86.4L588.8 85.4L585.8 83.8L582.9 84.8ZM591.8 87.1L594.6 86.1L591.7 84.4L588.8 85.4ZM606.4 90.5L609.2 89.6L606.3 87.8L603.4 88.6Z"/>
<path fill="#442820" stroke="#442820" stroke-width="0.9" d="M524 82.2L527 80.7L524.1 79.8L521.1 81.2ZM544.6 82.4L547.6 81L544.6 79.9L541.7 81.2ZM577.1 84.3L580 83.3L577 81.8L574.1 82.9Z"/>
<path fill="#38201c" stroke="#38201c" stroke-width="0.9" d="M521.1 81.2L524.1 79.8L521.2 78.9L518.2 80.3ZM541.7 81.2L544.6 79.9L541.7 78.8L538.7 80.1ZM568.2 82.5L571.1 81.5L568.2 80.1L565.3 81.2ZM600.5 86.9L603.3 86.1L600.4 84.5L597.5 85.2Z"/>
<path fill="#2c1c14" stroke="#2c1c14" stroke-width="0.9" d="M518.2 80.3L521.2 78.9L518.3 78.1L515.3 79.4ZM538.7 80.1L541.7 78.8L538.8 77.8L535.8 79ZM597.5 85.2L600.4 84.5L597.4 83L594.6 83.6Z"/>
<path fill="#241810" stroke="#241810" stroke-width="0.9" d="M515.3 79.4L518.3 78.1L515.4 77.4L512.4 78.6Z"/>
<path fill="#1c1410" stroke="#1c1410" stroke-width="0.9" d="M512.4 78.6L515.4 77.4L512.5 76.7L509.6 77.9ZM527 78.4L530 77.2L527.1 76.5L524.1 77.6ZM606.2 85.4L609 84.9L606 83.4L603.2 83.9Z"/>
<path fill="#14100c" stroke="#14100c" stroke-width="0.9" d="M509.6 77.9L512.5 76.7L509.7 76.2L506.7 77.3ZM530 77.2L532.9 76.1L530 75.4L527.1 76.5ZM576.9 79.6L579.8 78.9L576.9 77.8L574 78.5ZM603.2 83.9L606 83.4L603.1 82L600.3 82.4ZM609 84.9L611.8 84.6L608.8 83.1L606 83.4Z"/>
<path fill="#7c684c" stroke="#7c684c" stroke-width="0.9" d="M588.8 122.5L591.8 120L588.9 117.1L585.9 119.5ZM594.6 123L597.6 120.6L594.7 117.6L591.8 120Z"/>
<path fill="#7c604c" stroke="#7c604c" stroke-width="0.9" d="M585.9 119.5L588.9 117.1L585.9 114.3L583 116.7ZM591.8 120L594.7 117.6L591.8 114.7L588.9 117.1Z"/>
<path fill="#6c3834" stroke="#6c3834" stroke-width="0.9" d="M553.5 93.5L556.5 91.6L553.5 89.9L550.5 91.7Z"/>
<path fill="#643430" stroke="#643430" stroke-width="0.9" d="M547.6 90L550.5 88.3L547.6 86.7L544.6 88.4ZM553.5 89.9L556.4 88.2L553.5 86.6L550.5 88.3ZM580.1 92.3L583 90.8L580.1 89L577.1 90.4Z"/>
<path fill="#502c28" stroke="#502c28" stroke-width="0.9" d="M535.8 84.2L538.7 82.6L535.8 81.4L532.8 82.9ZM541.7 83.9L544.6 82.4L541.7 81.2L538.7 82.6ZM547.6 83.7L550.5 82.3L547.6 81L544.6 82.4ZM562.3 85.1L565.3 83.8L562.3 82.4L559.4 83.6ZM568.2 85.3L571.2 84L568.2 82.5L565.3 83.8ZM574.1 85.6L577.1 84.3L574.1 82.9L571.2 84Z"/>
<path fill="#402420" stroke="#402420" stroke-width="0.9" d="M529.9 81.8L532.9 80.3L529.9 79.3L527 80.7ZM556.4 82.3L559.4 81L556.4 79.8L553.5 81ZM582.9 84.8L585.8 83.8L582.9 82.3L580 83.3Z"/>
<path fill="#342018" stroke="#342018" stroke-width="0.9" d="M527 80.7L529.9 79.3L527 78.4L524.1 79.8ZM547.6 81L550.5 79.8L547.6 78.7L544.6 79.9ZM574.1 82.9L577 81.8L574 80.5L571.1 81.5Z"/>
<path fill="#281814" stroke="#281814" stroke-width="0.9" d="M524.1 79.8L527 78.4L524.1 77.6L521.2 78.9ZM529.9 79.3L532.9 78.1L530 77.2L527 78.4ZM550.5 79.8L553.5 78.7L550.5 77.6L547.6 78.7ZM577 81.8L579.9 80.9L576.9 79.6L574 80.5ZM582.9 82.3L585.8 81.5L582.8 80.2L579.9 80.9Z"/>
<path fill="#201410" stroke="#201410" stroke-width="0.9" d="M521.2 78.9L524.1 77.6L521.2 76.9L518.3 78.1ZM541.7 78.8L544.6 77.7L541.7 76.8L538.8 77.8ZM547.6 78.7L550.5 77.6L547.6 76.7L544.6 77.7ZM568.2 80.1L571.1 79.2L568.1 78.1L565.2 78.9ZM574 80.5L576.9 79.6L574 78.5L571.1 79.2ZM594.6 83.6L597.4 83L594.5 81.6L591.6 82.2ZM600.4 84.5L603.2 83.9L600.3 82.4L597.4 83Z"/>
<path fill="#7c6c4c" stroke="#7c6c4c" stroke-width="0.9" d="M597.5 126.1L600.5 123.6L597.6 120.6L594.6 123Z"/>
<path fill="#703c38" stroke="#703c38" stroke-width="0.9" d="M565.3 97.4L568.3 95.5L565.3 93.5L562.4 95.4ZM571.2 97.5L574.2 95.7L571.2 93.7L568.3 95.5Z"/>
<path fill="#301c18" stroke="#301c18" stroke-width="0.9" d="M532.9 80.3L535.8 79L532.9 78.1L529.9 79.3ZM559.4 81L562.3 79.9L559.3 78.8L556.4 79.8ZM585.8 83.8L588.7 82.9L585.8 81.5L582.9 82.3ZM591.7 84.4L594.6 83.6L591.6 82.2L588.7 82.9Z"/>
<path fill="#18100c" stroke="#18100c" stroke-width="0.9" d="M524.1 77.6L527.1 76.5L524.2 75.8L521.2 76.9ZM538.8 77.8L541.7 76.8L538.8 75.9L535.8 76.9ZM544.6 77.7L547.6 76.7L544.6 75.8L541.7 76.8ZM550.5 77.6L553.4 76.7L550.5 75.8L547.6 76.7ZM565.2 78.9L568.1 78.1L565.2 77L562.3 77.8ZM571.1 79.2L574 78.5L571 77.4L568.1 78.1ZM591.6 82.2L594.5 81.6L591.5 80.3L588.6 80.8ZM597.4 83L600.3 82.4L597.3 81.1L594.5 81.6Z"/>
<path fill="#100c08" stroke="#100c08" stroke-width="0.9" d="M521.2 76.9L524.2 75.8L521.3 75.2L518.3 76.2ZM527.1 76.5L530 75.4L527.1 74.8L524.2 75.8ZM541.7 76.8L544.6 75.8L541.7 75L538.8 75.9ZM547.6 76.7L550.5 75.8L547.6 75L544.6 75.8ZM568.1 78.1L571 77.4L568.1 76.4L565.2 77ZM574 78.5L576.9 77.8L573.9 76.8L571 77.4ZM588.6 80.8L591.5 80.3L588.5 79.1L585.7 79.5ZM594.5 81.6L597.3 81.1L594.3 79.8L591.5 80.3ZM620.5 87.4L623.2 87.2L620.3 85.7L617.5 85.8Z"/>
<path fill="#0c0808" stroke="#0c0808" stroke-width="0.9" d="M518.3 76.2L521.3 75.2L518.4 74.7L515.5 75.6ZM532.9 76.1L535.9 75.2L533 74.5L530 75.4ZM538.8 75.9L541.7 75L538.8 74.4L535.9 75.2ZM559.3 76.8L562.2 76.1L559.3 75.2L556.4 75.9ZM579.8 78.9L582.7 78.4L579.8 77.3L576.9 77.8ZM585.7 79.5L588.5 79.1L585.6 77.9L582.7 78.4Z"/>
<path fill="#7c644c" stroke="#7c644c" stroke-width="0.9" d="M597.6 120.6L600.6 118.2L597.7 115.3L594.7 117.6Z"/>
<path fill="#241410" stroke="#241410" stroke-width="0.9" d="M535.8 79L538.8 77.8L535.8 76.9L532.9 78.1ZM562.3 79.9L565.2 78.9L562.3 77.8L559.3 78.8ZM588.7 82.9L591.6 82.2L588.6 80.8L585.8 81.5Z"/>
<path fill="#1c100c" stroke="#1c100c" stroke-width="0.9" d="M532.9 78.1L535.8 76.9L532.9 76.1L530 77.2ZM559.3 78.8L562.3 77.8L559.3 76.8L556.4 77.7ZM585.8 81.5L588.6 80.8L585.7 79.5L582.8 80.2Z"/>
<path fill="#0c0804" stroke="#0c0804" stroke-width="0.9" d="M524.2 75.8L527.1 74.8L524.2 74.3L521.3 75.2ZM544.6 75.8L547.6 75L544.6 74.3L541.7 75ZM550.5 75.8L553.4 75.1L550.5 74.3L547.6 75ZM565.2 77L568.1 76.4L565.1 75.5L562.2 76.1ZM571 77.4L573.9 76.8L571 75.9L568.1 76.4ZM591.5 80.3L594.3 79.8L591.4 78.7L588.5 79.1Z"/>
<path fill="#7c5844" stroke="#7c5844" stroke-width="0.9" d="M597.7 115.3L600.6 113.2L597.7 110.4L594.8 112.5Z"/>
<path fill="#542c28" stroke="#542c28" stroke-width="0.9" d="M556.4 85.1L559.4 83.6L556.4 82.3L553.5 83.6Z"/>
<path fill="#442420" stroke="#442420" stroke-width="0.9" d="M550.5 82.3L553.5 81L550.5 79.8L547.6 81Z"/>
<path fill="#2c1814" stroke="#2c1814" stroke-width="0.9" d="M544.6 79.9L547.6 78.7L544.6 77.7L541.7 78.8ZM565.3 81.2L568.2 80.1L565.2 78.9L562.3 79.9ZM571.1 81.5L574 80.5L571.1 79.2L568.2 80.1Z"/>
<path fill="#140c08" stroke="#140c08" stroke-width="0.9" d="M535.8 76.9L538.8 75.9L535.9 75.2L532.9 76.1ZM562.3 77.8L565.2 77L562.2 76.1L559.3 76.8ZM582.8 80.2L585.7 79.5L582.7 78.4L579.8 78.9Z"/>
<path fill="#7c6444" stroke="#7c6444" stroke-width="0.9" d="M609.2 122.1L612.2 119.9L609.3 116.8L606.4 119Z"/>
<path fill="#785c44" stroke="#785c44" stroke-width="0.9" d="M603.5 116L606.4 113.9L603.6 111.1L600.6 113.2ZM609.3 116.8L612.3 114.8L609.4 112L606.4 113.9Z"/>
<path fill="#5c302c" stroke="#5c302c" stroke-width="0.9" d="M568.3 88.4L571.2 86.9L568.2 85.3L565.3 86.7Z"/>
<path fill="#341c18" stroke="#341c18" stroke-width="0.9" d="M553.5 81L556.4 79.8L553.5 78.7L550.5 79.8ZM580 83.3L582.9 82.3L579.9 80.9L577 81.8Z"/>
<path fill="#080404" stroke="#080404" stroke-width="0.9" d="M533 74.5L535.9 73.8L533 73.3L530.1 74ZM547.6 75L550.5 74.3L547.6 73.7L544.6 74.3ZM553.4 75.1L556.3 74.4L553.4 73.8L550.5 74.3ZM559.3 75.2L562.2 74.7L559.2 74L556.3 74.4ZM568.1 76.4L571 75.9L568 75L565.1 75.5ZM573.9 76.8L576.8 76.3L573.8 75.5L571 75.9ZM579.8 77.3L582.6 76.9L579.7 76L576.8 76.3ZM600.1 80.8L602.9 80.6L600 79.4L597.2 79.6Z"/>
<path fill="#70443c" stroke="#70443c" stroke-width="0.9" d="M594.8 103.3L597.7 101.5L594.8 99.2L591.9 100.9Z"/>
<path fill="#482824" stroke="#482824" stroke-width="0.9" d="M565.3 83.8L568.2 82.5L565.3 81.2L562.3 82.4Z"/>
<path fill="#3c201c" stroke="#3c201c" stroke-width="0.9" d="M562.3 82.4L565.3 81.2L562.3 79.9L559.4 81Z"/>
<path fill="#241414" stroke="#241414" stroke-width="0.9" d="M556.4 79.8L559.3 78.8L556.4 77.7L553.5 78.7Z"/>
<path fill="#1c1010" stroke="#1c1010" stroke-width="0.9" d="M553.5 78.7L556.4 77.7L553.4 76.7L550.5 77.6ZM579.9 80.9L582.8 80.2L579.8 78.9L576.9 79.6Z"/>
<path fill="#70483c" stroke="#70483c" stroke-width="0.9" d="M603.6 106.5L606.5 104.8L603.6 102.3L600.7 104Z"/>
<path fill="#482820" stroke="#482820" stroke-width="0.9" d="M571.2 84L574.1 82.9L571.1 81.5L568.2 82.5Z"/>
<path fill="#140c0c" stroke="#140c0c" stroke-width="0.9" d="M556.4 77.7L559.3 76.8L556.4 75.9L553.4 76.7Z"/>
<path fill="#100808" stroke="#100808" stroke-width="0.9" d="M553.4 76.7L556.4 75.9L553.4 75.1L550.5 75.8Z"/>
<path fill="#704c3c" stroke="#704c3c" stroke-width="0.9" d="M609.4 107.4L612.3 105.7L609.4 103.2L606.5 104.8ZM618.1 111.1L621 109.5L618.1 106.8L615.2 108.4Z"/>
<path fill="#746c44" stroke="#746c44" stroke-width="0.9" d="M632.2 126.5L635.1 124.6L632.3 121.4L629.4 123.2Z"/>
<path fill="#706040" stroke="#706040" stroke-width="0.9" d="M632.3 121.4L635.2 119.6L632.4 116.6L629.5 118.2Z"/>
<path fill="#705038" stroke="#705038" stroke-width="0.9" d="M623.8 112.3L626.7 110.7L623.9 107.9L621 109.5Z"/>
<path fill="#707040" stroke="#707040" stroke-width="0.9" d="M643.5 129.6L646.4 127.8L643.6 124.4L640.8 126.2Z"/>
<path fill="#6c6040" stroke="#6c6040" stroke-width="0.9" d="M635.2 119.6L638.1 118L635.3 115L632.4 116.6Z"/>
<path fill="#684834" stroke="#684834" stroke-width="0.9" d="M623.9 107.9L626.7 106.5L623.9 103.9L621 105.3Z"/>
<path fill="#60382c" stroke="#60382c" stroke-width="0.9" d="M612.3 97.9L615.2 96.7L612.2 94.6L609.4 95.7Z"/>
<path fill="#583428" stroke="#583428" stroke-width="0.9" d="M606.4 93.6L609.3 92.5L606.4 90.5L603.5 91.5Z"/>
<path fill="#706c3c" stroke="#706c3c" stroke-width="0.9" d="M646.4 127.8L649.2 126.2L646.5 122.8L643.6 124.4Z"/>
<path fill="#6c643c" stroke="#6c643c" stroke-width="0.9" d="M640.9 121.2L643.7 119.6L640.9 116.5L638.1 118Z"/>
<path fill="#68583c" stroke="#68583c" stroke-width="0.9" d="M635.3 115L638.1 113.6L635.3 110.7L632.4 112.1Z"/>
<path fill="#644c34" stroke="#644c34" stroke-width="0.9" d="M629.6 109.2L632.4 107.9L629.6 105.2L626.7 106.5Z"/>
<path fill="#442c20" stroke="#442c20" stroke-width="0.9" d="M603.4 88.6L606.3 87.8L603.3 86.1L600.5 86.9Z"/>
<path fill="#6c6c38" stroke="#6c6c38" stroke-width="0.9" d="M649.2 126.2L652 124.7L649.3 121.4L646.5 122.8Z"/>
<path fill="#645838" stroke="#645838" stroke-width="0.9" d="M638.1 113.6L640.9 112.2L638.1 109.4L635.3 110.7Z"/>
<path fill="#605038" stroke="#605038" stroke-width="0.9" d="M635.3 110.7L638.1 109.4L635.3 106.7L632.4 107.9Z"/>
<path fill="#5c4430" stroke="#5c4430" stroke-width="0.9" d="M629.6 105.2L632.4 104.1L629.5 101.6L626.7 102.7Z"/>
<path fill="#54382c" stroke="#54382c" stroke-width="0.9" d="M620.9 97.9L623.8 96.9L620.8 94.7L618 95.7Z"/>
<path fill="#503428" stroke="#503428" stroke-width="0.9" d="M618 95.7L620.8 94.7L617.9 92.7L615.1 93.5Z"/>
<path fill="#342418" stroke="#342418" stroke-width="0.9" d="M606.3 87.8L609.1 87.1L606.2 85.4L603.3 86.1Z"/>
<path fill="#281c14" stroke="#281c14" stroke-width="0.9" d="M603.3 86.1L606.2 85.4L603.2 83.9L600.4 84.5Z"/>
<path fill="#646438" stroke="#646438" stroke-width="0.9" d="M649.3 121.4L652.1 120L649.3 116.9L646.5 118.2Z"/>
<path fill="#584c30" stroke="#584c30" stroke-width="0.9" d="M635.3 106.7L638.1 105.6L635.2 103.1L632.4 104.1Z"/>
<path fill="#5c6434" stroke="#5c6434" stroke-width="0.9" d="M654.8 123.3L657.6 122L654.9 118.8L652.1 120Z"/>
<path fill="#545030" stroke="#545030" stroke-width="0.9" d="M640.9 108.3L643.7 107.3L640.9 104.7L638.1 105.6Z"/>
<path fill="#50482c" stroke="#50482c" stroke-width="0.9" d="M635.2 103.1L638 102.2L635.1 99.8L632.3 100.6Z"/>
<path fill="#3c3020" stroke="#3c3020" stroke-width="0.9" d="M620.7 91.9L623.5 91.3L620.6 89.5L617.8 90Z"/>
<path fill="#546030" stroke="#546030" stroke-width="0.9" d="M657.6 122L660.4 120.9L657.6 117.8L654.9 118.8Z"/>
<path fill="#585c30" stroke="#585c30" stroke-width="0.9" d="M654.9 118.8L657.6 117.8L654.9 114.8L652.1 115.8Z"/>
<path fill="#4c4c2c" stroke="#4c4c2c" stroke-width="0.9" d="M640.9 104.7L643.6 103.9L640.8 101.4L638 102.2Z"/>
<path fill="#443c28" stroke="#443c28" stroke-width="0.9" d="M632.3 97.5L635 96.9L632.1 94.8L629.4 95.4Z"/>
<path fill="#403c24" stroke="#403c24" stroke-width="0.9" d="M629.4 95.4L632.1 94.8L629.2 92.8L626.5 93.3ZM635 96.9L637.8 96.4L634.9 94.3L632.1 94.8Z"/>
<path fill="#383020" stroke="#383020" stroke-width="0.9" d="M626.5 93.3L629.2 92.8L626.3 90.9L623.5 91.3Z"/>
<path fill="#201c14" stroke="#201c14" stroke-width="0.9" d="M620.6 89.5L623.4 89.1L620.5 87.4L617.7 87.7Z"/>
<path fill="#485c2c" stroke="#485c2c" stroke-width="0.9" d="M660.4 120.9L663.1 119.9L660.4 116.8L657.6 117.8Z"/>
<path fill="#50542c" stroke="#50542c" stroke-width="0.9" d="M654.9 114.8L657.6 113.9L654.8 111.1L652.1 111.9ZM652.1 111.9L654.8 111.1L652 108.3L649.3 109.1Z"/>
<path fill="#444428" stroke="#444428" stroke-width="0.9" d="M640.8 101.4L643.5 100.8L640.7 98.6L637.9 99.1Z"/>
<path fill="#1c1c10" stroke="#1c1c10" stroke-width="0.9" d="M626.3 90.9L629.1 90.5L626.1 88.8L623.4 89.1Z"/>
<path fill="#405828" stroke="#405828" stroke-width="0.9" d="M663.1 119.9L665.8 119.1L663.1 116L660.4 116.8Z"/>
<path fill="#445428" stroke="#445428" stroke-width="0.9" d="M660.4 116.8L663.1 116L660.3 113.1L657.6 113.9Z"/>
<path fill="#445028" stroke="#445028" stroke-width="0.9" d="M657.6 113.9L660.3 113.1L657.5 110.4L654.8 111.1Z"/>
<path fill="#444c28" stroke="#444c28" stroke-width="0.9" d="M654.8 111.1L657.5 110.4L654.7 107.7L652 108.3Z"/>
<path fill="#484c28" stroke="#484c28" stroke-width="0.9" d="M652 108.3L654.7 107.7L651.9 105.1L649.2 105.7Z"/>
<path fill="#444424" stroke="#444424" stroke-width="0.9" d="M646.4 103.2L649.1 102.7L646.2 100.4L643.5 100.8Z"/>
<path fill="#282818" stroke="#282818" stroke-width="0.9" d="M637.8 96.4L640.5 96L637.6 94L634.9 94.3Z"/>
<path fill="#385024" stroke="#385024" stroke-width="0.9" d="M665.8 119.1L668.5 118.3L665.7 115.4L663.1 116ZM663.1 116L665.7 115.4L663 112.5L660.3 113.1Z"/>
<path fill="#3c4c24" stroke="#3c4c24" stroke-width="0.9" d="M660.3 113.1L663 112.5L660.2 109.8L657.5 110.4Z"/>
<path fill="#3c4824" stroke="#3c4824" stroke-width="0.9" d="M657.5 110.4L660.2 109.8L657.4 107.2L654.7 107.7Z"/>
<path fill="#3c4820" stroke="#3c4820" stroke-width="0.9" d="M654.7 107.7L657.4 107.2L654.6 104.7L651.9 105.1Z"/>
<path fill="#343c1c" stroke="#343c1c" stroke-width="0.9" d="M651.9 105.1L654.6 104.7L651.8 102.3L649.1 102.7Z"/>
<path fill="#282c14" stroke="#282c14" stroke-width="0.9" d="M649.1 102.7L651.8 102.3L648.9 100L646.2 100.4Z"/>
<path fill="#202414" stroke="#202414" stroke-width="0.9" d="M646.2 100.4L648.9 100L646.1 97.9L643.4 98.1Z"/>
<path fill="#1c2010" stroke="#1c2010" stroke-width="0.9" d="M643.4 98.1L646.1 97.9L643.2 95.8L640.5 96Z"/>
<path fill="#304c20" stroke="#304c20" stroke-width="0.9" d="M668.5 118.3L671.1 117.8L668.4 114.9L665.7 115.4Z"/>
<path fill="#304820" stroke="#304820" stroke-width="0.9" d="M665.7 115.4L668.4 114.9L665.6 112.1L663 112.5Z"/>
<path fill="#283c18" stroke="#283c18" stroke-width="0.9" d="M663 112.5L665.6 112.1L662.9 109.4L660.2 109.8Z"/>
<path fill="#1c2810" stroke="#1c2810" stroke-width="0.9" d="M660.2 109.8L662.9 109.4L660.1 106.8L657.4 107.2Z"/>
<path fill="#1c2410" stroke="#1c2410" stroke-width="0.9" d="M657.4 107.2L660.1 106.8L657.3 104.4L654.6 104.7Z"/>
<path fill="#181c0c" stroke="#181c0c" stroke-width="0.9" d="M654.6 104.7L657.3 104.4L654.4 102.1L651.8 102.3Z"/>
<path fill="#10140c" stroke="#10140c" stroke-width="0.9" d="M648.9 100L651.6 99.9L648.7 97.8L646.1 97.9Z"/>
<g font-family="Liberation Sans, sans-serif" font-size="8" fill="#111" stroke="#111" stroke-width="0.15"><text x="425.6" y="173.5" text-anchor="end">50</text><text x="423.4" y="158.5" text-anchor="end">60</text><text x="421.2" y="143.5" text-anchor="end">70</text><text x="419" y="128.4" text-anchor="end">80</text><text x="416.8" y="113.4" text-anchor="end">90</text><text x="414.6" y="98.3" text-anchor="end">100</text><text x="412.4" y="83.3" text-anchor="end">110</text><text x="543.4" y="305.3" text-anchor="end">90</text><text x="524.4" y="289.4" text-anchor="end">120</text><text x="505.5" y="273.4" text-anchor="end">150</text><text x="486.5" y="257.4" text-anchor="end">180</text><text x="467.6" y="241.5" text-anchor="end">210</text><text x="448.6" y="225.5" text-anchor="end">240</text><text x="429.7" y="209.6" text-anchor="end">270</text><text x="551.8" y="305.9">180</text><text x="566" y="293.9">270</text><text x="580.3" y="281.9">360</text><text x="594.5" y="269.9">450</text><text x="608.8" y="257.8">540</text><text x="623" y="245.8">630</text><text x="637.2" y="233.8">720</text><text x="651.5" y="221.8">810</text><text x="665.7" y="209.8">900</text></g>
<circle cx="45.2" cy="123.8" r="2.4" fill="#c80000" stroke="#800000" stroke-width="0.5"/>
<circle cx="225.3" cy="78.1" r="2.4" fill="#c80000" stroke="#800000" stroke-width="0.5"/>
<circle cx="293.2" cy="115.3" r="2.4" fill="#c80000" stroke="#800000" stroke-width="0.5"/>
<circle cx="178.7" cy="221.2" r="2.4" fill="#c80000" stroke="#800000" stroke-width="0.5"/>
<rect x="167.6" y="79.8" width="4.8" height="10" rx="2.4" fill="#d00000" stroke="#900" stroke-width="0.5"/>
<circle cx="108.4" cy="166.2" r="2.3" fill="#e08888" stroke="#b06060" stroke-width="0.5"/>
<circle cx="239.6" cy="150.3" r="2.3" fill="#e08888" stroke="#b06060" stroke-width="0.5"/>
<circle cx="421.5" cy="118.4" r="2.4" fill="#c80000" stroke="#800000" stroke-width="0.5"/>
<rect x="545.3" y="85.6" width="4.6" height="7" rx="2.3" fill="#d80000" stroke="#900" stroke-width="0.5"/>
<circle cx="480.7" cy="160.5" r="2.4" fill="#c80000" stroke="#800000" stroke-width="0.5"/>
<circle cx="614.3" cy="153" r="2.4" fill="#c80000" stroke="#800000" stroke-width="0.5"/>
<circle cx="673.5" cy="116.6" r="2.3" fill="#e08888" stroke="#b06060" stroke-width="0.5"/>
<circle cx="547.6" cy="250.6" r="2.3" fill="#e08888" stroke="#b06060" stroke-width="0.5"/>
<line x1="531.3" y1="22.4" x2="531.5" y2="41.4" stroke="#333" stroke-width="0.9"/>
<line x1="532.2" y1="50.3" x2="532.5" y2="67" stroke="#333" stroke-width="0.9"/>
<g font-family="Liberation Sans, sans-serif" font-size="11.3" fill="#111" stroke="#111" stroke-width="0.25">
<text x="57.5" y="291.3">B: Pulse</text>
<text x="245" y="281.5">A: Intensity</text>
<text x="430.5" y="288">B: Time</text>
<text x="622" y="287.9">A: Power</text>
<text font-size="11.55" transform="translate(12,209.6) rotate(-90)">TPC (mg Gallic acid/g)</text>
<text font-size="11.55" transform="translate(388.6,204.6) rotate(-90)">TPC (mg Gallic acid/g)</text>
</g>
<g font-family="Liberation Serif, serif" font-size="17.5" fill="#111" stroke="#111" stroke-width="0.2">
<text x="156.5" y="331">(a)</text><text x="532" y="331">(b)</text></g>
</svg></body></html>
